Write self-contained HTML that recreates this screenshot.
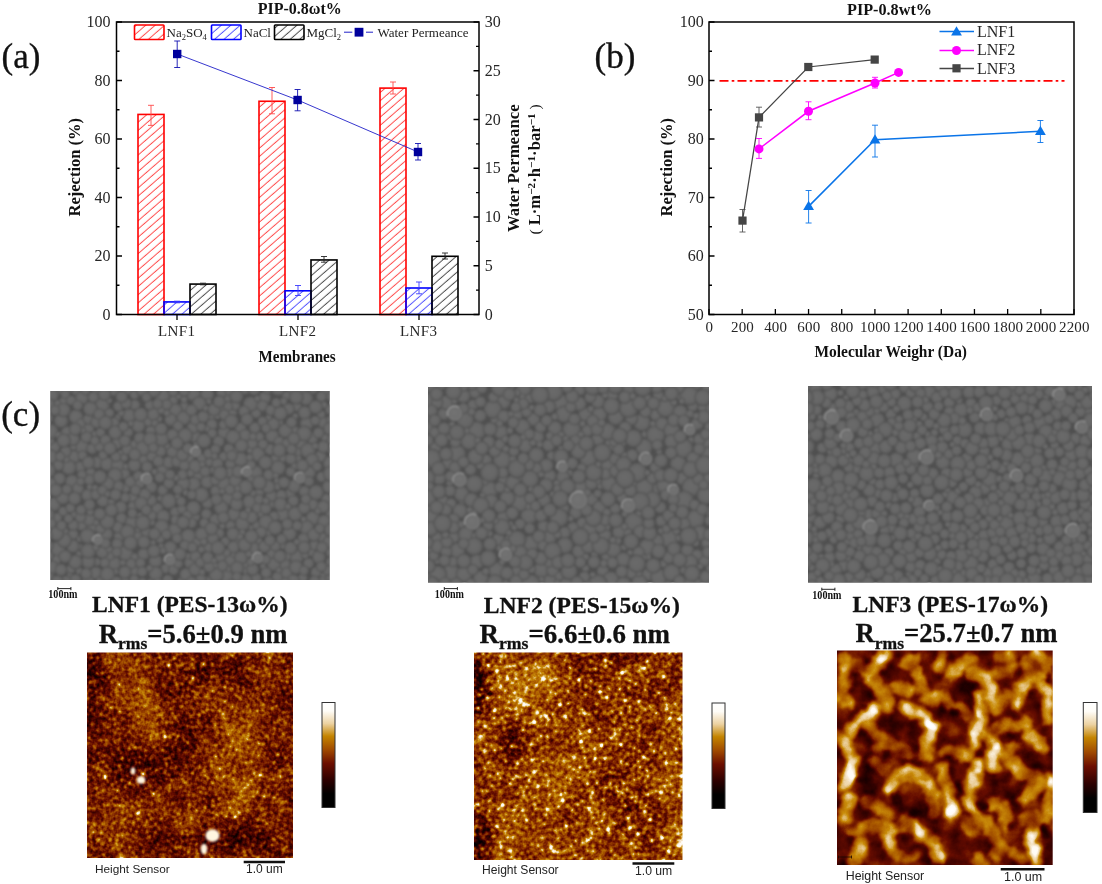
<!DOCTYPE html>
<html><head><meta charset="utf-8"><title>Figure</title>
<style>
html,body{margin:0;padding:0;background:#fff;}
body{width:1102px;height:884px;overflow:hidden;font-family:"Liberation Serif", serif;}
svg{display:block;position:absolute;left:0;top:0;will-change:transform;}
text{font-family:"Liberation Serif", serif;}
.tk{font-size:16px;fill:#262626;}
.tc{font-size:15px;fill:#262626;}
.ar{font-size:16.5px;font-weight:bold;fill:#111;}
.ax{font-size:15.8px;font-weight:bold;fill:#111;}
.ti{font-size:16.5px;font-weight:bold;fill:#111;}
.pl{font-size:34px;fill:#111;stroke:#111;stroke-width:0.35px;}
.cap{font-size:24px;font-weight:bold;fill:#111;stroke:#111;stroke-width:0.3px;}
.hs{font-family:"Liberation Sans", sans-serif;font-size:11.8px;fill:#222;}
.nm{font-size:12px;font-weight:bold;fill:#111;}
</style></head><body>
<svg width="1102" height="884" viewBox="0 0 1102 884">
<defs>
<pattern id="hr" width="6.2" height="6.2" patternUnits="userSpaceOnUse" patternTransform="rotate(-41)"><line x1="-1" y1="3" x2="7.2" y2="3" stroke="#ff2020" stroke-width="0.8"/></pattern>
<pattern id="hb" width="6.2" height="6.2" patternUnits="userSpaceOnUse" patternTransform="rotate(-41)"><line x1="-1" y1="3" x2="7.2" y2="3" stroke="#2a2aff" stroke-width="0.8"/></pattern>
<pattern id="hk" width="6.2" height="6.2" patternUnits="userSpaceOnUse" patternTransform="rotate(-41)"><line x1="-1" y1="3" x2="7.2" y2="3" stroke="#222" stroke-width="0.8"/></pattern>
<linearGradient id="cb" x1="0" y1="0" x2="0" y2="1">
<stop offset="0" stop-color="#ffffff"/><stop offset="0.08" stop-color="#fffdf8"/><stop offset="0.20" stop-color="#ecd2a2"/>
<stop offset="0.32" stop-color="#c48400"/><stop offset="0.45" stop-color="#a04a00"/><stop offset="0.58" stop-color="#6c0e00"/>
<stop offset="0.74" stop-color="#2c0000"/><stop offset="0.87" stop-color="#000"/><stop offset="1" stop-color="#000"/>
</linearGradient>

<radialGradient id="bp" fx="0.42" fy="0.42"><stop offset="0" stop-color="#6a6a6a"/><stop offset="0.6" stop-color="#676767"/><stop offset="0.85" stop-color="#5f5f5f"/><stop offset="1" stop-color="#4c4c4c"/></radialGradient>
<radialGradient id="bq" fx="0.42" fy="0.42"><stop offset="0" stop-color="#737373"/><stop offset="0.6" stop-color="#6f6f6f"/><stop offset="0.86" stop-color="#747474"/><stop offset="1" stop-color="#555"/></radialGradient>
<filter id="bl6" x="-0.1" y="-0.1" width="1.2" height="1.2" color-interpolation-filters="sRGB"><feGaussianBlur stdDeviation="6"/></filter>
<filter id="sb" x="-0.02" y="-0.02" width="1.04" height="1.04" color-interpolation-filters="sRGB"><feGaussianBlur stdDeviation="0.9"/></filter>

<filter id="fa1" x="0" y="0" width="1" height="1" color-interpolation-filters="sRGB">
<feTurbulence type="fractalNoise" baseFrequency="0.28" numOctaves="2" seed="3" result="n"/>
<feColorMatrix in="n" type="matrix" values="1 0 0 0 0 1 0 0 0 0 1 0 0 0 0 0 0 0 0 1" result="ng"/>
<feTurbulence type="fractalNoise" baseFrequency="0.2" numOctaves="1" seed="6" result="d"/>
<feColorMatrix in="d" type="matrix" values="1 0 0 0 0 1 0 0 0 0 1 0 0 0 0 0 0 0 0 1" result="dg"/>
<feComponentTransfer in="dg" result="sp"><feFuncR type="table" tableValues="0 0"/><feFuncG type="table" tableValues="0 0"/><feFuncB type="table" tableValues="0 0"/></feComponentTransfer>
<feTurbulence type="fractalNoise" baseFrequency="0.035" numOctaves="2" seed="10" result="m"/>
<feColorMatrix in="m" type="matrix" values="1 0 0 0 0 1 0 0 0 0 1 0 0 0 0 0 0 0 0 1" result="mg"/>
<feGaussianBlur in="SourceGraphic" stdDeviation="0.85" result="bg0"/>
<feOffset in="bg0" dx="0" dy="0" result="bg"/>
<feComposite in="bg" in2="ng" operator="arithmetic" k1="0" k2="1" k3="0.36" k4="-0.18" result="v1"/>
<feComposite in="v1" in2="mg" operator="arithmetic" k1="0" k2="1" k3="0.28" k4="-0.14" result="v2"/>
<feComposite in="v2" in2="sp" operator="arithmetic" k1="0" k2="1" k3="0.0" k4="0" result="v"/>
<feComponentTransfer in="v"><feFuncR type="table" tableValues="0 0 0.09 0.24 0.40 0.55 0.68 0.79 0.925 1 1"/><feFuncG type="table" tableValues="0 0 0 0.01 0.05 0.20 0.37 0.55 0.82 0.98 1"/><feFuncB type="table" tableValues="0 0 0 0 0 0 0 0.04 0.63 0.95 1"/></feComponentTransfer></filter>
<filter id="fa2" x="0" y="0" width="1" height="1" color-interpolation-filters="sRGB">
<feTurbulence type="fractalNoise" baseFrequency="0.28" numOctaves="2" seed="11" result="n"/>
<feColorMatrix in="n" type="matrix" values="1 0 0 0 0 1 0 0 0 0 1 0 0 0 0 0 0 0 0 1" result="ng"/>
<feTurbulence type="fractalNoise" baseFrequency="0.2" numOctaves="1" seed="14" result="d"/>
<feColorMatrix in="d" type="matrix" values="1 0 0 0 0 1 0 0 0 0 1 0 0 0 0 0 0 0 0 1" result="dg"/>
<feComponentTransfer in="dg" result="sp"><feFuncR type="table" tableValues="0 0"/><feFuncG type="table" tableValues="0 0"/><feFuncB type="table" tableValues="0 0"/></feComponentTransfer>
<feTurbulence type="fractalNoise" baseFrequency="0.03" numOctaves="2" seed="18" result="m"/>
<feColorMatrix in="m" type="matrix" values="1 0 0 0 0 1 0 0 0 0 1 0 0 0 0 0 0 0 0 1" result="mg"/>
<feGaussianBlur in="SourceGraphic" stdDeviation="0.9" result="bg0"/>
<feOffset in="bg0" dx="0" dy="0" result="bg"/>
<feComposite in="bg" in2="ng" operator="arithmetic" k1="0" k2="1" k3="0.36" k4="-0.18" result="v1"/>
<feComposite in="v1" in2="mg" operator="arithmetic" k1="0" k2="1" k3="0.28" k4="-0.14" result="v2"/>
<feComposite in="v2" in2="sp" operator="arithmetic" k1="0" k2="1" k3="0.0" k4="0" result="v"/>
<feComponentTransfer in="v"><feFuncR type="table" tableValues="0 0 0.09 0.24 0.40 0.55 0.68 0.79 0.925 1 1"/><feFuncG type="table" tableValues="0 0 0 0.01 0.05 0.20 0.37 0.55 0.82 0.98 1"/><feFuncB type="table" tableValues="0 0 0 0 0 0 0 0.04 0.63 0.95 1"/></feComponentTransfer></filter>
<filter id="fa3" x="0" y="0" width="1" height="1" color-interpolation-filters="sRGB">
<feTurbulence type="fractalNoise" baseFrequency="0.22" numOctaves="2" seed="5" result="n"/>
<feColorMatrix in="n" type="matrix" values="1 0 0 0 0 1 0 0 0 0 1 0 0 0 0 0 0 0 0 1" result="ng"/>
<feTurbulence type="fractalNoise" baseFrequency="0.2" numOctaves="1" seed="8" result="d"/>
<feColorMatrix in="d" type="matrix" values="1 0 0 0 0 1 0 0 0 0 1 0 0 0 0 0 0 0 0 1" result="dg"/>
<feComponentTransfer in="dg" result="sp"><feFuncR type="table" tableValues="0 0"/><feFuncG type="table" tableValues="0 0"/><feFuncB type="table" tableValues="0 0"/></feComponentTransfer>
<feTurbulence type="fractalNoise" baseFrequency="0.05" numOctaves="2" seed="12" result="m"/>
<feColorMatrix in="m" type="matrix" values="1 0 0 0 0 1 0 0 0 0 1 0 0 0 0 0 0 0 0 1" result="mg"/>
<feGaussianBlur in="SourceGraphic" stdDeviation="1.3" result="bg0"/>
<feTurbulence type="fractalNoise" baseFrequency="0.085" numOctaves="2" seed="18" result="dn"/><feDisplacementMap in="bg0" in2="dn" scale="9" xChannelSelector="R" yChannelSelector="G" result="bgd"/><feGaussianBlur in="bgd" stdDeviation="0.8" result="bg"/>
<feComposite in="bg" in2="ng" operator="arithmetic" k1="0" k2="1" k3="0.06" k4="-0.03" result="v1"/>
<feComposite in="v1" in2="mg" operator="arithmetic" k1="0" k2="1" k3="0.5" k4="-0.25" result="v2"/>
<feComposite in="v2" in2="sp" operator="arithmetic" k1="0" k2="1" k3="0.0" k4="0" result="v"/>
<feComponentTransfer in="v"><feFuncR type="table" tableValues="0 0 0.09 0.24 0.40 0.55 0.68 0.79 0.925 1 1"/><feFuncG type="table" tableValues="0 0 0 0.01 0.05 0.20 0.37 0.55 0.82 0.98 1"/><feFuncB type="table" tableValues="0 0 0 0 0 0 0 0.04 0.63 0.95 1"/></feComponentTransfer></filter>

</defs>

<g id="chartA">
<rect x="138.00" y="114.43" width="26" height="200.07" fill="url(#hr)" stroke="#ff0000" stroke-width="1.6"/>
<path d="M151.00 105.3V125.4M148.00 105.3h6M148.00 125.4h6" stroke="#ff4a4a" stroke-width="0.9" fill="none"/>
<rect x="164.00" y="301.92" width="26" height="12.58" fill="url(#hb)" stroke="#0000ff" stroke-width="1.6"/>
<path d="M177.00 301.2V302.8M174.00 301.2h6M174.00 302.8h6" stroke="#3a3aff" stroke-width="0.9" fill="none"/>
<rect x="190.00" y="284.08" width="26" height="30.42" fill="url(#hk)" stroke="#000000" stroke-width="1.6"/>
<path d="M203.00 283.2V284.8M200.00 283.2h6M200.00 284.8h6" stroke="#222" stroke-width="0.9" fill="none"/>
<rect x="259.00" y="101.27" width="26" height="213.23" fill="url(#hr)" stroke="#ff0000" stroke-width="1.6"/>
<path d="M272.00 87.5V113.8M269.00 87.5h6M269.00 113.8h6" stroke="#ff4a4a" stroke-width="0.9" fill="none"/>
<rect x="285.00" y="290.81" width="26" height="23.69" fill="url(#hb)" stroke="#0000ff" stroke-width="1.6"/>
<path d="M298.00 285.5V295.5M295.00 285.5h6M295.00 295.5h6" stroke="#3a3aff" stroke-width="0.9" fill="none"/>
<rect x="311.00" y="259.95" width="26" height="54.55" fill="url(#hk)" stroke="#000000" stroke-width="1.6"/>
<path d="M324.00 256.5V262.2M321.00 256.5h6M321.00 262.2h6" stroke="#222" stroke-width="0.9" fill="none"/>
<rect x="380.00" y="88.10" width="26" height="226.40" fill="url(#hr)" stroke="#ff0000" stroke-width="1.6"/>
<path d="M393.00 82V94M390.00 82h6M390.00 94h6" stroke="#ff4a4a" stroke-width="0.9" fill="none"/>
<rect x="406.00" y="288.00" width="26" height="26.50" fill="url(#hb)" stroke="#0000ff" stroke-width="1.6"/>
<path d="M419.00 282V293.8M416.00 282h6M416.00 293.8h6" stroke="#3a3aff" stroke-width="0.9" fill="none"/>
<rect x="432.00" y="256.29" width="26" height="58.21" fill="url(#hk)" stroke="#000000" stroke-width="1.6"/>
<path d="M445.00 253V259M442.00 253h6M442.00 259h6" stroke="#222" stroke-width="0.9" fill="none"/>
<polyline points="177.2,54 297.6,100 418,152" fill="none" stroke="#2020c8" stroke-width="0.9"/>
<path d="M177.2 41V67.5M174.2 41h6M174.2 67.5h6" stroke="#1010b0" stroke-width="0.9" fill="none"/>
<rect x="173.0" y="49.8" width="8.4" height="8.4" fill="#00009c"/>
<path d="M297.6 89.5V110.8M294.6 89.5h6M294.6 110.8h6" stroke="#1010b0" stroke-width="0.9" fill="none"/>
<rect x="293.40000000000003" y="95.8" width="8.4" height="8.4" fill="#00009c"/>
<path d="M418 143.5V160M415 143.5h6M415 160h6" stroke="#1010b0" stroke-width="0.9" fill="none"/>
<rect x="413.8" y="147.8" width="8.4" height="8.4" fill="#00009c"/>
<rect x="116.5" y="22" width="362.5" height="292.5" fill="none" stroke="#000" stroke-width="1.5"/>
<path d="M116.5 314.50h5.5M116.5 285.25h3M116.5 256.00h5.5M116.5 226.75h3M116.5 197.50h5.5M116.5 168.25h3M116.5 139.00h5.5M116.5 109.75h3M116.5 80.50h5.5M116.5 51.25h3M116.5 22.00h5.5M479 314.50h-5.5M479 290.12h-3M479 265.75h-5.5M479 241.38h-3M479 217.00h-5.5M479 192.62h-3M479 168.25h-5.5M479 143.88h-3M479 119.50h-5.5M479 95.12h-3M479 70.75h-5.5M479 46.38h-3M479 22.00h-5.5M177 314.5v5.5M298 314.5v5.5M419 314.5v5.5" stroke="#000" stroke-width="1.3" fill="none"/>
<text class="tk" x="110.6" y="319.60" text-anchor="end">0</text>
<text class="tk" x="110.6" y="261.10" text-anchor="end">20</text>
<text class="tk" x="110.6" y="202.60" text-anchor="end">40</text>
<text class="tk" x="110.6" y="144.10" text-anchor="end">60</text>
<text class="tk" x="110.6" y="85.60" text-anchor="end">80</text>
<text class="tk" x="110.6" y="27.10" text-anchor="end">100</text>
<text class="tk" x="484.8" y="319.60">0</text>
<text class="tk" x="484.8" y="270.85">5</text>
<text class="tk" x="484.8" y="222.10">10</text>
<text class="tk" x="484.8" y="173.35">15</text>
<text class="tk" x="484.8" y="124.60">20</text>
<text class="tk" x="484.8" y="75.85">25</text>
<text class="tk" x="484.8" y="27.10">30</text>
<text class="tc" x="176.6" y="335.5" text-anchor="middle" style="letter-spacing:0.4px">LNF1</text>
<text class="tc" x="297.6" y="335.5" text-anchor="middle" style="letter-spacing:0.4px">LNF2</text>
<text class="tc" x="418.6" y="335.5" text-anchor="middle" style="letter-spacing:0.4px">LNF3</text>
<text class="ax" x="258.5" y="361.7" textLength="77.2" lengthAdjust="spacingAndGlyphs">Membranes</text>
<text class="ar" transform="translate(80.3,216.5) rotate(-90)" textLength="98.6" lengthAdjust="spacingAndGlyphs">Rejection (%)</text>
<text class="ar" transform="translate(518.5,232) rotate(-90)" textLength="127.6" lengthAdjust="spacingAndGlyphs">Water Permeance</text>
<text class="ar" transform="translate(540,234.6) rotate(-90)" textLength="130.4" lengthAdjust="spacing"><tspan font-weight="normal" font-size="15.5">( </tspan>L·m<tspan dy="-5.5" font-size="11">−2</tspan><tspan dy="5.5">·h</tspan><tspan dy="-5.5" font-size="11">−1</tspan><tspan dy="5.5">·bar</tspan><tspan dy="-5.5" font-size="11">−1</tspan><tspan dy="5.5" font-weight="normal" font-size="15.5"> )</tspan></text>
<text class="ti" x="257.8" y="13.7" textLength="84" lengthAdjust="spacingAndGlyphs">PIP-0.8ωt%</text>
<rect x="134.5" y="25" width="29.5" height="14.5" rx="0.8" fill="url(#hr)" stroke="#ff0000" stroke-width="1.6"/>
<rect x="211.5" y="25" width="29.5" height="14.5" rx="0.8" fill="url(#hb)" stroke="#0000ff" stroke-width="1.6"/>
<rect x="274.5" y="25" width="29.5" height="14.5" rx="0.8" fill="url(#hk)" stroke="#000" stroke-width="1.6"/>
<text x="166.5" y="36.5" font-size="13" fill="#222">Na<tspan dy="3" font-size="8.5">2</tspan><tspan dy="-3">SO</tspan><tspan dy="3" font-size="8.5">4</tspan></text>
<text x="243.5" y="36.5" font-size="13" fill="#222">NaCl</text>
<text x="306.5" y="36.5" font-size="13" fill="#222">MgCl<tspan dy="3" font-size="8.5">2</tspan></text>
<path d="M344 32.2H352.3M366 32.2H373" stroke="#2020c8" stroke-width="1"/><rect x="354.6" y="27.8" width="8.8" height="8.8" fill="#00009c"/>
<text x="377.5" y="36.5" font-size="13" fill="#222">Water Permeance</text>
<text class="pl" x="1.5" y="67.5" style="font-size:35px">(a)</text>
</g>
<g id="chartB">
<path d="M719.5 80.9H1064.5" stroke="#ff0000" stroke-width="1.8" stroke-dasharray="9 3.2 2.6 3.2" fill="none"/>
<path d="M742.5 209.5V232M739.5 209.5h6M739.5 232h6" stroke="#555" stroke-width="0.9" fill="none"/>
<path d="M759 107.2V127M756 107.2h6M756 127h6" stroke="#555" stroke-width="0.9" fill="none"/>
<polyline points="742.5,220.6 759,117.4 808.3,67 874.7,59.6" fill="none" stroke="#454545" stroke-width="1.25"/>
<rect x="738.4" y="216.5" width="8.2" height="8.2" fill="#454545"/>
<rect x="754.9" y="113.30000000000001" width="8.2" height="8.2" fill="#454545"/>
<rect x="804.1999999999999" y="62.9" width="8.2" height="8.2" fill="#454545"/>
<rect x="870.6" y="55.5" width="8.2" height="8.2" fill="#454545"/>
<path d="M759 138.5V158.4M756 138.5h6M756 158.4h6" stroke="#ff00ff" stroke-width="0.9" fill="none"/>
<path d="M808.5 101.8V119.7M805.5 101.8h6M805.5 119.7h6" stroke="#ff00ff" stroke-width="0.9" fill="none"/>
<path d="M875 77.3V88M872 77.3h6M872 88h6" stroke="#ff00ff" stroke-width="0.9" fill="none"/>
<polyline points="759,148.9 808.5,111.3 875,83 898.6,72.4" fill="none" stroke="#ff00ff" stroke-width="1.55"/>
<circle cx="759" cy="148.9" r="4.5" fill="#ff00ff"/>
<circle cx="808.5" cy="111.3" r="4.5" fill="#ff00ff"/>
<circle cx="875" cy="83" r="4.5" fill="#ff00ff"/>
<circle cx="898.6" cy="72.4" r="4.5" fill="#ff00ff"/>
<path d="M808.6 190.5V223M805.6 190.5h6M805.6 223h6" stroke="#0a74e8" stroke-width="0.9" fill="none"/>
<path d="M875 125.2V157M872 125.2h6M872 157h6" stroke="#0a74e8" stroke-width="0.9" fill="none"/>
<path d="M1040.4 120.5V142.5M1037.4 120.5h6M1037.4 142.5h6" stroke="#0a74e8" stroke-width="0.9" fill="none"/>
<polyline points="808.6,206.4 875,139.8 1040.4,131.3" fill="none" stroke="#0a74e8" stroke-width="1.55"/>
<path d="M808.6 200.8L814.0 210.0H803.2Z" fill="#0a74e8"/>
<path d="M875 134.20000000000002L880.4 143.4H869.6Z" fill="#0a74e8"/>
<path d="M1040.4 125.70000000000002L1045.8000000000002 134.9H1035.0Z" fill="#0a74e8"/>
<rect x="709" y="22" width="365" height="292.5" fill="none" stroke="#000" stroke-width="1.5"/>
<path d="M709 314.50h5.5M709 285.25h3M709 256.00h5.5M709 226.75h3M709 197.50h5.5M709 168.25h3M709 139.00h5.5M709 109.75h3M709 80.50h5.5M709 51.25h3M709 22.00h5.5M709.00 314.5v-5.5M742.18 314.5v-5.5M775.36 314.5v-5.5M808.55 314.5v-5.5M841.73 314.5v-5.5M874.91 314.5v-5.5M908.09 314.5v-5.5M941.27 314.5v-5.5M974.45 314.5v-5.5M1007.64 314.5v-5.5M1040.82 314.5v-5.5M1074.00 314.5v-5.5" stroke="#000" stroke-width="1.3" fill="none"/>
<text class="tk" x="703.8" y="319.60" text-anchor="end">50</text>
<text class="tk" x="703.8" y="261.10" text-anchor="end">60</text>
<text class="tk" x="703.8" y="202.60" text-anchor="end">70</text>
<text class="tk" x="703.8" y="144.10" text-anchor="end">80</text>
<text class="tk" x="703.8" y="85.60" text-anchor="end">90</text>
<text class="tk" x="703.8" y="27.10" text-anchor="end">100</text>
<text class="tc" x="709.30" y="332.2" text-anchor="middle" style="letter-spacing:0.15px">0</text>
<text class="tc" x="742.48" y="332.2" text-anchor="middle" style="letter-spacing:0.15px">200</text>
<text class="tc" x="775.66" y="332.2" text-anchor="middle" style="letter-spacing:0.15px">400</text>
<text class="tc" x="808.85" y="332.2" text-anchor="middle" style="letter-spacing:0.15px">600</text>
<text class="tc" x="842.03" y="332.2" text-anchor="middle" style="letter-spacing:0.15px">800</text>
<text class="tc" x="875.21" y="332.2" text-anchor="middle" style="letter-spacing:0.15px">1000</text>
<text class="tc" x="908.39" y="332.2" text-anchor="middle" style="letter-spacing:0.15px">1200</text>
<text class="tc" x="941.57" y="332.2" text-anchor="middle" style="letter-spacing:0.15px">1400</text>
<text class="tc" x="974.75" y="332.2" text-anchor="middle" style="letter-spacing:0.15px">1600</text>
<text class="tc" x="1007.94" y="332.2" text-anchor="middle" style="letter-spacing:0.15px">1800</text>
<text class="tc" x="1041.12" y="332.2" text-anchor="middle" style="letter-spacing:0.15px">2000</text>
<text class="tc" x="1074.30" y="332.2" text-anchor="middle" style="letter-spacing:0.15px">2200</text>
<text class="ax" x="814.5" y="356.6" textLength="152.5" lengthAdjust="spacingAndGlyphs">Molecular Weighr (Da)</text>
<text class="ar" transform="translate(672.3,216.5) rotate(-90)" textLength="98.6" lengthAdjust="spacingAndGlyphs">Rejection (%)</text>
<text class="ti" x="847" y="14.8" textLength="85" lengthAdjust="spacingAndGlyphs">PIP-0.8wt%</text>
<path d="M939.5 31.5H974" stroke="#0a74e8" stroke-width="1.5"/>
<path d="M956.5 26.200000000000003L961.9 35.4H951.1Z" fill="#0a74e8"/>
<path d="M939.5 50.5H974" stroke="#ff00ff" stroke-width="1.5"/><circle cx="956.5" cy="50.5" r="4.5" fill="#ff00ff"/>
<path d="M939.5 68.5H974" stroke="#454545" stroke-width="1.4"/><rect x="952.4" y="64.2" width="8.2" height="8.2" fill="#454545"/>
<text class="tk" x="977" y="36.5">LNF1</text>
<text class="tk" x="977" y="55.3">LNF2</text>
<text class="tk" x="977" y="73.5">LNF3</text>
<text class="pl" x="594.5" y="67.5" style="font-size:35px">(b)</text>
</g>
<g id="sem">
<clipPath id="cs0"><rect x="50.5" y="391" width="279" height="189"/></clipPath>
<g clip-path="url(#cs0)"><rect x="47.5" y="388" width="285" height="195" fill="#505050"/><g filter="url(#sb)">
<g fill="url(#bp)"><circle cx="227.8" cy="498.8" r="7.0"/><circle cx="313.0" cy="388.7" r="5.9"/><circle cx="174.8" cy="529.9" r="7.3"/><circle cx="212.2" cy="470.3" r="3.5"/><circle cx="57.2" cy="517.8" r="5.3"/><circle cx="259.5" cy="492.2" r="5.0"/><circle cx="59.7" cy="388.6" r="6.9"/><circle cx="259.5" cy="436.8" r="5.0"/><circle cx="236.5" cy="540.7" r="3.3"/><circle cx="251.2" cy="527.9" r="3.3"/><circle cx="92.5" cy="527.9" r="5.7"/><circle cx="184.3" cy="406.8" r="5.1"/><circle cx="208.9" cy="547.3" r="5.7"/><circle cx="313.0" cy="518.1" r="7.5"/><circle cx="206.4" cy="514.1" r="5.7"/><circle cx="289.6" cy="533.6" r="7.5"/><circle cx="331.5" cy="504.6" r="4.5"/><circle cx="296.7" cy="556.9" r="7.7"/><circle cx="162.9" cy="468.9" r="6.3"/><circle cx="97.2" cy="462.5" r="6.5"/><circle cx="117.9" cy="417.3" r="3.3"/><circle cx="119.4" cy="536.1" r="5.9"/><circle cx="215.4" cy="519.9" r="6.3"/><circle cx="79.6" cy="538.8" r="3.5"/><circle cx="244.7" cy="389.4" r="5.5"/><circle cx="198.4" cy="474.8" r="5.7"/><circle cx="194.7" cy="436.2" r="6.5"/><circle cx="172.6" cy="451.5" r="6.6"/><circle cx="301.9" cy="388.3" r="8.0"/><circle cx="107.1" cy="464.0" r="7.2"/><circle cx="277.7" cy="577.2" r="6.0"/><circle cx="286.5" cy="395.6" r="5.0"/><circle cx="167.8" cy="580.1" r="5.8"/><circle cx="117.3" cy="543.9" r="6.0"/><circle cx="127.6" cy="389.1" r="6.6"/><circle cx="280.5" cy="422.3" r="3.2"/><circle cx="227.3" cy="398.2" r="5.3"/><circle cx="294.7" cy="466.3" r="4.3"/><circle cx="125.7" cy="553.3" r="8.0"/><circle cx="125.6" cy="488.2" r="5.0"/><circle cx="209.4" cy="462.3" r="4.7"/><circle cx="157.5" cy="508.5" r="6.2"/><circle cx="306.6" cy="527.4" r="7.6"/><circle cx="323.6" cy="422.6" r="6.2"/><circle cx="306.8" cy="423.6" r="7.1"/><circle cx="330.9" cy="513.8" r="5.7"/><circle cx="272.4" cy="504.4" r="3.8"/><circle cx="330.3" cy="463.1" r="7.6"/><circle cx="245.5" cy="570.8" r="3.7"/><circle cx="298.8" cy="451.3" r="5.5"/><circle cx="274.8" cy="459.2" r="5.0"/><circle cx="331.1" cy="552.6" r="5.5"/><circle cx="268.8" cy="474.9" r="5.9"/><circle cx="53.9" cy="504.3" r="7.3"/><circle cx="63.8" cy="401.4" r="5.1"/><circle cx="303.5" cy="539.0" r="6.3"/><circle cx="160.5" cy="498.5" r="3.6"/><circle cx="331.8" cy="420.4" r="5.9"/><circle cx="284.3" cy="564.2" r="6.9"/><circle cx="74.0" cy="456.7" r="7.0"/><circle cx="240.7" cy="428.2" r="6.1"/><circle cx="114.4" cy="422.5" r="5.4"/><circle cx="124.4" cy="473.5" r="6.0"/><circle cx="166.8" cy="445.6" r="3.7"/><circle cx="161.7" cy="438.8" r="8.0"/><circle cx="124.6" cy="581.9" r="5.7"/><circle cx="207.5" cy="503.1" r="5.9"/><circle cx="226.5" cy="576.2" r="7.4"/><circle cx="256.1" cy="472.5" r="7.1"/><circle cx="81.7" cy="446.5" r="7.7"/><circle cx="150.8" cy="430.7" r="5.5"/><circle cx="117.9" cy="465.1" r="7.1"/><circle cx="277.1" cy="486.6" r="4.0"/><circle cx="324.3" cy="521.5" r="7.0"/><circle cx="228.7" cy="568.7" r="3.6"/><circle cx="47.5" cy="515.1" r="7.5"/><circle cx="67.1" cy="432.2" r="6.3"/><circle cx="57.9" cy="549.0" r="8.0"/><circle cx="129.2" cy="415.5" r="7.3"/><circle cx="146.3" cy="532.0" r="5.6"/><circle cx="69.6" cy="575.5" r="3.3"/><circle cx="132.8" cy="497.7" r="5.7"/><circle cx="321.7" cy="476.9" r="5.6"/><circle cx="148.0" cy="421.6" r="5.4"/><circle cx="234.0" cy="514.3" r="7.1"/><circle cx="175.2" cy="512.0" r="5.5"/><circle cx="159.3" cy="418.9" r="3.4"/><circle cx="211.5" cy="417.1" r="3.7"/><circle cx="249.8" cy="501.9" r="7.5"/><circle cx="92.2" cy="448.6" r="5.8"/><circle cx="63.3" cy="511.4" r="5.2"/><circle cx="236.7" cy="504.2" r="6.9"/><circle cx="312.5" cy="438.4" r="6.0"/><circle cx="236.0" cy="450.5" r="3.3"/><circle cx="207.3" cy="394.3" r="7.2"/><circle cx="325.4" cy="389.4" r="6.6"/><circle cx="81.9" cy="525.8" r="5.4"/><circle cx="207.3" cy="482.0" r="6.9"/><circle cx="221.3" cy="507.9" r="7.6"/><circle cx="222.0" cy="408.4" r="3.5"/><circle cx="225.3" cy="541.6" r="5.0"/><circle cx="138.5" cy="425.9" r="7.2"/><circle cx="204.3" cy="523.0" r="5.2"/><circle cx="134.7" cy="445.0" r="5.3"/><circle cx="256.3" cy="578.6" r="5.9"/><circle cx="282.9" cy="546.0" r="3.3"/><circle cx="130.9" cy="423.7" r="3.2"/><circle cx="232.3" cy="412.2" r="5.4"/><circle cx="66.4" cy="582.3" r="7.0"/><circle cx="162.7" cy="490.3" r="5.6"/><circle cx="62.9" cy="497.4" r="7.4"/><circle cx="208.8" cy="401.5" r="3.2"/><circle cx="215.8" cy="491.0" r="5.8"/><circle cx="80.1" cy="547.1" r="3.3"/><circle cx="80.3" cy="466.9" r="5.9"/><circle cx="125.9" cy="466.4" r="3.2"/><circle cx="278.3" cy="467.9" r="7.8"/><circle cx="151.2" cy="500.4" r="6.1"/><circle cx="125.3" cy="497.7" r="5.2"/><circle cx="168.7" cy="462.4" r="6.5"/><circle cx="290.3" cy="493.5" r="5.5"/><circle cx="79.1" cy="554.0" r="3.4"/><circle cx="134.5" cy="394.9" r="5.0"/><circle cx="113.9" cy="563.5" r="7.8"/><circle cx="77.4" cy="389.3" r="7.2"/><circle cx="89.4" cy="519.8" r="6.8"/><circle cx="230.4" cy="560.3" r="6.2"/><circle cx="231.1" cy="583.0" r="3.7"/><circle cx="90.3" cy="512.0" r="4.0"/><circle cx="329.2" cy="578.7" r="5.7"/><circle cx="173.4" cy="400.3" r="5.1"/><circle cx="75.9" cy="416.8" r="7.6"/><circle cx="193.0" cy="427.7" r="6.4"/><circle cx="106.9" cy="533.9" r="6.5"/><circle cx="143.0" cy="458.8" r="5.7"/><circle cx="193.9" cy="484.2" r="7.3"/><circle cx="81.0" cy="423.5" r="5.1"/><circle cx="151.8" cy="456.1" r="5.8"/><circle cx="189.8" cy="562.7" r="6.0"/><circle cx="188.4" cy="536.4" r="8.0"/><circle cx="245.8" cy="564.6" r="3.6"/><circle cx="256.2" cy="413.1" r="5.5"/><circle cx="282.7" cy="514.4" r="7.3"/><circle cx="56.4" cy="559.9" r="5.0"/><circle cx="323.3" cy="575.4" r="3.3"/><circle cx="168.8" cy="501.1" r="8.1"/><circle cx="235.3" cy="405.5" r="5.2"/><circle cx="100.6" cy="528.8" r="5.6"/><circle cx="109.9" cy="556.0" r="5.1"/><circle cx="72.1" cy="481.6" r="7.2"/><circle cx="151.4" cy="487.3" r="6.2"/><circle cx="264.9" cy="397.8" r="6.6"/><circle cx="322.1" cy="581.9" r="5.5"/><circle cx="331.6" cy="438.9" r="6.1"/><circle cx="153.4" cy="414.2" r="6.8"/><circle cx="195.4" cy="556.2" r="6.1"/><circle cx="222.3" cy="526.1" r="3.3"/><circle cx="87.3" cy="495.2" r="6.4"/><circle cx="68.8" cy="467.4" r="7.9"/><circle cx="254.3" cy="389.3" r="6.4"/><circle cx="245.8" cy="580.7" r="7.0"/><circle cx="331.5" cy="562.1" r="6.0"/><circle cx="120.9" cy="507.3" r="6.6"/><circle cx="142.5" cy="582.6" r="5.1"/><circle cx="286.9" cy="573.2" r="6.3"/><circle cx="74.1" cy="514.6" r="3.6"/><circle cx="189.4" cy="459.5" r="5.5"/><circle cx="73.3" cy="534.3" r="5.6"/><circle cx="276.8" cy="480.5" r="3.4"/><circle cx="302.7" cy="578.3" r="5.2"/><circle cx="196.4" cy="444.8" r="3.5"/><circle cx="224.0" cy="483.3" r="7.6"/><circle cx="57.0" cy="403.6" r="4.2"/><circle cx="301.4" cy="443.2" r="6.5"/><circle cx="88.9" cy="428.7" r="5.7"/><circle cx="88.4" cy="419.0" r="5.6"/><circle cx="306.2" cy="398.5" r="7.3"/><circle cx="155.6" cy="561.2" r="7.2"/><circle cx="254.9" cy="427.9" r="6.0"/><circle cx="308.1" cy="450.6" r="8.0"/><circle cx="273.9" cy="564.1" r="7.3"/><circle cx="221.8" cy="392.3" r="5.8"/><circle cx="102.8" cy="501.0" r="6.4"/><circle cx="212.0" cy="424.6" r="6.0"/><circle cx="242.6" cy="523.6" r="7.9"/><circle cx="117.0" cy="443.6" r="6.0"/><circle cx="320.5" cy="456.3" r="6.1"/><circle cx="161.1" cy="546.0" r="3.1"/><circle cx="201.5" cy="494.9" r="7.9"/><circle cx="224.2" cy="432.8" r="6.9"/><circle cx="250.7" cy="404.0" r="7.9"/><circle cx="155.0" cy="423.3" r="3.8"/><circle cx="259.0" cy="541.0" r="3.8"/><circle cx="195.2" cy="466.7" r="7.4"/><circle cx="294.5" cy="430.9" r="5.1"/><circle cx="72.9" cy="546.2" r="6.9"/><circle cx="175.7" cy="410.4" r="7.2"/><circle cx="290.7" cy="548.1" r="6.9"/><circle cx="181.9" cy="581.5" r="4.9"/><circle cx="308.6" cy="563.4" r="5.7"/><circle cx="223.5" cy="456.7" r="5.0"/><circle cx="181.9" cy="509.3" r="5.0"/><circle cx="257.8" cy="508.3" r="5.9"/><circle cx="165.6" cy="568.7" r="5.3"/><circle cx="311.7" cy="551.9" r="5.1"/><circle cx="102.2" cy="405.2" r="7.9"/><circle cx="298.3" cy="458.8" r="3.8"/><circle cx="162.5" cy="395.7" r="8.0"/><circle cx="322.3" cy="537.4" r="5.2"/><circle cx="230.4" cy="525.3" r="5.2"/><circle cx="90.7" cy="472.3" r="5.0"/><circle cx="263.2" cy="566.2" r="3.3"/><circle cx="48.3" cy="575.1" r="6.0"/><circle cx="252.1" cy="444.1" r="6.3"/><circle cx="237.3" cy="495.2" r="5.5"/><circle cx="121.2" cy="413.1" r="3.7"/><circle cx="109.6" cy="413.0" r="5.0"/><circle cx="69.1" cy="388.8" r="4.3"/><circle cx="207.1" cy="429.0" r="3.2"/><circle cx="295.3" cy="513.8" r="7.7"/><circle cx="52.1" cy="394.8" r="7.3"/><circle cx="186.0" cy="574.5" r="6.8"/><circle cx="80.6" cy="517.5" r="5.8"/><circle cx="81.2" cy="509.9" r="5.5"/><circle cx="257.8" cy="454.3" r="7.8"/><circle cx="136.8" cy="536.2" r="6.0"/><circle cx="82.0" cy="397.9" r="7.1"/><circle cx="160.2" cy="538.8" r="4.9"/><circle cx="329.0" cy="542.2" r="6.5"/><circle cx="309.3" cy="472.5" r="6.9"/><circle cx="87.5" cy="536.0" r="8.0"/><circle cx="183.5" cy="483.6" r="7.0"/><circle cx="272.0" cy="553.3" r="5.8"/><circle cx="94.5" cy="434.0" r="3.2"/><circle cx="331.0" cy="451.0" r="3.3"/><circle cx="86.5" cy="437.1" r="6.2"/><circle cx="79.4" cy="570.9" r="4.0"/><circle cx="209.6" cy="581.5" r="5.8"/><circle cx="120.8" cy="452.8" r="3.2"/><circle cx="233.0" cy="534.0" r="6.9"/><circle cx="163.4" cy="516.4" r="7.1"/><circle cx="251.1" cy="480.4" r="5.0"/><circle cx="215.3" cy="480.5" r="5.1"/><circle cx="314.5" cy="545.2" r="5.5"/><circle cx="127.4" cy="449.6" r="5.9"/><circle cx="268.3" cy="532.7" r="3.8"/><circle cx="115.3" cy="432.5" r="7.3"/><circle cx="271.4" cy="495.9" r="6.3"/><circle cx="96.0" cy="573.2" r="6.8"/><circle cx="139.8" cy="438.1" r="6.2"/><circle cx="195.4" cy="419.7" r="5.8"/><circle cx="329.9" cy="428.7" r="6.9"/><circle cx="244.1" cy="411.4" r="6.0"/><circle cx="304.3" cy="433.6" r="8.0"/><circle cx="82.6" cy="455.6" r="5.0"/><circle cx="267.8" cy="582.8" r="6.6"/><circle cx="296.2" cy="567.3" r="7.3"/><circle cx="296.8" cy="406.6" r="5.3"/><circle cx="104.7" cy="562.8" r="5.4"/><circle cx="66.2" cy="459.3" r="3.8"/><circle cx="96.9" cy="562.0" r="4.3"/><circle cx="132.7" cy="506.2" r="5.1"/><circle cx="272.2" cy="436.0" r="7.3"/><circle cx="314.0" cy="534.8" r="6.9"/><circle cx="245.2" cy="435.4" r="6.5"/><circle cx="121.5" cy="518.5" r="6.0"/><circle cx="253.0" cy="436.6" r="4.1"/><circle cx="285.4" cy="430.7" r="7.5"/><circle cx="88.4" cy="561.7" r="7.4"/><circle cx="273.5" cy="424.1" r="6.8"/><circle cx="178.8" cy="396.7" r="3.1"/><circle cx="293.5" cy="580.6" r="6.6"/><circle cx="216.6" cy="499.6" r="6.0"/><circle cx="278.9" cy="570.2" r="3.1"/><circle cx="219.4" cy="533.4" r="5.3"/><circle cx="50.9" cy="523.6" r="5.7"/><circle cx="195.1" cy="516.8" r="5.3"/><circle cx="330.6" cy="409.6" r="5.8"/><circle cx="138.2" cy="529.3" r="3.3"/><circle cx="201.2" cy="427.1" r="5.0"/><circle cx="96.6" cy="422.2" r="6.2"/><circle cx="101.8" cy="582.6" r="7.2"/><circle cx="251.0" cy="465.1" r="5.3"/><circle cx="65.3" cy="394.3" r="5.0"/><circle cx="150.9" cy="582.0" r="3.9"/><circle cx="54.3" cy="447.2" r="6.2"/><circle cx="262.6" cy="405.9" r="6.0"/><circle cx="326.5" cy="498.9" r="5.5"/><circle cx="203.3" cy="416.8" r="6.3"/><circle cx="331.1" cy="529.9" r="7.2"/><circle cx="130.5" cy="481.8" r="6.1"/><circle cx="89.6" cy="504.7" r="5.9"/><circle cx="170.3" cy="547.7" r="7.0"/><circle cx="257.0" cy="525.2" r="4.9"/><circle cx="132.0" cy="522.4" r="7.1"/><circle cx="268.7" cy="417.5" r="3.3"/><circle cx="228.9" cy="448.8" r="5.6"/><circle cx="88.5" cy="462.6" r="6.7"/><circle cx="292.0" cy="389.1" r="4.9"/><circle cx="233.2" cy="437.2" r="7.7"/><circle cx="177.2" cy="461.7" r="6.0"/><circle cx="151.9" cy="522.4" r="3.6"/><circle cx="319.8" cy="528.7" r="5.2"/><circle cx="216.4" cy="574.9" r="7.7"/><circle cx="295.3" cy="416.2" r="3.2"/><circle cx="251.8" cy="517.3" r="6.5"/><circle cx="155.8" cy="573.6" r="7.5"/><circle cx="134.5" cy="465.2" r="6.9"/><circle cx="161.7" cy="527.1" r="7.9"/><circle cx="270.2" cy="449.5" r="6.0"/><circle cx="187.6" cy="555.9" r="3.4"/><circle cx="100.7" cy="432.5" r="5.0"/><circle cx="102.4" cy="552.0" r="6.7"/><circle cx="193.5" cy="394.0" r="7.7"/><circle cx="259.1" cy="499.4" r="5.1"/><circle cx="294.4" cy="486.3" r="7.0"/><circle cx="71.0" cy="569.1" r="5.0"/><circle cx="230.5" cy="463.9" r="5.6"/><circle cx="279.2" cy="441.6" r="5.6"/><circle cx="75.4" cy="562.0" r="7.4"/><circle cx="199.4" cy="403.6" r="7.4"/><circle cx="89.3" cy="479.8" r="5.7"/><circle cx="88.2" cy="582.8" r="7.3"/><circle cx="252.7" cy="569.4" r="6.5"/><circle cx="161.8" cy="409.6" r="5.0"/><circle cx="47.7" cy="418.2" r="5.9"/><circle cx="275.4" cy="546.1" r="5.6"/><circle cx="183.7" cy="418.1" r="7.3"/><circle cx="115.1" cy="475.4" r="7.8"/><circle cx="159.7" cy="477.4" r="5.6"/><circle cx="134.7" cy="556.9" r="4.0"/><circle cx="109.3" cy="400.5" r="3.2"/><circle cx="59.6" cy="478.6" r="6.5"/><circle cx="116.0" cy="456.9" r="5.3"/><circle cx="261.1" cy="514.7" r="3.5"/><circle cx="94.8" cy="487.9" r="3.7"/><circle cx="89.6" cy="487.1" r="3.3"/><circle cx="177.9" cy="496.4" r="3.3"/><circle cx="71.2" cy="400.5" r="5.3"/><circle cx="124.3" cy="457.9" r="4.0"/><circle cx="212.3" cy="433.4" r="5.1"/><circle cx="265.9" cy="559.6" r="5.2"/><circle cx="169.1" cy="483.3" r="6.0"/><circle cx="262.6" cy="421.3" r="5.2"/><circle cx="173.3" cy="391.9" r="5.1"/><circle cx="206.0" cy="408.4" r="3.4"/><circle cx="217.5" cy="463.7" r="6.1"/><circle cx="191.5" cy="410.2" r="6.1"/><circle cx="291.6" cy="422.3" r="5.8"/><circle cx="201.9" cy="458.2" r="5.0"/><circle cx="242.4" cy="532.4" r="3.4"/><circle cx="287.4" cy="524.1" r="5.9"/><circle cx="143.1" cy="448.3" r="7.9"/><circle cx="95.9" cy="388.9" r="5.3"/><circle cx="218.8" cy="441.5" r="6.1"/><circle cx="135.0" cy="404.9" r="5.6"/><circle cx="312.6" cy="504.6" r="6.2"/><circle cx="304.7" cy="412.7" r="6.9"/><circle cx="233.7" cy="554.3" r="3.3"/><circle cx="95.8" cy="494.8" r="5.3"/><circle cx="316.0" cy="572.3" r="5.6"/><circle cx="52.4" cy="567.4" r="6.9"/><circle cx="304.5" cy="491.5" r="5.9"/><circle cx="201.0" cy="579.3" r="5.7"/><circle cx="268.4" cy="486.9" r="7.2"/><circle cx="267.5" cy="388.5" r="5.8"/><circle cx="323.5" cy="446.9" r="6.5"/><circle cx="316.2" cy="492.4" r="7.9"/><circle cx="49.1" cy="555.9" r="4.7"/><circle cx="49.6" cy="582.4" r="3.5"/><circle cx="329.1" cy="486.7" r="7.2"/><circle cx="96.3" cy="522.5" r="3.3"/><circle cx="149.5" cy="568.3" r="3.6"/><circle cx="118.5" cy="486.4" r="5.8"/><circle cx="57.3" cy="581.3" r="6.3"/><circle cx="305.2" cy="555.2" r="3.9"/><circle cx="153.6" cy="390.0" r="7.9"/><circle cx="212.8" cy="538.2" r="6.4"/><circle cx="229.5" cy="391.4" r="4.9"/><circle cx="173.6" cy="570.0" r="5.6"/><circle cx="312.3" cy="459.9" r="6.8"/><circle cx="144.9" cy="494.5" r="6.5"/><circle cx="153.1" cy="543.0" r="3.2"/><circle cx="263.1" cy="444.3" r="5.3"/><circle cx="220.6" cy="557.1" r="5.8"/><circle cx="50.4" cy="457.0" r="7.7"/><circle cx="230.1" cy="472.7" r="5.5"/><circle cx="141.2" cy="503.5" r="7.1"/><circle cx="217.4" cy="416.2" r="3.4"/><circle cx="195.2" cy="569.6" r="6.7"/><circle cx="178.0" cy="489.5" r="5.3"/><circle cx="163.0" cy="550.8" r="3.7"/><circle cx="304.0" cy="570.6" r="5.1"/><circle cx="143.7" cy="554.1" r="6.4"/><circle cx="233.6" cy="547.1" r="6.5"/><circle cx="107.8" cy="483.7" r="7.0"/><circle cx="102.5" cy="490.4" r="5.3"/><circle cx="205.3" cy="471.5" r="5.7"/><circle cx="200.5" cy="562.5" r="5.3"/><circle cx="184.4" cy="465.6" r="5.6"/><circle cx="285.3" cy="582.6" r="5.1"/><circle cx="318.9" cy="557.2" r="7.0"/><circle cx="185.2" cy="435.5" r="7.9"/><circle cx="64.4" cy="540.3" r="7.6"/><circle cx="249.8" cy="450.7" r="3.2"/><circle cx="50.1" cy="440.7" r="4.5"/><circle cx="223.5" cy="517.7" r="6.3"/><circle cx="170.7" cy="419.7" r="6.6"/><circle cx="73.5" cy="446.9" r="3.6"/><circle cx="288.7" cy="409.1" r="6.2"/><circle cx="296.3" cy="397.2" r="7.4"/><circle cx="220.3" cy="473.3" r="7.5"/><circle cx="240.8" cy="459.4" r="7.6"/><circle cx="208.6" cy="453.6" r="5.4"/><circle cx="209.3" cy="566.7" r="6.2"/><circle cx="82.0" cy="474.7" r="5.0"/><circle cx="315.4" cy="446.1" r="3.6"/><circle cx="184.8" cy="545.6" r="5.5"/><circle cx="117.9" cy="527.4" r="6.0"/><circle cx="250.7" cy="562.0" r="4.2"/><circle cx="99.6" cy="446.5" r="5.6"/><circle cx="138.6" cy="476.5" r="5.9"/><circle cx="193.6" cy="508.2" r="7.7"/><circle cx="302.6" cy="465.6" r="6.6"/><circle cx="287.0" cy="443.5" r="5.5"/><circle cx="109.4" cy="549.3" r="3.7"/><circle cx="323.5" cy="506.8" r="6.7"/><circle cx="271.0" cy="410.3" r="5.8"/><circle cx="317.1" cy="466.4" r="5.1"/><circle cx="190.4" cy="473.5" r="4.0"/><circle cx="58.6" cy="465.4" r="5.7"/><circle cx="309.0" cy="481.5" r="5.4"/><circle cx="228.1" cy="406.5" r="5.1"/><circle cx="73.3" cy="525.2" r="5.8"/><circle cx="253.6" cy="548.0" r="6.3"/><circle cx="283.3" cy="458.0" r="4.4"/><circle cx="330.7" cy="473.8" r="7.9"/><circle cx="241.6" cy="445.7" r="7.0"/><circle cx="182.5" cy="474.8" r="5.4"/><circle cx="231.9" cy="455.8" r="5.8"/><circle cx="197.4" cy="542.0" r="4.9"/><circle cx="111.5" cy="502.1" r="3.7"/><circle cx="154.5" cy="471.8" r="3.4"/><circle cx="88.3" cy="550.9" r="7.9"/><circle cx="175.3" cy="519.9" r="5.0"/><circle cx="274.1" cy="516.4" r="5.4"/><circle cx="65.7" cy="531.0" r="3.2"/><circle cx="73.1" cy="439.1" r="6.9"/><circle cx="140.8" cy="414.6" r="7.4"/><circle cx="160.8" cy="451.3" r="5.8"/><circle cx="113.6" cy="389.9" r="6.7"/><circle cx="65.8" cy="451.6" r="5.9"/><circle cx="266.3" cy="572.8" r="5.8"/><circle cx="152.0" cy="515.7" r="5.0"/><circle cx="275.8" cy="475.7" r="3.3"/><circle cx="266.1" cy="522.3" r="7.9"/><circle cx="191.6" cy="582.3" r="6.1"/><circle cx="108.0" cy="494.0" r="3.5"/><circle cx="244.1" cy="515.2" r="5.0"/><circle cx="204.1" cy="440.8" r="7.6"/><circle cx="332.0" cy="396.8" r="5.7"/><circle cx="95.0" cy="440.8" r="5.0"/><circle cx="75.7" cy="579.6" r="5.8"/><circle cx="78.0" cy="488.7" r="6.2"/><circle cx="265.6" cy="462.5" r="7.3"/><circle cx="178.2" cy="426.1" r="5.5"/><circle cx="261.2" cy="532.2" r="5.9"/><circle cx="66.9" cy="489.5" r="5.5"/><circle cx="281.6" cy="539.2" r="5.5"/><circle cx="226.8" cy="552.9" r="4.2"/><circle cx="139.9" cy="515.4" r="3.2"/><circle cx="317.8" cy="511.2" r="3.4"/><circle cx="224.4" cy="414.8" r="5.7"/><circle cx="122.9" cy="562.8" r="3.2"/><circle cx="185.7" cy="492.7" r="3.3"/><circle cx="327.6" cy="570.4" r="5.3"/><circle cx="134.5" cy="571.2" r="5.6"/><circle cx="150.3" cy="439.3" r="7.4"/><circle cx="172.6" cy="434.9" r="6.3"/><circle cx="236.6" cy="396.4" r="7.1"/><circle cx="202.4" cy="464.3" r="3.3"/><circle cx="118.4" cy="406.4" r="5.5"/><circle cx="127.7" cy="532.0" r="7.8"/><circle cx="104.5" cy="394.3" r="6.7"/><circle cx="90.4" cy="408.8" r="7.6"/><circle cx="86.3" cy="573.8" r="6.1"/><circle cx="166.9" cy="413.2" r="3.6"/><circle cx="115.8" cy="571.8" r="3.3"/><circle cx="95.9" cy="547.6" r="3.6"/><circle cx="166.9" cy="404.6" r="5.5"/><circle cx="80.7" cy="481.6" r="4.3"/><circle cx="279.3" cy="450.4" r="7.2"/><circle cx="105.6" cy="440.2" r="5.9"/><circle cx="61.1" cy="420.8" r="7.4"/><circle cx="149.6" cy="405.1" r="5.3"/><circle cx="293.9" cy="438.8" r="6.5"/><circle cx="157.7" cy="403.9" r="5.5"/><circle cx="107.6" cy="574.4" r="7.9"/><circle cx="321.4" cy="566.6" r="5.6"/><circle cx="107.5" cy="521.6" r="8.0"/><circle cx="241.1" cy="557.8" r="7.1"/><circle cx="126.3" cy="403.5" r="5.9"/><circle cx="68.7" cy="518.7" r="5.0"/><circle cx="99.8" cy="514.0" r="6.4"/><circle cx="247.2" cy="419.4" r="6.6"/><circle cx="82.6" cy="430.4" r="3.4"/><circle cx="253.1" cy="493.2" r="3.4"/><circle cx="131.3" cy="563.9" r="5.6"/><circle cx="134.9" cy="454.5" r="6.5"/><circle cx="191.9" cy="494.9" r="5.0"/><circle cx="103.1" cy="455.3" r="4.9"/><circle cx="218.2" cy="548.0" r="7.5"/><circle cx="147.2" cy="467.0" r="6.0"/><circle cx="324.1" cy="404.9" r="3.7"/><circle cx="214.1" cy="409.7" r="6.8"/><circle cx="235.5" cy="481.0" r="6.9"/><circle cx="238.1" cy="471.7" r="6.5"/><circle cx="321.6" cy="396.6" r="5.6"/><circle cx="158.4" cy="461.3" r="5.9"/><circle cx="176.0" cy="477.9" r="3.5"/><circle cx="178.3" cy="563.8" r="5.0"/><circle cx="304.2" cy="507.9" r="6.5"/><circle cx="321.4" cy="414.4" r="4.4"/><circle cx="223.4" cy="424.8" r="4.9"/><circle cx="47.9" cy="470.6" r="8.0"/><circle cx="115.7" cy="494.8" r="6.2"/><circle cx="207.9" cy="557.7" r="6.2"/><circle cx="50.6" cy="431.4" r="8.0"/><circle cx="181.2" cy="501.5" r="5.1"/><circle cx="315.3" cy="420.7" r="5.1"/><circle cx="140.0" cy="483.7" r="5.1"/><circle cx="48.4" cy="404.6" r="6.7"/><circle cx="134.3" cy="579.7" r="5.1"/><circle cx="142.6" cy="390.4" r="6.7"/><circle cx="248.9" cy="554.1" r="3.8"/><circle cx="249.7" cy="457.5" r="3.8"/><circle cx="56.7" cy="533.7" r="7.4"/><circle cx="237.3" cy="568.0" r="7.0"/><circle cx="154.0" cy="551.1" r="6.8"/><circle cx="245.8" cy="487.3" r="7.7"/><circle cx="191.6" cy="523.0" r="5.5"/><circle cx="283.6" cy="401.3" r="4.0"/><circle cx="111.5" cy="510.2" r="6.8"/><circle cx="130.6" cy="543.0" r="7.5"/><circle cx="140.6" cy="563.0" r="5.3"/><circle cx="48.0" cy="492.8" r="4.2"/><circle cx="297.4" cy="525.8" r="5.3"/><circle cx="177.2" cy="538.3" r="5.4"/><circle cx="231.5" cy="421.3" r="7.3"/><circle cx="216.1" cy="565.1" r="3.3"/><circle cx="264.5" cy="546.7" r="6.4"/><circle cx="63.6" cy="410.0" r="7.3"/><circle cx="50.5" cy="483.6" r="6.1"/><circle cx="315.8" cy="407.1" r="7.2"/><circle cx="214.1" cy="560.8" r="3.2"/><circle cx="237.6" cy="488.6" r="3.5"/><circle cx="161.2" cy="428.9" r="6.6"/><circle cx="219.3" cy="401.7" r="6.4"/><circle cx="143.0" cy="522.8" r="7.9"/><circle cx="240.3" cy="537.0" r="3.6"/><circle cx="275.3" cy="527.8" r="7.5"/><circle cx="296.8" cy="541.9" r="3.4"/><circle cx="146.5" cy="397.4" r="5.0"/><circle cx="100.0" cy="477.0" r="7.3"/><circle cx="303.6" cy="519.3" r="3.2"/><circle cx="281.5" cy="495.3" r="5.8"/><circle cx="287.5" cy="556.7" r="3.8"/><circle cx="182.6" cy="455.0" r="6.6"/><circle cx="177.1" cy="443.2" r="6.6"/><circle cx="278.1" cy="388.4" r="7.8"/><circle cx="184.2" cy="399.6" r="3.8"/><circle cx="215.5" cy="449.4" r="5.3"/><circle cx="77.8" cy="405.3" r="5.4"/><circle cx="314.5" cy="581.5" r="5.9"/><circle cx="266.1" cy="428.3" r="5.1"/><circle cx="170.0" cy="474.6" r="5.4"/><circle cx="187.3" cy="515.4" r="5.2"/><circle cx="244.9" cy="544.9" r="7.3"/><circle cx="55.0" cy="410.4" r="5.4"/><circle cx="265.8" cy="508.7" r="6.0"/><circle cx="158.0" cy="582.9" r="5.2"/><circle cx="266.0" cy="500.9" r="3.8"/><circle cx="257.5" cy="398.6" r="3.4"/><circle cx="105.5" cy="543.4" r="5.6"/><circle cx="70.5" cy="508.0" r="5.2"/><circle cx="153.4" cy="447.9" r="5.3"/><circle cx="290.9" cy="458.8" r="6.0"/><circle cx="248.2" cy="510.0" r="3.3"/><circle cx="305.9" cy="499.2" r="5.4"/><circle cx="75.3" cy="429.2" r="6.5"/><circle cx="304.3" cy="547.5" r="6.7"/><circle cx="99.2" cy="414.3" r="6.0"/><circle cx="290.7" cy="471.9" r="5.3"/><circle cx="201.8" cy="534.1" r="7.2"/><circle cx="201.4" cy="549.5" r="3.8"/><circle cx="144.0" cy="542.2" r="6.7"/><circle cx="61.1" cy="569.9" r="6.4"/><circle cx="280.0" cy="556.4" r="6.6"/><circle cx="229.9" cy="489.7" r="5.4"/><circle cx="93.4" cy="397.3" r="5.8"/><circle cx="110.0" cy="448.4" r="6.8"/><circle cx="180.0" cy="554.2" r="6.7"/><circle cx="291.6" cy="449.4" r="5.5"/><circle cx="85.6" cy="390.3" r="5.1"/><circle cx="74.7" cy="498.5" r="6.9"/><circle cx="269.9" cy="540.5" r="5.8"/><circle cx="105.6" cy="422.8" r="7.3"/><circle cx="121.8" cy="396.9" r="6.3"/><circle cx="132.4" cy="513.3" r="5.2"/><circle cx="116.7" cy="581.9" r="5.9"/><circle cx="128.2" cy="432.4" r="5.3"/><circle cx="166.6" cy="534.6" r="5.3"/><circle cx="124.9" cy="572.3" r="6.7"/><circle cx="324.7" cy="437.6" r="3.8"/><circle cx="183.2" cy="522.4" r="6.8"/><circle cx="188.0" cy="448.5" r="5.8"/><circle cx="60.3" cy="456.6" r="5.0"/><circle cx="280.5" cy="413.3" r="7.4"/><circle cx="142.3" cy="571.8" r="5.5"/><circle cx="135.6" cy="490.3" r="5.5"/><circle cx="184.3" cy="390.8" r="5.8"/><circle cx="55.9" cy="490.4" r="6.8"/><circle cx="202.3" cy="572.2" r="3.4"/><circle cx="192.4" cy="547.5" r="5.4"/><circle cx="47.6" cy="545.9" r="6.1"/><circle cx="61.7" cy="525.7" r="5.4"/><circle cx="293.5" cy="500.9" r="5.9"/><circle cx="318.6" cy="432.9" r="5.8"/><circle cx="251.5" cy="536.6" r="7.3"/><circle cx="259.5" cy="482.7" r="7.5"/><circle cx="280.6" cy="504.4" r="7.2"/><circle cx="322.2" cy="547.6" r="6.0"/><circle cx="222.6" cy="565.9" r="5.7"/><circle cx="276.3" cy="402.8" r="5.1"/><circle cx="124.9" cy="440.9" r="6.2"/><circle cx="58.5" cy="435.0" r="3.6"/><circle cx="214.6" cy="456.2" r="3.6"/><circle cx="284.1" cy="482.5" r="6.1"/><circle cx="211.5" cy="528.6" r="6.8"/><circle cx="203.9" cy="541.9" r="3.9"/><circle cx="222.3" cy="491.4" r="3.2"/><circle cx="47.6" cy="535.3" r="5.3"/><circle cx="154.6" cy="533.9" r="6.3"/><circle cx="146.4" cy="510.1" r="5.5"/><circle cx="63.8" cy="440.6" r="7.1"/><circle cx="65.3" cy="556.6" r="6.7"/><circle cx="116.9" cy="552.3" r="5.2"/><circle cx="123.6" cy="426.7" r="5.4"/><circle cx="288.1" cy="506.6" r="3.5"/><circle cx="237.0" cy="577.0" r="5.2"/></g>
<g fill="url(#bq)"><circle cx="196.0" cy="452.0" r="5.5"/><circle cx="147.0" cy="479.0" r="6.0"/><circle cx="247.0" cy="472.0" r="5.5"/><circle cx="98.0" cy="540.0" r="5.5"/><circle cx="170.0" cy="560.0" r="6.0"/><circle cx="300.0" cy="478.0" r="6.0"/><circle cx="258.0" cy="558.0" r="6.0"/></g>
<g fill="none" stroke="#a0a0a0" stroke-width="1.1" stroke-linecap="round"><path d="M190.9 453.4A5.2 5.2 0 0 1 198.5 447.4"/><path d="M141.5 480.5A5.7 5.7 0 0 1 149.7 474.0"/><path d="M241.9 473.4A5.2 5.2 0 0 1 249.5 467.4"/><path d="M92.9 541.4A5.2 5.2 0 0 1 100.5 535.4"/><path d="M164.5 561.5A5.7 5.7 0 0 1 172.7 555.0"/><path d="M294.5 479.5A5.7 5.7 0 0 1 302.7 473.0"/><path d="M252.5 559.5A5.7 5.7 0 0 1 260.7 553.0"/></g>
</g></g>
<clipPath id="cs1"><rect x="428" y="387" width="281" height="195.5"/></clipPath>
<g clip-path="url(#cs1)"><rect x="425" y="384" width="287" height="201.5" fill="#505050"/><g filter="url(#sb)">
<g fill="url(#bp)"><circle cx="457.0" cy="453.6" r="9.3"/><circle cx="632.3" cy="455.3" r="6.6"/><circle cx="426.7" cy="400.9" r="8.7"/><circle cx="489.3" cy="489.9" r="9.1"/><circle cx="531.0" cy="543.6" r="8.7"/><circle cx="679.0" cy="396.4" r="3.5"/><circle cx="529.1" cy="515.5" r="8.9"/><circle cx="575.7" cy="512.7" r="6.7"/><circle cx="669.3" cy="538.6" r="9.5"/><circle cx="425.2" cy="448.8" r="3.9"/><circle cx="529.7" cy="398.0" r="5.9"/><circle cx="555.0" cy="428.1" r="7.6"/><circle cx="548.5" cy="445.3" r="6.5"/><circle cx="426.5" cy="427.1" r="7.6"/><circle cx="571.7" cy="429.7" r="9.7"/><circle cx="634.0" cy="521.9" r="9.9"/><circle cx="502.2" cy="459.8" r="9.5"/><circle cx="443.0" cy="500.9" r="6.1"/><circle cx="503.9" cy="480.4" r="6.0"/><circle cx="602.9" cy="571.1" r="6.5"/><circle cx="656.7" cy="541.3" r="7.6"/><circle cx="630.2" cy="552.7" r="3.2"/><circle cx="706.3" cy="577.1" r="7.1"/><circle cx="474.9" cy="392.3" r="6.3"/><circle cx="658.4" cy="395.3" r="5.7"/><circle cx="607.9" cy="465.4" r="7.1"/><circle cx="623.9" cy="454.9" r="3.7"/><circle cx="552.7" cy="494.3" r="3.4"/><circle cx="585.3" cy="414.5" r="7.3"/><circle cx="711.3" cy="567.6" r="5.8"/><circle cx="619.0" cy="532.1" r="7.0"/><circle cx="610.7" cy="447.8" r="3.4"/><circle cx="648.1" cy="574.8" r="6.7"/><circle cx="480.9" cy="578.5" r="8.2"/><circle cx="666.8" cy="585.3" r="5.8"/><circle cx="534.8" cy="386.1" r="5.8"/><circle cx="687.5" cy="550.3" r="6.8"/><circle cx="451.0" cy="572.9" r="9.3"/><circle cx="659.2" cy="451.7" r="3.3"/><circle cx="444.0" cy="413.8" r="6.6"/><circle cx="663.8" cy="563.8" r="4.3"/><circle cx="600.4" cy="486.1" r="3.6"/><circle cx="591.7" cy="499.4" r="6.8"/><circle cx="707.2" cy="387.0" r="6.2"/><circle cx="454.1" cy="537.4" r="5.9"/><circle cx="430.6" cy="386.2" r="7.2"/><circle cx="435.3" cy="447.6" r="6.3"/><circle cx="549.9" cy="580.9" r="7.5"/><circle cx="642.0" cy="422.5" r="9.0"/><circle cx="508.0" cy="538.5" r="3.3"/><circle cx="494.9" cy="451.0" r="6.5"/><circle cx="594.8" cy="554.2" r="4.1"/><circle cx="628.1" cy="532.9" r="4.4"/><circle cx="691.1" cy="440.1" r="3.5"/><circle cx="608.2" cy="442.9" r="3.4"/><circle cx="501.1" cy="432.1" r="7.5"/><circle cx="524.2" cy="388.4" r="8.0"/><circle cx="622.9" cy="443.5" r="3.2"/><circle cx="499.9" cy="444.4" r="5.7"/><circle cx="522.2" cy="397.0" r="3.3"/><circle cx="505.3" cy="439.1" r="3.9"/><circle cx="476.7" cy="430.7" r="9.8"/><circle cx="710.9" cy="511.5" r="5.9"/><circle cx="536.4" cy="455.2" r="8.3"/><circle cx="644.7" cy="434.4" r="3.6"/><circle cx="631.6" cy="572.9" r="6.4"/><circle cx="551.6" cy="455.8" r="4.9"/><circle cx="441.3" cy="384.5" r="5.8"/><circle cx="460.8" cy="524.8" r="4.2"/><circle cx="678.3" cy="463.5" r="8.6"/><circle cx="512.9" cy="459.1" r="4.0"/><circle cx="482.5" cy="495.6" r="3.2"/><circle cx="683.6" cy="448.3" r="10.0"/><circle cx="566.5" cy="585.2" r="8.2"/><circle cx="494.6" cy="419.7" r="4.5"/><circle cx="451.1" cy="503.5" r="5.6"/><circle cx="605.1" cy="535.2" r="6.9"/><circle cx="708.0" cy="442.9" r="6.7"/><circle cx="569.7" cy="473.1" r="3.5"/><circle cx="606.7" cy="556.6" r="5.7"/><circle cx="655.7" cy="434.8" r="9.9"/><circle cx="647.3" cy="547.1" r="8.8"/><circle cx="461.7" cy="502.6" r="3.2"/><circle cx="541.5" cy="569.9" r="8.3"/><circle cx="549.9" cy="537.1" r="7.2"/><circle cx="503.4" cy="517.1" r="6.7"/><circle cx="699.5" cy="439.5" r="6.3"/><circle cx="682.7" cy="478.6" r="7.0"/><circle cx="503.0" cy="472.6" r="5.8"/><circle cx="437.8" cy="574.7" r="9.4"/><circle cx="635.2" cy="483.6" r="4.7"/><circle cx="704.6" cy="560.5" r="6.4"/><circle cx="679.1" cy="538.0" r="3.6"/><circle cx="521.1" cy="478.6" r="3.2"/><circle cx="580.6" cy="487.2" r="7.9"/><circle cx="655.3" cy="489.4" r="5.8"/><circle cx="437.6" cy="561.0" r="3.5"/><circle cx="585.7" cy="568.4" r="3.9"/><circle cx="707.3" cy="542.9" r="6.4"/><circle cx="711.4" cy="426.8" r="7.3"/><circle cx="533.5" cy="419.4" r="6.9"/><circle cx="639.6" cy="583.1" r="8.6"/><circle cx="691.4" cy="486.9" r="9.9"/><circle cx="488.4" cy="525.6" r="5.7"/><circle cx="565.8" cy="438.9" r="3.5"/><circle cx="640.0" cy="531.7" r="7.0"/><circle cx="560.9" cy="402.9" r="8.9"/><circle cx="664.5" cy="485.4" r="8.5"/><circle cx="614.8" cy="458.8" r="6.0"/><circle cx="664.4" cy="386.8" r="3.7"/><circle cx="684.4" cy="500.2" r="9.8"/><circle cx="590.8" cy="408.9" r="3.5"/><circle cx="464.2" cy="574.2" r="8.4"/><circle cx="460.2" cy="510.9" r="7.8"/><circle cx="457.5" cy="550.6" r="8.1"/><circle cx="655.7" cy="415.1" r="6.0"/><circle cx="695.6" cy="518.9" r="9.8"/><circle cx="470.8" cy="582.8" r="4.7"/><circle cx="548.9" cy="406.6" r="7.1"/><circle cx="498.5" cy="539.4" r="6.8"/><circle cx="611.0" cy="580.1" r="9.0"/><circle cx="439.2" cy="478.3" r="7.1"/><circle cx="579.3" cy="403.7" r="7.5"/><circle cx="504.7" cy="585.2" r="5.8"/><circle cx="431.8" cy="458.7" r="10.1"/><circle cx="665.9" cy="495.2" r="6.0"/><circle cx="465.3" cy="420.0" r="9.1"/><circle cx="510.6" cy="524.4" r="3.4"/><circle cx="624.7" cy="514.0" r="3.4"/><circle cx="563.0" cy="477.3" r="7.2"/><circle cx="689.2" cy="585.0" r="9.3"/><circle cx="665.7" cy="408.0" r="9.5"/><circle cx="599.7" cy="414.3" r="7.8"/><circle cx="447.6" cy="463.5" r="6.0"/><circle cx="649.7" cy="533.3" r="7.7"/><circle cx="711.4" cy="408.8" r="6.4"/><circle cx="503.4" cy="401.8" r="7.8"/><circle cx="472.0" cy="384.0" r="6.7"/><circle cx="698.3" cy="478.8" r="6.2"/><circle cx="660.4" cy="507.4" r="6.4"/><circle cx="579.2" cy="551.3" r="7.4"/><circle cx="556.7" cy="483.2" r="3.6"/><circle cx="699.9" cy="533.1" r="7.9"/><circle cx="477.1" cy="561.6" r="7.8"/><circle cx="563.8" cy="508.3" r="5.8"/><circle cx="453.1" cy="561.8" r="5.4"/><circle cx="563.9" cy="414.3" r="8.7"/><circle cx="613.4" cy="549.2" r="8.5"/><circle cx="552.9" cy="570.4" r="6.7"/><circle cx="575.9" cy="440.8" r="6.3"/><circle cx="431.3" cy="517.3" r="8.9"/><circle cx="705.7" cy="434.4" r="5.7"/><circle cx="599.6" cy="507.4" r="7.0"/><circle cx="426.9" cy="477.5" r="8.6"/><circle cx="549.9" cy="475.7" r="6.7"/><circle cx="659.0" cy="577.3" r="9.0"/><circle cx="490.2" cy="429.2" r="7.3"/><circle cx="587.6" cy="430.6" r="6.3"/><circle cx="549.0" cy="561.8" r="6.1"/><circle cx="608.9" cy="483.6" r="8.3"/><circle cx="496.9" cy="570.5" r="8.8"/><circle cx="469.1" cy="441.3" r="8.7"/><circle cx="517.4" cy="415.1" r="5.6"/><circle cx="482.0" cy="388.1" r="5.9"/><circle cx="674.0" cy="402.4" r="3.6"/><circle cx="466.2" cy="534.5" r="8.4"/><circle cx="516.9" cy="392.9" r="3.9"/><circle cx="543.5" cy="526.4" r="6.3"/><circle cx="514.0" cy="451.2" r="5.6"/><circle cx="707.7" cy="453.7" r="7.1"/><circle cx="618.3" cy="540.9" r="3.6"/><circle cx="644.6" cy="487.5" r="9.5"/><circle cx="461.6" cy="494.0" r="8.1"/><circle cx="702.4" cy="407.4" r="4.7"/><circle cx="445.0" cy="583.2" r="6.3"/><circle cx="561.2" cy="448.7" r="3.2"/><circle cx="464.0" cy="561.1" r="7.5"/><circle cx="557.5" cy="582.2" r="3.2"/><circle cx="485.9" cy="571.4" r="3.9"/><circle cx="489.8" cy="533.8" r="3.3"/><circle cx="570.8" cy="407.1" r="5.8"/><circle cx="495.2" cy="582.7" r="8.6"/><circle cx="661.3" cy="521.0" r="6.1"/><circle cx="446.6" cy="402.6" r="7.6"/><circle cx="517.0" cy="539.7" r="9.5"/><circle cx="473.1" cy="404.8" r="5.7"/><circle cx="588.4" cy="546.1" r="7.7"/><circle cx="631.6" cy="418.9" r="6.7"/><circle cx="519.9" cy="502.5" r="9.6"/><circle cx="660.9" cy="530.9" r="3.3"/><circle cx="692.7" cy="406.3" r="5.6"/><circle cx="492.9" cy="409.3" r="9.6"/><circle cx="500.0" cy="487.4" r="5.8"/><circle cx="428.0" cy="508.0" r="3.3"/><circle cx="584.5" cy="577.0" r="5.9"/><circle cx="546.4" cy="465.5" r="7.3"/><circle cx="437.0" cy="537.6" r="5.9"/><circle cx="536.6" cy="468.6" r="6.1"/><circle cx="670.9" cy="384.4" r="3.5"/><circle cx="437.1" cy="402.9" r="6.2"/><circle cx="540.2" cy="409.9" r="6.9"/><circle cx="579.9" cy="389.7" r="6.2"/><circle cx="445.9" cy="509.9" r="6.4"/><circle cx="612.5" cy="395.2" r="6.1"/><circle cx="645.6" cy="411.5" r="6.3"/><circle cx="455.4" cy="442.1" r="5.9"/><circle cx="480.2" cy="415.8" r="6.6"/><circle cx="623.4" cy="559.6" r="7.7"/><circle cx="446.1" cy="454.0" r="7.0"/><circle cx="573.3" cy="528.1" r="6.4"/><circle cx="493.5" cy="397.2" r="5.7"/><circle cx="453.7" cy="519.2" r="6.2"/><circle cx="598.1" cy="401.5" r="7.2"/><circle cx="454.5" cy="401.0" r="3.4"/><circle cx="600.9" cy="546.0" r="9.3"/><circle cx="557.7" cy="489.1" r="4.7"/><circle cx="606.9" cy="512.5" r="4.4"/><circle cx="431.4" cy="410.9" r="6.5"/><circle cx="684.3" cy="523.8" r="6.5"/><circle cx="474.8" cy="536.0" r="3.4"/><circle cx="592.8" cy="421.2" r="6.6"/><circle cx="545.9" cy="384.2" r="4.6"/><circle cx="463.4" cy="396.0" r="7.4"/><circle cx="434.9" cy="420.4" r="6.3"/><circle cx="696.7" cy="384.2" r="6.0"/><circle cx="618.8" cy="449.3" r="6.3"/><circle cx="449.6" cy="483.1" r="3.6"/><circle cx="582.4" cy="522.9" r="5.9"/><circle cx="520.1" cy="524.0" r="5.7"/><circle cx="689.6" cy="395.7" r="10.0"/><circle cx="559.4" cy="576.3" r="4.5"/><circle cx="693.4" cy="458.6" r="7.3"/><circle cx="711.3" cy="584.0" r="4.7"/><circle cx="572.2" cy="396.6" r="7.1"/><circle cx="529.7" cy="528.5" r="5.8"/><circle cx="655.5" cy="467.7" r="6.1"/><circle cx="652.3" cy="478.4" r="5.9"/><circle cx="615.4" cy="384.8" r="9.5"/><circle cx="471.6" cy="411.9" r="4.1"/><circle cx="507.5" cy="498.2" r="8.1"/><circle cx="452.2" cy="424.6" r="3.5"/><circle cx="699.2" cy="449.1" r="6.2"/><circle cx="463.6" cy="408.5" r="5.7"/><circle cx="530.2" cy="479.0" r="9.0"/><circle cx="647.7" cy="398.3" r="4.2"/><circle cx="433.6" cy="555.4" r="5.9"/><circle cx="525.4" cy="445.8" r="7.5"/><circle cx="540.9" cy="558.5" r="7.1"/><circle cx="653.4" cy="565.7" r="7.9"/><circle cx="683.7" cy="570.4" r="4.0"/><circle cx="638.8" cy="552.3" r="6.2"/><circle cx="570.6" cy="518.6" r="3.3"/><circle cx="598.1" cy="439.1" r="7.0"/><circle cx="549.7" cy="436.0" r="4.2"/><circle cx="567.7" cy="486.4" r="8.1"/><circle cx="474.2" cy="546.4" r="9.2"/><circle cx="648.5" cy="556.9" r="3.2"/><circle cx="605.2" cy="395.3" r="3.3"/><circle cx="502.2" cy="527.1" r="8.6"/><circle cx="622.0" cy="497.6" r="5.8"/><circle cx="676.5" cy="531.2" r="3.7"/><circle cx="660.5" cy="475.5" r="6.7"/><circle cx="429.1" cy="487.2" r="5.7"/><circle cx="711.0" cy="477.6" r="8.0"/><circle cx="520.5" cy="552.6" r="7.5"/><circle cx="652.7" cy="499.8" r="8.6"/><circle cx="607.2" cy="527.1" r="3.6"/><circle cx="695.8" cy="542.9" r="3.9"/><circle cx="653.1" cy="423.8" r="3.4"/><circle cx="668.9" cy="557.6" r="6.5"/><circle cx="697.3" cy="423.6" r="6.8"/><circle cx="623.7" cy="584.7" r="8.2"/><circle cx="605.7" cy="474.0" r="5.8"/><circle cx="588.4" cy="458.0" r="9.2"/><circle cx="572.2" cy="463.3" r="6.3"/><circle cx="617.6" cy="489.5" r="7.1"/><circle cx="673.4" cy="499.4" r="6.2"/><circle cx="624.3" cy="547.3" r="3.6"/><circle cx="546.2" cy="485.3" r="7.4"/><circle cx="690.6" cy="469.4" r="8.7"/><circle cx="615.8" cy="471.1" r="6.6"/><circle cx="612.5" cy="562.8" r="6.0"/><circle cx="425.1" cy="555.9" r="4.4"/><circle cx="615.4" cy="508.7" r="5.7"/><circle cx="603.8" cy="563.4" r="4.1"/><circle cx="514.9" cy="441.0" r="7.5"/><circle cx="517.1" cy="580.7" r="8.2"/><circle cx="644.1" cy="447.1" r="8.9"/><circle cx="670.9" cy="475.4" r="8.1"/><circle cx="544.2" cy="499.9" r="7.1"/><circle cx="480.5" cy="401.9" r="5.9"/><circle cx="434.9" cy="432.6" r="5.9"/><circle cx="490.1" cy="544.1" r="7.1"/><circle cx="507.5" cy="489.5" r="3.4"/><circle cx="694.6" cy="504.9" r="5.7"/><circle cx="541.3" cy="579.7" r="3.4"/><circle cx="514.2" cy="527.7" r="3.2"/><circle cx="526.6" cy="411.9" r="5.7"/><circle cx="472.8" cy="569.8" r="5.7"/><circle cx="512.3" cy="513.1" r="6.8"/><circle cx="430.4" cy="528.8" r="7.9"/><circle cx="665.0" cy="398.4" r="3.5"/><circle cx="523.3" cy="403.8" r="6.0"/><circle cx="704.0" cy="417.0" r="7.3"/><circle cx="624.5" cy="526.7" r="3.6"/><circle cx="679.0" cy="387.4" r="6.1"/><circle cx="449.4" cy="437.1" r="3.4"/><circle cx="455.0" cy="467.6" r="6.5"/><circle cx="590.1" cy="528.8" r="7.9"/><circle cx="607.4" cy="431.5" r="9.0"/><circle cx="597.2" cy="429.4" r="6.6"/><circle cx="437.7" cy="546.6" r="7.2"/><circle cx="503.9" cy="416.4" r="6.7"/><circle cx="671.5" cy="393.4" r="7.5"/><circle cx="537.5" cy="436.8" r="7.0"/><circle cx="706.2" cy="495.3" r="9.5"/><circle cx="594.0" cy="562.1" r="6.7"/><circle cx="600.5" cy="527.6" r="5.8"/><circle cx="499.6" cy="548.4" r="3.5"/><circle cx="446.4" cy="551.6" r="6.1"/><circle cx="680.3" cy="412.1" r="7.6"/><circle cx="516.5" cy="400.0" r="3.2"/><circle cx="444.1" cy="428.6" r="6.6"/><circle cx="621.8" cy="571.6" r="6.5"/><circle cx="505.9" cy="449.0" r="3.8"/><circle cx="522.6" cy="426.8" r="8.3"/><circle cx="688.9" cy="536.2" r="9.4"/><circle cx="427.7" cy="497.7" r="8.8"/><circle cx="613.8" cy="442.5" r="4.3"/><circle cx="615.9" cy="417.1" r="8.5"/><circle cx="528.7" cy="464.9" r="6.2"/><circle cx="564.8" cy="532.8" r="6.3"/><circle cx="625.3" cy="427.7" r="6.6"/><circle cx="565.0" cy="545.4" r="8.5"/><circle cx="502.1" cy="562.2" r="3.3"/><circle cx="581.7" cy="468.0" r="5.0"/><circle cx="628.5" cy="408.3" r="9.8"/><circle cx="671.7" cy="572.7" r="9.1"/><circle cx="447.0" cy="542.0" r="6.3"/><circle cx="644.0" cy="557.8" r="3.2"/><circle cx="597.8" cy="493.6" r="4.4"/><circle cx="639.5" cy="512.6" r="4.1"/><circle cx="529.4" cy="434.2" r="5.7"/><circle cx="513.0" cy="482.6" r="7.7"/><circle cx="649.0" cy="523.2" r="6.2"/><circle cx="427.6" cy="440.4" r="6.4"/><circle cx="623.7" cy="464.7" r="8.6"/><circle cx="512.1" cy="385.5" r="3.7"/><circle cx="532.9" cy="442.9" r="3.6"/><circle cx="612.9" cy="540.2" r="3.7"/><circle cx="591.5" cy="483.4" r="6.8"/><circle cx="539.0" cy="536.7" r="6.9"/><circle cx="710.2" cy="520.7" r="5.8"/><circle cx="656.8" cy="386.9" r="6.9"/><circle cx="430.6" cy="585.3" r="9.8"/><circle cx="597.9" cy="584.2" r="10.1"/><circle cx="711.3" cy="487.0" r="3.6"/><circle cx="653.6" cy="403.4" r="6.6"/><circle cx="608.1" cy="499.2" r="8.1"/><circle cx="441.5" cy="440.2" r="7.2"/><circle cx="697.8" cy="581.7" r="3.5"/><circle cx="499.7" cy="423.6" r="3.8"/><circle cx="662.2" cy="423.8" r="7.0"/><circle cx="559.1" cy="517.7" r="9.7"/><circle cx="598.3" cy="480.7" r="3.4"/><circle cx="557.6" cy="534.8" r="4.0"/><circle cx="553.8" cy="391.6" r="9.6"/><circle cx="639.1" cy="573.2" r="3.4"/><circle cx="580.5" cy="537.0" r="9.3"/><circle cx="582.6" cy="423.7" r="3.4"/><circle cx="590.3" cy="397.3" r="6.1"/><circle cx="574.5" cy="419.2" r="6.2"/><circle cx="671.9" cy="430.6" r="8.5"/><circle cx="488.3" cy="558.5" r="8.7"/><circle cx="554.7" cy="416.7" r="3.8"/><circle cx="700.1" cy="566.6" r="3.2"/><circle cx="605.3" cy="520.3" r="5.8"/><circle cx="484.1" cy="481.5" r="4.6"/><circle cx="633.6" cy="438.3" r="9.2"/><circle cx="668.8" cy="515.8" r="6.6"/><circle cx="481.7" cy="533.2" r="6.9"/><circle cx="425.7" cy="467.2" r="4.2"/><circle cx="471.4" cy="500.0" r="7.5"/><circle cx="543.1" cy="545.9" r="5.5"/><circle cx="578.6" cy="451.4" r="8.1"/><circle cx="666.5" cy="528.9" r="4.6"/><circle cx="491.2" cy="501.1" r="7.3"/><circle cx="640.4" cy="501.7" r="10.0"/><circle cx="682.3" cy="512.2" r="7.1"/><circle cx="531.0" cy="583.9" r="9.8"/><circle cx="500.4" cy="387.4" r="9.7"/><circle cx="697.2" cy="554.8" r="5.7"/><circle cx="671.4" cy="441.4" r="7.4"/><circle cx="463.1" cy="386.2" r="5.9"/><circle cx="567.4" cy="387.1" r="6.2"/><circle cx="552.8" cy="551.0" r="9.2"/><circle cx="630.5" cy="490.6" r="6.7"/><circle cx="425.9" cy="575.9" r="4.5"/><circle cx="486.3" cy="460.1" r="6.1"/><circle cx="569.2" cy="571.4" r="8.6"/><circle cx="509.0" cy="532.9" r="3.3"/><circle cx="436.6" cy="394.0" r="6.9"/><circle cx="611.6" cy="406.2" r="8.8"/><circle cx="500.4" cy="506.5" r="7.0"/><circle cx="506.0" cy="544.9" r="5.8"/><circle cx="531.0" cy="489.3" r="3.3"/><circle cx="532.4" cy="554.0" r="5.9"/><circle cx="704.7" cy="465.2" r="10.0"/><circle cx="531.5" cy="569.3" r="4.3"/><circle cx="516.6" cy="570.5" r="5.3"/><circle cx="702.5" cy="509.4" r="6.2"/><circle cx="450.1" cy="490.9" r="6.1"/><circle cx="481.0" cy="505.5" r="8.9"/><circle cx="429.0" cy="549.6" r="3.2"/><circle cx="594.1" cy="537.6" r="5.7"/><circle cx="507.0" cy="573.1" r="6.9"/><circle cx="681.8" cy="401.3" r="3.2"/><circle cx="425.4" cy="418.1" r="4.3"/><circle cx="674.0" cy="548.8" r="7.1"/><circle cx="561.3" cy="434.7" r="3.4"/><circle cx="568.5" cy="445.5" r="6.3"/><circle cx="477.9" cy="440.6" r="3.5"/><circle cx="466.8" cy="430.9" r="3.3"/><circle cx="602.3" cy="452.7" r="9.5"/><circle cx="690.7" cy="562.1" r="7.6"/><circle cx="679.7" cy="560.0" r="7.6"/><circle cx="541.0" cy="515.7" r="6.6"/><circle cx="673.7" cy="420.2" r="6.5"/><circle cx="629.6" cy="386.2" r="8.0"/><circle cx="631.1" cy="541.5" r="8.2"/><circle cx="513.4" cy="422.6" r="6.0"/><circle cx="556.8" cy="440.5" r="6.1"/><circle cx="648.4" cy="512.8" r="7.3"/><circle cx="489.8" cy="472.3" r="10.0"/><circle cx="624.8" cy="397.3" r="6.6"/><circle cx="453.6" cy="391.5" r="8.6"/><circle cx="474.6" cy="483.9" r="9.2"/><circle cx="585.9" cy="556.9" r="3.6"/><circle cx="470.5" cy="469.6" r="6.2"/><circle cx="463.5" cy="461.9" r="6.1"/><circle cx="593.6" cy="518.0" r="8.9"/><circle cx="495.5" cy="520.8" r="3.4"/><circle cx="479.9" cy="465.3" r="4.2"/><circle cx="577.3" cy="582.7" r="6.9"/><circle cx="690.0" cy="413.9" r="4.2"/><circle cx="456.2" cy="584.1" r="6.5"/><circle cx="586.5" cy="443.5" r="7.9"/><circle cx="561.1" cy="456.8" r="8.1"/><circle cx="593.9" cy="472.5" r="9.1"/><circle cx="580.4" cy="562.4" r="6.0"/><circle cx="637.4" cy="472.4" r="10.0"/><circle cx="592.8" cy="574.7" r="3.1"/><circle cx="457.1" cy="432.4" r="8.2"/><circle cx="615.9" cy="520.4" r="7.6"/><circle cx="683.8" cy="420.9" r="6.4"/><circle cx="438.6" cy="468.7" r="7.4"/><circle cx="673.1" cy="508.1" r="4.7"/><circle cx="639.6" cy="403.1" r="7.6"/><circle cx="625.3" cy="478.5" r="9.9"/><circle cx="674.7" cy="523.3" r="7.0"/><circle cx="524.2" cy="574.6" r="5.7"/><circle cx="581.0" cy="434.4" r="3.3"/><circle cx="528.6" cy="506.8" r="3.2"/><circle cx="578.9" cy="476.7" r="7.4"/><circle cx="510.9" cy="414.0" r="3.2"/><circle cx="592.7" cy="386.6" r="8.9"/><circle cx="603.3" cy="388.0" r="6.1"/><circle cx="587.5" cy="492.6" r="3.9"/><circle cx="558.2" cy="562.5" r="6.9"/><circle cx="540.7" cy="427.3" r="6.0"/><circle cx="553.0" cy="527.4" r="6.8"/><circle cx="469.8" cy="510.3" r="3.6"/><circle cx="488.9" cy="515.9" r="7.5"/><circle cx="671.0" cy="452.8" r="6.5"/><circle cx="438.9" cy="491.7" r="7.4"/><circle cx="463.7" cy="543.7" r="5.8"/><circle cx="453.5" cy="527.6" r="6.3"/><circle cx="619.7" cy="435.8" r="8.1"/><circle cx="482.1" cy="520.3" r="3.3"/><circle cx="474.2" cy="512.7" r="3.2"/><circle cx="510.0" cy="430.6" r="3.7"/><circle cx="475.6" cy="456.7" r="8.4"/><circle cx="642.8" cy="387.2" r="9.7"/><circle cx="647.4" cy="472.7" r="3.2"/><circle cx="711.7" cy="396.4" r="3.5"/><circle cx="445.4" cy="534.7" r="3.9"/><circle cx="517.0" cy="468.7" r="9.5"/><circle cx="531.7" cy="407.6" r="3.2"/><circle cx="509.4" cy="394.3" r="6.7"/><circle cx="488.6" cy="442.1" r="6.6"/><circle cx="520.3" cy="489.9" r="7.3"/><circle cx="636.9" cy="563.8" r="9.2"/><circle cx="546.7" cy="420.5" r="6.0"/><circle cx="586.7" cy="510.1" r="6.4"/><circle cx="657.4" cy="445.0" r="5.7"/><circle cx="444.6" cy="560.6" r="6.1"/><circle cx="703.7" cy="485.0" r="5.2"/><circle cx="539.7" cy="444.5" r="3.5"/><circle cx="588.3" cy="584.2" r="3.3"/><circle cx="708.0" cy="552.3" r="6.2"/><circle cx="515.8" cy="407.4" r="5.6"/><circle cx="709.4" cy="534.5" r="6.5"/><circle cx="436.8" cy="507.4" r="7.2"/><circle cx="538.9" cy="491.9" r="7.3"/><circle cx="525.6" cy="562.6" r="8.2"/><circle cx="515.0" cy="561.5" r="6.5"/><circle cx="703.1" cy="397.6" r="8.7"/><circle cx="680.2" cy="436.7" r="6.7"/><circle cx="632.8" cy="396.3" r="3.5"/><circle cx="427.1" cy="542.6" r="6.5"/><circle cx="560.4" cy="498.8" r="8.8"/><circle cx="598.5" cy="464.4" r="3.3"/><circle cx="481.9" cy="448.3" r="7.2"/><circle cx="530.1" cy="498.3" r="5.9"/><circle cx="696.1" cy="415.9" r="3.6"/><circle cx="442.7" cy="523.5" r="9.4"/><circle cx="549.9" cy="510.0" r="7.1"/><circle cx="692.1" cy="573.6" r="8.5"/><circle cx="658.7" cy="551.3" r="7.6"/><circle cx="450.6" cy="476.4" r="5.9"/><circle cx="601.7" cy="422.9" r="4.0"/><circle cx="523.3" cy="458.5" r="6.1"/><circle cx="661.0" cy="460.6" r="7.2"/><circle cx="428.5" cy="566.1" r="7.2"/><circle cx="523.2" cy="437.1" r="3.2"/><circle cx="513.0" cy="548.8" r="4.0"/><circle cx="679.4" cy="581.0" r="6.2"/><circle cx="568.1" cy="560.5" r="7.7"/><circle cx="541.2" cy="474.6" r="3.3"/><circle cx="535.6" cy="506.0" r="5.5"/><circle cx="540.0" cy="394.9" r="9.6"/></g>
<g fill="url(#bq)"><circle cx="455.0" cy="413.5" r="8.0"/><circle cx="578.7" cy="500.5" r="9.5"/><circle cx="562.5" cy="467.0" r="6.0"/><circle cx="646.0" cy="459.0" r="7.0"/><circle cx="472.5" cy="522.0" r="8.5"/><circle cx="628.7" cy="506.0" r="7.5"/><circle cx="673.7" cy="490.0" r="6.0"/><circle cx="460.0" cy="480.0" r="7.5"/><circle cx="506.0" cy="555.0" r="7.0"/><circle cx="690.0" cy="430.0" r="6.0"/></g>
<g fill="none" stroke="#a0a0a0" stroke-width="1.1" stroke-linecap="round"><path d="M447.6 415.5A7.6 7.6 0 0 1 458.6 406.9"/><path d="M570.0 502.9A9.0 9.0 0 0 1 583.0 492.6"/><path d="M557.0 468.5A5.7 5.7 0 0 1 565.2 462.0"/><path d="M639.6 460.8A6.6 6.6 0 0 1 649.1 453.2"/><path d="M464.7 524.1A8.1 8.1 0 0 1 476.3 514.9"/><path d="M621.8 507.9A7.1 7.1 0 0 1 632.1 499.8"/><path d="M668.2 491.5A5.7 5.7 0 0 1 676.4 485.0"/><path d="M453.1 481.9A7.1 7.1 0 0 1 463.4 473.8"/><path d="M499.6 556.8A6.6 6.6 0 0 1 509.1 549.2"/><path d="M684.5 431.5A5.7 5.7 0 0 1 692.7 425.0"/></g>
</g></g>
<clipPath id="cs2"><rect x="808" y="386" width="284" height="196.5"/></clipPath>
<g clip-path="url(#cs2)"><rect x="805" y="383" width="290" height="202.5" fill="#505050"/><g filter="url(#sb)">
<g fill="url(#bp)"><circle cx="927.3" cy="490.4" r="8.0"/><circle cx="1054.7" cy="445.3" r="4.7"/><circle cx="1009.9" cy="498.1" r="8.5"/><circle cx="1037.3" cy="451.3" r="5.2"/><circle cx="878.0" cy="493.6" r="5.2"/><circle cx="1056.9" cy="521.4" r="7.3"/><circle cx="936.7" cy="507.8" r="3.6"/><circle cx="1036.9" cy="460.8" r="8.1"/><circle cx="1039.5" cy="531.2" r="5.2"/><circle cx="874.9" cy="448.9" r="7.3"/><circle cx="1024.9" cy="398.5" r="5.7"/><circle cx="820.9" cy="557.3" r="3.8"/><circle cx="1069.9" cy="402.1" r="7.9"/><circle cx="829.2" cy="533.2" r="5.3"/><circle cx="999.7" cy="493.2" r="5.2"/><circle cx="1075.2" cy="438.8" r="6.3"/><circle cx="1012.6" cy="392.8" r="3.6"/><circle cx="1053.6" cy="402.9" r="4.1"/><circle cx="843.8" cy="451.1" r="3.3"/><circle cx="868.5" cy="514.4" r="6.1"/><circle cx="850.5" cy="460.7" r="3.2"/><circle cx="805.7" cy="525.2" r="7.1"/><circle cx="905.3" cy="386.7" r="6.8"/><circle cx="1054.9" cy="584.9" r="3.3"/><circle cx="896.4" cy="460.0" r="7.9"/><circle cx="843.5" cy="565.9" r="6.1"/><circle cx="1046.3" cy="397.1" r="3.3"/><circle cx="1060.1" cy="547.1" r="6.6"/><circle cx="1066.8" cy="540.0" r="5.8"/><circle cx="835.9" cy="569.8" r="6.5"/><circle cx="1005.6" cy="510.0" r="7.1"/><circle cx="1008.2" cy="444.2" r="7.2"/><circle cx="1058.2" cy="531.2" r="6.4"/><circle cx="1049.8" cy="391.0" r="6.1"/><circle cx="970.9" cy="563.1" r="8.3"/><circle cx="949.3" cy="402.5" r="6.2"/><circle cx="1089.1" cy="411.2" r="5.7"/><circle cx="872.6" cy="481.9" r="4.5"/><circle cx="1074.7" cy="540.9" r="3.2"/><circle cx="847.4" cy="541.9" r="3.6"/><circle cx="1085.7" cy="440.8" r="6.7"/><circle cx="964.7" cy="429.7" r="8.5"/><circle cx="1031.0" cy="548.0" r="5.9"/><circle cx="989.6" cy="518.9" r="4.7"/><circle cx="916.9" cy="436.2" r="4.4"/><circle cx="914.5" cy="419.6" r="3.2"/><circle cx="1015.1" cy="399.2" r="5.3"/><circle cx="898.0" cy="487.9" r="3.4"/><circle cx="1043.2" cy="496.3" r="3.4"/><circle cx="832.9" cy="407.3" r="4.9"/><circle cx="996.8" cy="400.4" r="5.6"/><circle cx="952.2" cy="482.8" r="5.3"/><circle cx="1093.0" cy="531.9" r="6.4"/><circle cx="923.8" cy="417.2" r="4.2"/><circle cx="850.5" cy="535.5" r="5.4"/><circle cx="931.3" cy="440.3" r="7.0"/><circle cx="1063.3" cy="383.8" r="8.0"/><circle cx="897.3" cy="576.6" r="7.0"/><circle cx="848.7" cy="577.9" r="6.0"/><circle cx="936.4" cy="560.4" r="5.4"/><circle cx="1044.0" cy="565.6" r="5.5"/><circle cx="1029.5" cy="439.1" r="7.0"/><circle cx="941.9" cy="554.7" r="5.3"/><circle cx="820.4" cy="417.5" r="3.2"/><circle cx="927.8" cy="406.9" r="5.9"/><circle cx="913.5" cy="519.0" r="6.2"/><circle cx="889.4" cy="472.3" r="6.5"/><circle cx="929.8" cy="553.7" r="7.7"/><circle cx="815.3" cy="386.7" r="7.5"/><circle cx="1085.7" cy="504.2" r="6.4"/><circle cx="910.7" cy="393.1" r="5.5"/><circle cx="858.2" cy="533.7" r="5.5"/><circle cx="989.9" cy="457.6" r="3.8"/><circle cx="888.9" cy="553.0" r="5.8"/><circle cx="941.1" cy="384.5" r="8.2"/><circle cx="908.8" cy="573.9" r="3.2"/><circle cx="1047.9" cy="578.9" r="6.5"/><circle cx="1063.1" cy="469.5" r="6.4"/><circle cx="915.5" cy="464.7" r="3.1"/><circle cx="856.2" cy="412.6" r="3.8"/><circle cx="881.8" cy="585.4" r="6.4"/><circle cx="949.5" cy="412.1" r="6.0"/><circle cx="910.7" cy="566.9" r="6.3"/><circle cx="958.5" cy="579.8" r="8.5"/><circle cx="1079.6" cy="572.1" r="5.4"/><circle cx="945.0" cy="544.9" r="5.2"/><circle cx="957.3" cy="440.5" r="5.2"/><circle cx="1021.9" cy="553.1" r="5.6"/><circle cx="1000.0" cy="383.2" r="5.1"/><circle cx="1020.0" cy="518.7" r="8.0"/><circle cx="1074.8" cy="515.7" r="6.5"/><circle cx="1093.2" cy="510.1" r="5.5"/><circle cx="881.9" cy="388.8" r="5.5"/><circle cx="1063.0" cy="508.5" r="7.1"/><circle cx="814.7" cy="464.6" r="4.0"/><circle cx="904.6" cy="403.4" r="8.0"/><circle cx="961.2" cy="409.9" r="7.8"/><circle cx="848.3" cy="558.5" r="3.3"/><circle cx="830.8" cy="394.0" r="7.5"/><circle cx="811.4" cy="567.6" r="3.8"/><circle cx="1091.9" cy="523.3" r="5.2"/><circle cx="809.7" cy="496.1" r="5.2"/><circle cx="918.0" cy="478.7" r="7.5"/><circle cx="1029.7" cy="530.3" r="5.2"/><circle cx="987.0" cy="502.9" r="5.3"/><circle cx="1044.1" cy="558.2" r="5.5"/><circle cx="962.6" cy="529.0" r="5.3"/><circle cx="811.1" cy="517.5" r="5.5"/><circle cx="984.7" cy="488.2" r="6.9"/><circle cx="815.2" cy="534.3" r="3.4"/><circle cx="1059.5" cy="478.6" r="8.1"/><circle cx="827.4" cy="582.9" r="3.9"/><circle cx="812.5" cy="557.3" r="6.6"/><circle cx="1018.2" cy="459.4" r="8.1"/><circle cx="1012.1" cy="555.4" r="5.5"/><circle cx="961.6" cy="555.4" r="8.0"/><circle cx="863.0" cy="416.8" r="6.7"/><circle cx="1079.8" cy="473.5" r="6.7"/><circle cx="868.5" cy="386.5" r="3.4"/><circle cx="970.0" cy="520.3" r="6.3"/><circle cx="977.8" cy="517.2" r="3.9"/><circle cx="845.5" cy="496.4" r="5.6"/><circle cx="1009.0" cy="567.7" r="6.4"/><circle cx="846.2" cy="585.4" r="4.2"/><circle cx="941.4" cy="439.1" r="3.5"/><circle cx="840.6" cy="392.9" r="3.5"/><circle cx="947.6" cy="490.5" r="3.4"/><circle cx="862.4" cy="384.6" r="5.3"/><circle cx="988.6" cy="572.8" r="6.4"/><circle cx="819.6" cy="581.7" r="5.8"/><circle cx="1082.6" cy="527.4" r="5.2"/><circle cx="1018.8" cy="442.6" r="8.2"/><circle cx="805.3" cy="482.5" r="5.4"/><circle cx="942.9" cy="462.2" r="7.8"/><circle cx="820.2" cy="522.3" r="7.0"/><circle cx="895.2" cy="393.9" r="6.0"/><circle cx="890.9" cy="414.1" r="5.9"/><circle cx="850.3" cy="416.1" r="5.5"/><circle cx="1042.8" cy="521.7" r="5.9"/><circle cx="970.9" cy="480.1" r="6.3"/><circle cx="911.4" cy="533.5" r="5.6"/><circle cx="1001.3" cy="413.9" r="5.2"/><circle cx="954.1" cy="528.1" r="6.7"/><circle cx="942.3" cy="447.6" r="6.7"/><circle cx="984.5" cy="451.4" r="5.8"/><circle cx="934.7" cy="539.1" r="5.7"/><circle cx="1077.9" cy="548.5" r="7.4"/><circle cx="890.4" cy="383.8" r="7.5"/><circle cx="876.3" cy="513.7" r="5.3"/><circle cx="914.7" cy="493.4" r="5.4"/><circle cx="990.0" cy="479.1" r="8.4"/><circle cx="947.8" cy="585.0" r="4.3"/><circle cx="891.8" cy="422.3" r="5.0"/><circle cx="898.5" cy="545.8" r="5.9"/><circle cx="1072.1" cy="465.3" r="6.0"/><circle cx="873.0" cy="392.1" r="6.7"/><circle cx="949.1" cy="454.1" r="5.3"/><circle cx="1030.3" cy="408.9" r="5.6"/><circle cx="873.8" cy="458.8" r="7.5"/><circle cx="1072.1" cy="505.2" r="5.6"/><circle cx="954.5" cy="418.6" r="6.3"/><circle cx="925.6" cy="384.4" r="5.2"/><circle cx="981.0" cy="568.3" r="5.2"/><circle cx="806.1" cy="385.9" r="5.2"/><circle cx="1071.5" cy="454.6" r="7.3"/><circle cx="976.9" cy="537.5" r="3.3"/><circle cx="929.3" cy="391.9" r="7.2"/><circle cx="838.4" cy="581.0" r="8.4"/><circle cx="891.5" cy="528.1" r="5.2"/><circle cx="1067.4" cy="583.8" r="6.5"/><circle cx="984.0" cy="535.1" r="6.1"/><circle cx="940.3" cy="512.6" r="3.2"/><circle cx="846.2" cy="397.5" r="3.1"/><circle cx="822.1" cy="536.3" r="5.7"/><circle cx="859.3" cy="547.6" r="3.1"/><circle cx="1021.2" cy="563.6" r="5.4"/><circle cx="974.7" cy="417.5" r="6.0"/><circle cx="870.0" cy="433.7" r="3.4"/><circle cx="1069.9" cy="484.2" r="8.5"/><circle cx="1034.2" cy="579.1" r="8.1"/><circle cx="1040.6" cy="422.8" r="8.0"/><circle cx="1052.2" cy="464.7" r="6.3"/><circle cx="952.8" cy="497.2" r="7.3"/><circle cx="1001.9" cy="468.6" r="5.5"/><circle cx="915.7" cy="384.8" r="7.6"/><circle cx="1054.2" cy="384.2" r="3.3"/><circle cx="831.4" cy="461.5" r="7.6"/><circle cx="816.2" cy="475.6" r="3.6"/><circle cx="952.4" cy="444.6" r="3.2"/><circle cx="965.0" cy="443.5" r="5.3"/><circle cx="888.4" cy="579.4" r="6.6"/><circle cx="889.0" cy="505.5" r="3.9"/><circle cx="917.5" cy="502.2" r="6.3"/><circle cx="849.8" cy="447.5" r="5.3"/><circle cx="928.2" cy="529.6" r="6.4"/><circle cx="961.9" cy="546.5" r="3.8"/><circle cx="1073.5" cy="496.4" r="5.7"/><circle cx="1046.2" cy="432.0" r="8.2"/><circle cx="995.3" cy="539.5" r="5.4"/><circle cx="920.1" cy="585.5" r="5.6"/><circle cx="1054.1" cy="569.7" r="5.8"/><circle cx="958.3" cy="566.3" r="5.7"/><circle cx="1060.4" cy="405.6" r="5.9"/><circle cx="862.5" cy="395.0" r="5.4"/><circle cx="816.5" cy="409.9" r="5.9"/><circle cx="869.4" cy="575.2" r="3.4"/><circle cx="885.9" cy="446.8" r="7.3"/><circle cx="918.8" cy="527.5" r="5.7"/><circle cx="983.6" cy="545.6" r="7.9"/><circle cx="1083.5" cy="554.3" r="3.7"/><circle cx="830.2" cy="451.9" r="3.4"/><circle cx="975.5" cy="492.5" r="7.1"/><circle cx="840.5" cy="518.9" r="5.3"/><circle cx="1055.6" cy="497.4" r="7.5"/><circle cx="817.6" cy="547.6" r="6.3"/><circle cx="971.8" cy="585.3" r="6.6"/><circle cx="947.4" cy="516.6" r="5.9"/><circle cx="978.3" cy="484.3" r="3.5"/><circle cx="806.9" cy="446.5" r="8.1"/><circle cx="911.3" cy="556.6" r="6.7"/><circle cx="1043.2" cy="548.8" r="7.4"/><circle cx="1080.4" cy="411.8" r="5.8"/><circle cx="1028.8" cy="513.2" r="5.2"/><circle cx="1012.7" cy="489.1" r="3.4"/><circle cx="971.0" cy="403.2" r="5.8"/><circle cx="920.7" cy="393.2" r="5.5"/><circle cx="877.4" cy="571.6" r="8.1"/><circle cx="849.7" cy="503.8" r="6.1"/><circle cx="854.3" cy="543.0" r="5.5"/><circle cx="829.7" cy="557.2" r="6.1"/><circle cx="808.1" cy="469.8" r="6.3"/><circle cx="1006.4" cy="523.9" r="8.2"/><circle cx="1029.3" cy="489.2" r="5.4"/><circle cx="919.3" cy="424.1" r="3.7"/><circle cx="828.4" cy="517.3" r="7.1"/><circle cx="896.4" cy="409.0" r="3.9"/><circle cx="992.4" cy="532.5" r="5.8"/><circle cx="1068.8" cy="445.4" r="6.5"/><circle cx="841.8" cy="509.0" r="7.7"/><circle cx="969.6" cy="551.7" r="3.9"/><circle cx="999.2" cy="478.8" r="3.8"/><circle cx="1000.1" cy="438.6" r="3.3"/><circle cx="969.2" cy="391.8" r="7.2"/><circle cx="831.4" cy="564.3" r="3.3"/><circle cx="822.8" cy="565.7" r="8.1"/><circle cx="838.2" cy="476.6" r="8.1"/><circle cx="932.8" cy="473.9" r="6.5"/><circle cx="1094.4" cy="497.8" r="5.6"/><circle cx="856.7" cy="469.1" r="5.3"/><circle cx="1070.2" cy="474.9" r="5.6"/><circle cx="877.4" cy="420.1" r="8.0"/><circle cx="983.2" cy="524.3" r="5.6"/><circle cx="964.1" cy="572.8" r="3.8"/><circle cx="966.6" cy="458.7" r="6.2"/><circle cx="992.3" cy="388.5" r="7.5"/><circle cx="870.0" cy="411.8" r="5.2"/><circle cx="920.4" cy="565.3" r="6.0"/><circle cx="936.2" cy="580.4" r="6.3"/><circle cx="944.8" cy="494.9" r="3.6"/><circle cx="819.9" cy="424.4" r="5.4"/><circle cx="811.8" cy="577.2" r="5.8"/><circle cx="968.9" cy="498.6" r="6.1"/><circle cx="969.6" cy="534.1" r="5.8"/><circle cx="873.6" cy="467.6" r="4.1"/><circle cx="866.8" cy="473.7" r="8.3"/><circle cx="848.3" cy="406.5" r="6.6"/><circle cx="826.3" cy="402.7" r="5.7"/><circle cx="840.4" cy="403.6" r="6.1"/><circle cx="946.7" cy="473.4" r="6.2"/><circle cx="1019.6" cy="389.8" r="5.8"/><circle cx="1079.7" cy="387.3" r="3.4"/><circle cx="995.0" cy="551.2" r="7.1"/><circle cx="842.0" cy="426.7" r="6.7"/><circle cx="1011.7" cy="533.2" r="6.8"/><circle cx="977.4" cy="407.7" r="5.2"/><circle cx="995.2" cy="465.1" r="5.8"/><circle cx="967.8" cy="472.2" r="5.7"/><circle cx="1027.2" cy="420.1" r="5.5"/><circle cx="1007.9" cy="548.1" r="5.7"/><circle cx="857.2" cy="584.0" r="7.0"/><circle cx="872.1" cy="501.4" r="6.1"/><circle cx="806.4" cy="537.6" r="8.0"/><circle cx="1044.3" cy="512.4" r="8.1"/><circle cx="980.3" cy="383.3" r="6.4"/><circle cx="1006.1" cy="463.0" r="3.8"/><circle cx="877.2" cy="410.6" r="3.7"/><circle cx="1046.6" cy="501.9" r="5.2"/><circle cx="1094.5" cy="488.7" r="5.8"/><circle cx="925.5" cy="400.1" r="3.8"/><circle cx="901.2" cy="515.4" r="4.3"/><circle cx="890.2" cy="568.9" r="5.8"/><circle cx="848.7" cy="467.6" r="5.6"/><circle cx="1056.2" cy="414.6" r="6.4"/><circle cx="958.0" cy="463.7" r="8.4"/><circle cx="1008.0" cy="478.0" r="5.8"/><circle cx="1021.7" cy="574.8" r="5.2"/><circle cx="854.0" cy="494.6" r="6.0"/><circle cx="993.4" cy="487.7" r="3.9"/><circle cx="1025.0" cy="383.0" r="5.1"/><circle cx="947.9" cy="524.5" r="3.2"/><circle cx="1093.7" cy="540.2" r="5.7"/><circle cx="1089.0" cy="471.0" r="5.8"/><circle cx="867.7" cy="583.4" r="7.2"/><circle cx="883.8" cy="407.2" r="5.6"/><circle cx="822.3" cy="447.9" r="5.7"/><circle cx="960.3" cy="384.0" r="6.4"/><circle cx="1081.3" cy="511.8" r="4.0"/><circle cx="971.9" cy="574.0" r="7.1"/><circle cx="980.6" cy="428.4" r="7.2"/><circle cx="1082.1" cy="452.1" r="8.1"/><circle cx="970.0" cy="410.4" r="4.0"/><circle cx="961.0" cy="537.5" r="6.9"/><circle cx="937.0" cy="397.5" r="6.2"/><circle cx="805.1" cy="491.9" r="3.3"/><circle cx="806.7" cy="551.0" r="5.6"/><circle cx="817.1" cy="397.7" r="8.4"/><circle cx="951.2" cy="556.2" r="5.7"/><circle cx="901.4" cy="447.4" r="7.1"/><circle cx="956.5" cy="474.7" r="7.5"/><circle cx="820.0" cy="459.3" r="6.0"/><circle cx="1076.7" cy="559.7" r="7.5"/><circle cx="911.2" cy="499.5" r="3.5"/><circle cx="992.9" cy="441.4" r="7.0"/><circle cx="957.5" cy="516.2" r="7.1"/><circle cx="931.4" cy="569.0" r="8.0"/><circle cx="892.7" cy="441.0" r="5.7"/><circle cx="1003.2" cy="541.4" r="5.6"/><circle cx="914.4" cy="456.5" r="8.5"/><circle cx="1091.1" cy="420.5" r="8.3"/><circle cx="829.7" cy="498.5" r="6.0"/><circle cx="843.3" cy="460.6" r="6.4"/><circle cx="1045.7" cy="406.1" r="7.7"/><circle cx="1059.9" cy="556.0" r="6.1"/><circle cx="1001.1" cy="502.8" r="3.7"/><circle cx="828.9" cy="548.4" r="5.2"/><circle cx="1026.1" cy="467.6" r="6.0"/><circle cx="1059.5" cy="452.0" r="5.4"/><circle cx="994.7" cy="524.9" r="5.9"/><circle cx="981.7" cy="472.5" r="7.5"/><circle cx="894.7" cy="497.6" r="5.2"/><circle cx="959.2" cy="400.4" r="3.7"/><circle cx="900.7" cy="468.6" r="6.1"/><circle cx="860.5" cy="513.1" r="5.4"/><circle cx="885.5" cy="429.7" r="8.2"/><circle cx="1040.8" cy="385.0" r="6.5"/><circle cx="868.6" cy="549.4" r="7.2"/><circle cx="1043.5" cy="468.3" r="3.6"/><circle cx="934.6" cy="432.5" r="4.0"/><circle cx="864.5" cy="405.1" r="6.8"/><circle cx="826.9" cy="383.9" r="7.0"/><circle cx="830.6" cy="443.0" r="7.4"/><circle cx="1025.1" cy="496.0" r="5.7"/><circle cx="983.4" cy="443.2" r="5.7"/><circle cx="936.8" cy="526.9" r="6.7"/><circle cx="953.4" cy="571.2" r="3.7"/><circle cx="1052.4" cy="438.5" r="5.2"/><circle cx="978.7" cy="503.8" r="6.6"/><circle cx="892.5" cy="520.0" r="6.0"/><circle cx="825.0" cy="470.4" r="8.0"/><circle cx="906.9" cy="516.3" r="3.3"/><circle cx="807.9" cy="459.4" r="7.4"/><circle cx="987.6" cy="581.8" r="6.2"/><circle cx="1066.8" cy="411.3" r="6.7"/><circle cx="910.9" cy="469.3" r="5.8"/><circle cx="1088.4" cy="559.5" r="5.7"/><circle cx="956.8" cy="450.5" r="5.4"/><circle cx="838.8" cy="488.4" r="7.5"/><circle cx="1093.2" cy="386.7" r="7.5"/><circle cx="1006.3" cy="404.2" r="5.4"/><circle cx="1055.6" cy="432.2" r="4.1"/><circle cx="906.7" cy="462.9" r="4.6"/><circle cx="869.4" cy="490.4" r="6.8"/><circle cx="1088.1" cy="545.8" r="5.2"/><circle cx="940.1" cy="569.3" r="3.4"/><circle cx="1036.7" cy="490.3" r="3.6"/><circle cx="1051.0" cy="553.3" r="5.4"/><circle cx="1014.8" cy="541.5" r="6.5"/><circle cx="985.1" cy="510.6" r="5.6"/><circle cx="929.3" cy="423.4" r="5.4"/><circle cx="891.5" cy="402.1" r="5.2"/><circle cx="875.9" cy="383.2" r="4.7"/><circle cx="1027.6" cy="459.1" r="3.5"/><circle cx="1066.8" cy="560.8" r="6.1"/><circle cx="979.6" cy="392.0" r="6.6"/><circle cx="827.5" cy="481.4" r="6.1"/><circle cx="884.2" cy="513.7" r="3.7"/><circle cx="1011.4" cy="386.0" r="6.0"/><circle cx="986.2" cy="402.8" r="8.0"/><circle cx="993.2" cy="564.5" r="6.1"/><circle cx="1052.1" cy="488.6" r="5.4"/><circle cx="822.9" cy="507.2" r="7.8"/><circle cx="1064.9" cy="461.9" r="5.2"/><circle cx="859.5" cy="443.2" r="6.0"/><circle cx="1085.0" cy="390.0" r="3.8"/><circle cx="960.4" cy="502.7" r="6.6"/><circle cx="1019.9" cy="487.9" r="6.3"/><circle cx="1021.6" cy="408.0" r="7.4"/><circle cx="815.6" cy="540.1" r="3.4"/><circle cx="887.0" cy="396.0" r="5.3"/><circle cx="910.3" cy="484.9" r="3.7"/><circle cx="1006.6" cy="455.3" r="6.7"/><circle cx="895.8" cy="432.5" r="4.1"/><circle cx="932.7" cy="448.6" r="5.2"/><circle cx="845.1" cy="384.8" r="6.0"/><circle cx="868.6" cy="441.5" r="6.3"/><circle cx="814.0" cy="485.6" r="8.4"/><circle cx="870.1" cy="539.6" r="7.5"/><circle cx="861.3" cy="541.4" r="5.3"/><circle cx="853.4" cy="425.0" r="8.2"/><circle cx="884.8" cy="530.5" r="5.4"/><circle cx="833.7" cy="539.6" r="4.6"/><circle cx="837.0" cy="527.1" r="6.6"/><circle cx="946.9" cy="506.9" r="5.9"/><circle cx="920.4" cy="443.3" r="6.4"/><circle cx="814.3" cy="529.2" r="3.3"/><circle cx="1079.8" cy="404.8" r="3.6"/><circle cx="895.4" cy="508.9" r="6.2"/><circle cx="1025.7" cy="581.2" r="3.9"/><circle cx="860.8" cy="504.2" r="7.9"/><circle cx="1050.0" cy="538.3" r="7.2"/><circle cx="950.6" cy="384.6" r="6.1"/><circle cx="927.6" cy="480.7" r="5.4"/><circle cx="913.7" cy="540.2" r="3.2"/><circle cx="997.7" cy="452.1" r="6.1"/><circle cx="821.4" cy="495.9" r="6.7"/><circle cx="912.4" cy="579.7" r="5.7"/><circle cx="904.2" cy="583.0" r="6.8"/><circle cx="1093.4" cy="551.7" r="6.7"/><circle cx="908.2" cy="415.0" r="6.0"/><circle cx="879.3" cy="472.8" r="5.9"/><circle cx="1031.8" cy="538.3" r="5.5"/><circle cx="1073.3" cy="418.1" r="5.6"/><circle cx="993.3" cy="497.7" r="6.2"/><circle cx="841.2" cy="555.5" r="6.7"/><circle cx="1045.6" cy="476.6" r="7.9"/><circle cx="927.5" cy="434.0" r="3.2"/><circle cx="1094.9" cy="463.2" r="3.4"/><circle cx="972.9" cy="544.7" r="6.4"/><circle cx="905.8" cy="435.5" r="8.0"/><circle cx="1040.0" cy="540.3" r="3.6"/><circle cx="1065.3" cy="519.8" r="5.5"/><circle cx="876.5" cy="401.6" r="7.4"/><circle cx="859.6" cy="556.3" r="6.7"/><circle cx="1094.4" cy="434.0" r="8.1"/><circle cx="972.1" cy="448.4" r="7.6"/><circle cx="881.7" cy="521.5" r="6.7"/><circle cx="1024.8" cy="535.8" r="5.4"/><circle cx="1012.0" cy="468.2" r="5.7"/><circle cx="865.2" cy="452.6" r="6.5"/><circle cx="1049.1" cy="419.1" r="5.3"/><circle cx="918.2" cy="573.1" r="4.8"/><circle cx="970.6" cy="510.8" r="8.0"/><circle cx="806.1" cy="563.2" r="5.7"/><circle cx="1006.9" cy="420.5" r="3.2"/><circle cx="995.2" cy="408.7" r="3.3"/><circle cx="886.5" cy="495.7" r="7.1"/><circle cx="1064.9" cy="494.5" r="6.2"/><circle cx="1038.3" cy="570.9" r="3.5"/><circle cx="904.0" cy="522.9" r="5.4"/><circle cx="836.7" cy="452.2" r="5.4"/><circle cx="898.8" cy="425.9" r="5.2"/><circle cx="1047.9" cy="529.7" r="6.0"/><circle cx="860.1" cy="574.7" r="6.5"/><circle cx="848.1" cy="455.6" r="3.2"/><circle cx="909.1" cy="546.8" r="7.3"/><circle cx="1010.7" cy="515.4" r="3.3"/><circle cx="861.2" cy="484.9" r="5.6"/><circle cx="1011.9" cy="434.5" r="7.2"/><circle cx="938.3" cy="498.9" r="6.2"/><circle cx="808.3" cy="508.7" r="7.8"/><circle cx="850.3" cy="528.0" r="5.6"/><circle cx="944.1" cy="429.6" r="5.6"/><circle cx="1088.7" cy="579.9" r="7.5"/><circle cx="822.7" cy="487.6" r="3.3"/><circle cx="991.3" cy="428.9" r="8.0"/><circle cx="994.9" cy="417.6" r="3.8"/><circle cx="1083.2" cy="495.1" r="7.5"/><circle cx="830.0" cy="433.8" r="6.0"/><circle cx="828.5" cy="425.6" r="3.2"/><circle cx="1052.2" cy="506.8" r="3.4"/><circle cx="1000.7" cy="559.5" r="5.5"/><circle cx="877.0" cy="552.4" r="6.3"/><circle cx="1057.8" cy="425.9" r="5.2"/><circle cx="941.7" cy="482.4" r="8.4"/><circle cx="876.6" cy="431.1" r="3.2"/><circle cx="938.4" cy="548.0" r="3.7"/><circle cx="971.6" cy="465.4" r="5.7"/><circle cx="906.1" cy="508.1" r="6.5"/><circle cx="1036.5" cy="497.0" r="5.2"/><circle cx="1092.8" cy="454.1" r="7.1"/><circle cx="1031.6" cy="569.9" r="5.6"/><circle cx="1081.8" cy="538.3" r="5.3"/><circle cx="947.8" cy="436.2" r="5.6"/><circle cx="923.7" cy="470.3" r="6.6"/><circle cx="1000.4" cy="531.6" r="5.5"/><circle cx="829.2" cy="576.1" r="5.4"/><circle cx="900.5" cy="533.3" r="7.7"/><circle cx="816.2" cy="434.4" r="7.4"/><circle cx="944.6" cy="534.0" r="5.4"/><circle cx="979.1" cy="580.3" r="6.3"/><circle cx="944.4" cy="420.3" r="7.7"/><circle cx="1017.9" cy="581.4" r="6.0"/><circle cx="1034.3" cy="560.8" r="6.5"/><circle cx="850.1" cy="551.8" r="5.5"/><circle cx="902.5" cy="552.7" r="4.3"/><circle cx="884.4" cy="461.0" r="7.5"/><circle cx="892.3" cy="538.2" r="3.2"/><circle cx="1014.9" cy="421.8" r="7.3"/><circle cx="1020.9" cy="528.3" r="5.9"/><circle cx="1038.1" cy="504.1" r="3.7"/><circle cx="988.4" cy="466.7" r="3.1"/><circle cx="955.3" cy="393.4" r="7.4"/><circle cx="958.2" cy="490.8" r="3.8"/><circle cx="1088.4" cy="569.5" r="7.7"/><circle cx="934.3" cy="414.2" r="6.2"/><circle cx="936.2" cy="426.3" r="3.5"/><circle cx="1059.4" cy="577.4" r="7.0"/><circle cx="853.9" cy="566.4" r="7.9"/><circle cx="1024.7" cy="543.1" r="4.4"/><circle cx="997.9" cy="572.2" r="7.0"/><circle cx="1082.9" cy="463.4" r="6.4"/><circle cx="1004.4" cy="486.3" r="6.3"/><circle cx="859.3" cy="522.4" r="7.9"/><circle cx="1011.1" cy="412.0" r="5.9"/><circle cx="999.7" cy="518.4" r="3.4"/><circle cx="1087.7" cy="402.1" r="7.5"/><circle cx="903.2" cy="478.6" r="5.6"/><circle cx="858.7" cy="460.4" r="6.6"/><circle cx="1038.7" cy="394.3" r="5.4"/><circle cx="1003.1" cy="428.9" r="8.4"/><circle cx="949.3" cy="564.5" r="7.1"/><circle cx="917.9" cy="413.4" r="5.4"/><circle cx="922.2" cy="430.3" r="5.4"/><circle cx="806.9" cy="436.4" r="3.9"/><circle cx="811.8" cy="416.5" r="4.3"/><circle cx="1019.4" cy="430.3" r="5.7"/><circle cx="1037.5" cy="414.0" r="5.5"/><circle cx="975.8" cy="439.0" r="6.2"/><circle cx="877.8" cy="437.6" r="6.0"/><circle cx="975.0" cy="527.6" r="5.8"/><circle cx="1052.5" cy="472.1" r="3.6"/><circle cx="883.3" cy="560.3" r="7.9"/><circle cx="879.9" cy="506.7" r="5.9"/><circle cx="831.7" cy="508.6" r="3.9"/><circle cx="919.5" cy="552.7" r="5.5"/><circle cx="851.2" cy="479.8" r="8.4"/><circle cx="850.6" cy="515.3" r="8.3"/><circle cx="918.2" cy="536.5" r="4.1"/><circle cx="1055.1" cy="512.3" r="3.4"/><circle cx="1032.7" cy="399.9" r="5.4"/><circle cx="932.8" cy="518.4" r="7.0"/><circle cx="994.1" cy="510.2" r="7.6"/><circle cx="1033.0" cy="521.9" r="6.7"/><circle cx="919.5" cy="511.9" r="6.5"/><circle cx="995.9" cy="580.6" r="5.4"/><circle cx="805.8" cy="397.6" r="8.1"/><circle cx="938.4" cy="455.1" r="4.1"/><circle cx="1084.9" cy="485.0" r="6.4"/><circle cx="1049.9" cy="453.2" r="6.2"/><circle cx="840.9" cy="534.9" r="6.4"/><circle cx="863.0" cy="431.9" r="6.0"/><circle cx="841.5" cy="412.7" r="6.0"/><circle cx="809.9" cy="426.1" r="5.9"/><circle cx="1030.9" cy="479.7" r="7.1"/><circle cx="1030.0" cy="505.0" r="7.1"/><circle cx="954.7" cy="430.0" r="5.4"/><circle cx="1079.5" cy="394.9" r="5.9"/><circle cx="1093.2" cy="479.1" r="7.5"/><circle cx="1063.5" cy="436.6" r="8.0"/><circle cx="880.2" cy="484.4" r="5.7"/><circle cx="837.5" cy="500.5" r="6.1"/><circle cx="981.3" cy="460.8" r="7.5"/><circle cx="1053.8" cy="561.8" r="5.4"/><circle cx="917.7" cy="402.0" r="6.4"/><circle cx="857.1" cy="400.9" r="5.4"/><circle cx="983.0" cy="556.8" r="6.2"/><circle cx="952.4" cy="536.1" r="3.5"/><circle cx="953.5" cy="543.9" r="5.5"/><circle cx="1029.6" cy="427.7" r="6.4"/><circle cx="866.1" cy="464.3" r="4.3"/><circle cx="899.5" cy="561.1" r="7.9"/><circle cx="813.3" cy="501.7" r="4.0"/><circle cx="1004.8" cy="392.8" r="7.2"/><circle cx="899.2" cy="419.1" r="4.0"/><circle cx="963.4" cy="486.8" r="5.3"/><circle cx="812.1" cy="585.4" r="5.8"/><circle cx="1030.1" cy="389.4" r="6.3"/><circle cx="903.0" cy="494.2" r="6.5"/><circle cx="1041.6" cy="584.9" r="3.3"/><circle cx="1066.1" cy="425.9" r="5.6"/><circle cx="910.6" cy="446.1" r="5.9"/><circle cx="1068.0" cy="550.4" r="5.7"/><circle cx="1077.9" cy="581.1" r="7.8"/><circle cx="842.1" cy="547.1" r="5.9"/><circle cx="1080.7" cy="519.7" r="3.2"/><circle cx="1071.6" cy="388.0" r="5.4"/><circle cx="910.0" cy="425.9" r="7.2"/><circle cx="1014.7" cy="573.2" r="4.6"/><circle cx="1068.4" cy="571.0" r="7.6"/><circle cx="830.8" cy="491.1" r="5.3"/><circle cx="924.5" cy="578.9" r="5.3"/><circle cx="1094.4" cy="395.7" r="5.3"/><circle cx="884.5" cy="540.6" r="8.0"/><circle cx="1087.4" cy="516.8" r="6.6"/><circle cx="849.0" cy="488.7" r="3.9"/><circle cx="945.5" cy="576.1" r="8.3"/><circle cx="921.4" cy="520.6" r="5.5"/><circle cx="1044.2" cy="486.3" r="6.2"/><circle cx="962.4" cy="420.9" r="4.3"/><circle cx="1020.5" cy="504.6" r="6.5"/><circle cx="944.2" cy="393.2" r="5.4"/><circle cx="894.0" cy="585.4" r="3.8"/><circle cx="1037.3" cy="471.8" r="6.1"/><circle cx="843.5" cy="445.7" r="3.5"/><circle cx="871.1" cy="562.0" r="8.4"/><circle cx="817.8" cy="572.8" r="3.9"/><circle cx="925.6" cy="543.6" r="8.3"/><circle cx="852.9" cy="391.2" r="7.6"/><circle cx="1027.9" cy="451.3" r="7.4"/><circle cx="867.4" cy="424.1" r="6.1"/><circle cx="891.2" cy="482.7" r="7.8"/><circle cx="1007.5" cy="580.9" r="8.5"/><circle cx="838.0" cy="437.7" r="5.2"/><circle cx="853.2" cy="453.5" r="4.0"/><circle cx="807.7" cy="408.7" r="7.2"/><circle cx="1039.3" cy="441.1" r="7.6"/><circle cx="1048.1" cy="494.8" r="3.5"/><circle cx="1045.5" cy="446.6" r="3.1"/><circle cx="805.0" cy="418.8" r="5.3"/><circle cx="938.7" cy="406.3" r="5.3"/><circle cx="816.1" cy="470.3" r="3.4"/><circle cx="976.3" cy="552.5" r="5.3"/></g>
<g fill="url(#bq)"><circle cx="1059.5" cy="395.0" r="7.0"/><circle cx="987.0" cy="415.0" r="7.0"/><circle cx="847.0" cy="436.0" r="7.0"/><circle cx="927.0" cy="457.5" r="8.0"/><circle cx="1017.0" cy="476.0" r="7.0"/><circle cx="870.7" cy="527.5" r="8.0"/><circle cx="1073.0" cy="531.0" r="8.0"/><circle cx="929.5" cy="506.0" r="6.0"/><circle cx="1082.0" cy="427.5" r="7.0"/><circle cx="832.0" cy="417.5" r="8.0"/></g>
<g fill="none" stroke="#a0a0a0" stroke-width="1.1" stroke-linecap="round"><path d="M1053.1 396.8A6.6 6.6 0 0 1 1062.7 389.2"/><path d="M980.6 416.8A6.6 6.6 0 0 1 990.1 409.2"/><path d="M840.6 437.8A6.6 6.6 0 0 1 850.1 430.2"/><path d="M919.6 459.5A7.6 7.6 0 0 1 930.6 450.9"/><path d="M1010.6 477.8A6.6 6.6 0 0 1 1020.1 470.2"/><path d="M863.3 529.5A7.6 7.6 0 0 1 874.3 520.9"/><path d="M1065.6 533.0A7.6 7.6 0 0 1 1076.6 524.4"/><path d="M924.0 507.5A5.7 5.7 0 0 1 932.2 501.0"/><path d="M1075.6 429.2A6.6 6.6 0 0 1 1085.2 421.7"/><path d="M824.6 419.5A7.6 7.6 0 0 1 835.6 410.9"/></g>
</g></g>
<text class="pl" x="1.2" y="425.8" style="font-size:35px">(c)</text>
</g>
<g id="caps">
<text class="cap" x="92" y="612" style="font-size:23.7px" textLength="195.5" lengthAdjust="spacingAndGlyphs">LNF1 (PES-13ω%)</text>
<text class="cap" x="98.7" y="642.5" style="font-size:26.5px" textLength="188.8" lengthAdjust="spacingAndGlyphs">R<tspan dy="6.5" font-size="17.5">rms</tspan><tspan dy="-6.5">=5.6±0.9 nm</tspan></text>
<text class="cap" x="483.7" y="612.5" style="font-size:23.7px" textLength="196.3" lengthAdjust="spacingAndGlyphs">LNF2 (PES-15ω%)</text>
<text class="cap" x="479.5" y="642.5" style="font-size:26.5px" textLength="190.5" lengthAdjust="spacingAndGlyphs">R<tspan dy="6.5" font-size="17.5">rms</tspan><tspan dy="-6.5">=6.6±0.6 nm</tspan></text>
<text class="cap" x="852.5" y="612" style="font-size:23.7px" textLength="195.5" lengthAdjust="spacingAndGlyphs">LNF3 (PES-17ω%)</text>
<text class="cap" x="855.5" y="642" style="font-size:26.5px" textLength="202" lengthAdjust="spacingAndGlyphs">R<tspan dy="6.5" font-size="17.5">rms</tspan><tspan dy="-6.5">=25.7±0.7 nm</tspan></text>
<text class="nm" x="48.3" y="598.4" textLength="29.2" lengthAdjust="spacingAndGlyphs">100nm</text>
<path d="M57.8 588.6h13.1M57.8 587v3.2M70.9 587v3.2" stroke="#111" stroke-width="0.9" fill="none"/>
<text class="nm" x="434.8" y="598.4" textLength="29.2" lengthAdjust="spacingAndGlyphs">100nm</text>
<path d="M444.3 588.6h13.1M444.3 587v3.2M457.4 587v3.2" stroke="#111" stroke-width="0.9" fill="none"/>
<text class="nm" x="812.3" y="599.1" textLength="29.2" lengthAdjust="spacingAndGlyphs">100nm</text>
<path d="M821.8 589.3000000000001h13.1M821.8 587.7v3.2M834.9 587.7v3.2" stroke="#111" stroke-width="0.9" fill="none"/>
</g>
<g id="afm">
<clipPath id="ca0"><rect x="87" y="652.5" width="206" height="205.5"/></clipPath>
<g clip-path="url(#ca0)"><g filter="url(#fa1)"><g filter="url(#bl6)"><rect x="57" y="622.5" width="266" height="265.5" fill="#595959"/>
<ellipse cx="93.2" cy="683.3" rx="10.3" ry="45.2" fill="#333333"/>
<ellipse cx="132.3" cy="689.5" rx="16.5" ry="53.4" fill="#787878" transform="rotate(-18 132.3 689.5)"/>
<ellipse cx="185.9" cy="673.0" rx="20.6" ry="37.0" fill="#474747"/>
<ellipse cx="138.5" cy="769.6" rx="53.6" ry="20.6" fill="#454545" transform="rotate(-15 138.5 769.6)"/>
<ellipse cx="239.4" cy="755.2" rx="26.8" ry="61.6" fill="#737373" transform="rotate(8 239.4 755.2)"/>
<ellipse cx="243.6" cy="837.5" rx="35.0" ry="12.3" fill="#424242"/>
<ellipse cx="103.5" cy="816.9" rx="16.5" ry="30.8" fill="#696969"/>
<ellipse cx="179.7" cy="734.7" rx="12.4" ry="41.1" fill="#4c4c4c"/>
<ellipse cx="282.7" cy="693.6" rx="10.3" ry="41.1" fill="#525252"/>
</g>
<path d="M120.3 794.6h.01M218.1 750.9h.01M130.9 816.0h.01M254.0 757.8h.01M191.1 700.5h.01M86.7 728.5h.01M207.8 665.9h.01M251.1 699.7h.01M134.4 660.3h.01M293.5 804.8h.01M268.0 779.3h.01M93.1 719.8h.01M189.5 675.5h.01M284.0 728.0h.01M118.2 821.1h.01M112.0 844.0h.01M180.3 766.0h.01M157.3 752.1h.01M124.9 659.2h.01M266.1 700.2h.01M248.3 694.8h.01M287.5 837.0h.01M243.0 809.8h.01M206.8 802.9h.01M111.5 750.3h.01M258.0 693.2h.01M278.0 835.7h.01M171.2 727.3h.01M179.9 731.5h.01M292.9 731.7h.01M91.6 670.9h.01M235.4 857.5h.01M189.2 753.5h.01M200.5 806.7h.01M132.2 777.8h.01M201.7 780.7h.01M123.6 686.8h.01M158.4 843.9h.01M158.1 775.4h.01M149.8 672.9h.01M99.7 820.3h.01M247.6 729.3h.01M228.1 791.7h.01M272.9 850.3h.01M170.7 856.7h.01M286.0 774.0h.01M269.7 753.4h.01M164.1 702.8h.01M268.2 685.2h.01M247.0 751.8h.01M260.1 662.3h.01M139.7 711.6h.01M173.3 686.9h.01M100.4 721.7h.01M273.0 855.6h.01M241.1 750.9h.01M138.5 850.5h.01M195.3 802.7h.01M91.9 695.5h.01M260.4 816.5h.01M174.6 772.1h.01M262.7 715.4h.01M197.1 708.8h.01M245.8 653.6h.01M228.5 849.4h.01M90.9 774.7h.01M219.9 828.2h.01M207.5 704.9h.01M170.4 850.4h.01M274.4 679.2h.01M105.7 671.0h.01M91.3 744.2h.01M115.3 831.5h.01M222.3 677.8h.01M198.0 718.8h.01M164.6 798.8h.01M200.4 661.1h.01M233.9 832.8h.01M247.0 815.6h.01M87.6 747.8h.01M99.2 810.0h.01M122.5 799.1h.01M138.6 796.1h.01M151.2 660.2h.01M166.9 715.7h.01M273.4 712.7h.01M190.6 765.5h.01M283.2 672.0h.01M211.0 757.0h.01M238.8 852.2h.01M150.5 796.6h.01M195.4 767.8h.01M289.2 725.2h.01M152.2 857.6h.01M108.4 667.3h.01M244.1 744.5h.01M215.2 655.6h.01M220.1 743.3h.01M193.6 732.3h.01M169.5 698.3h.01M96.2 741.5h.01M256.0 801.7h.01M180.8 700.6h.01M166.2 752.5h.01M217.4 851.3h.01M103.8 751.0h.01M188.3 800.3h.01M271.2 813.2h.01M216.4 808.9h.01M224.9 829.7h.01M137.0 841.7h.01M166.3 779.1h.01M257.6 851.5h.01M291.8 652.8h.01M151.0 716.2h.01M167.4 681.7h.01M201.1 668.0h.01M148.9 847.3h.01M108.5 849.9h.01M232.4 694.2h.01M155.7 784.6h.01M227.8 705.6h.01M283.9 718.3h.01M138.9 826.9h.01M127.6 775.6h.01M143.7 730.1h.01M281.7 748.4h.01M176.9 779.5h.01M144.4 687.7h.01M166.0 708.0h.01M125.2 850.9h.01M93.2 819.7h.01M280.4 797.7h.01M89.9 755.5h.01M94.2 777.6h.01M231.7 701.3h.01M87.6 764.5h.01M105.7 715.6h.01M180.5 837.1h.01M163.0 679.5h.01M250.7 822.1h.01M196.1 661.7h.01M125.0 735.1h.01M200.8 698.2h.01M252.9 826.5h.01M102.7 838.2h.01M125.2 663.9h.01M255.6 777.4h.01M252.4 721.6h.01M142.1 724.8h.01M148.0 781.6h.01M271.2 666.2h.01M100.1 757.7h.01M227.0 690.9h.01M142.1 663.7h.01M227.6 787.0h.01M118.9 673.1h.01M279.6 763.3h.01M171.0 794.9h.01M237.4 760.4h.01M159.3 762.0h.01M216.7 687.6h.01M233.6 754.0h.01M119.7 828.1h.01M253.8 839.6h.01M227.3 696.6h.01M247.8 838.8h.01M196.9 840.0h.01M287.8 732.5h.01M281.9 845.9h.01M251.1 653.8h.01M220.5 685.0h.01M269.4 694.4h.01M293.6 766.6h.01M247.3 805.0h.01M269.6 726.7h.01M103.2 735.7h.01M123.1 763.5h.01M255.5 726.7h.01M113.3 657.1h.01M91.5 789.6h.01M129.9 673.7h.01M272.2 758.1h.01M111.6 701.3h.01M174.2 784.5h.01M221.4 704.0h.01M175.5 729.9h.01M187.8 706.6h.01M197.9 746.7h.01M208.0 818.1h.01M239.2 803.1h.01M167.9 652.3h.01M224.2 772.2h.01M205.9 858.5h.01M127.0 698.7h.01M238.7 820.1h.01M186.4 662.9h.01M163.0 823.0h.01M190.0 747.3h.01M210.5 795.3h.01M266.0 807.4h.01M279.1 692.7h.01M262.3 836.3h.01M258.9 706.5h.01M227.9 712.9h.01M131.4 694.4h.01M131.3 793.9h.01M162.6 691.6h.01M115.3 663.5h.01M230.8 737.3h.01M111.6 834.2h.01M222.2 655.9h.01M236.7 774.9h.01M178.3 755.4h.01M218.3 783.4h.01M162.1 723.4h.01M243.0 783.4h.01M90.1 785.0h.01M208.1 772.5h.01M120.3 817.3h.01M154.0 719.6h.01M197.2 675.5h.01M170.3 809.4h.01M136.4 775.9h.01M106.0 693.8h.01M194.2 789.2h.01M87.9 714.3h.01M152.2 841.0h.01M160.4 814.3h.01M206.6 689.3h.01M278.7 668.1h.01M286.7 812.6h.01M120.1 722.2h.01M167.0 817.8h.01M97.1 711.1h.01M250.9 807.8h.01M117.1 715.5h.01M109.3 788.8h.01M163.8 831.0h.01M201.7 727.0h.01M127.3 754.1h.01M124.8 841.0h.01M174.5 693.1h.01M266.6 721.4h.01M209.6 824.1h.01M229.9 751.1h.01M154.3 836.5h.01M262.0 681.8h.01M227.3 811.7h.01M293.3 719.5h.01M165.0 854.1h.01M120.8 733.6h.01M216.2 708.1h.01M141.5 816.3h.01M250.3 832.5h.01M271.9 822.4h.01M289.5 755.1h.01M231.9 758.1h.01M287.6 787.4h.01M175.6 789.3h.01M147.3 678.4h.01M86.8 670.7h.01M180.5 809.9h.01M96.1 783.6h.01M109.2 757.4h.01M147.5 744.0h.01M167.5 802.7h.01M110.1 723.9h.01M232.0 824.7h.01M289.7 704.9h.01M216.0 716.4h.01M280.7 724.6h.01M217.5 821.3h.01M86.8 722.1h.01M130.3 656.8h.01M253.1 687.5h.01M205.2 766.5h.01M262.7 827.2h.01M244.3 671.7h.01M279.1 715.5h.01M138.6 696.4h.01M237.7 702.1h.01M176.1 833.0h.01M293.2 668.9h.01M286.6 842.1h.01M181.9 795.3h.01M249.2 690.3h.01M214.1 855.2h.01M269.1 840.7h.01M103.6 799.8h.01M187.2 840.2h.01M111.1 818.4h.01M236.3 658.0h.01M99.0 848.8h.01M286.8 742.9h.01M212.1 734.2h.01M124.8 713.4h.01M244.8 698.2h.01M151.2 705.8h.01M110.1 762.1h.01M96.6 667.9h.01M157.0 711.9h.01M260.1 788.0h.01M217.6 844.0h.01M140.9 790.9h.01M289.2 761.1h.01M274.3 671.2h.01M236.5 706.6h.01M242.1 739.4h.01M197.3 703.1h.01M110.1 712.3h.01M287.4 693.7h.01M197.9 796.0h.01M135.3 740.8h.01M225.5 857.4h.01M279.8 782.1h.01M264.3 753.5h.01M208.0 836.9h.01M98.4 726.7h.01M175.0 663.4h.01M134.7 690.0h.01M155.6 816.8h.01M133.1 811.5h.01M121.9 775.0h.01M236.0 791.3h.01M103.6 850.0h.01M264.8 776.2h.01M256.7 747.7h.01M94.7 685.9h.01M157.3 790.9h.01M123.4 675.0h.01M156.0 675.4h.01M165.3 787.0h.01M200.2 816.6h.01M185.3 668.9h.01M237.3 734.9h.01M255.7 809.5h.01M269.9 817.8h.01M97.3 816.3h.01M251.4 740.0h.01M248.4 843.2h.01M274.1 690.9h.01M243.3 710.2h.01M178.8 851.0h.01M104.8 708.4h.01M224.2 839.8h.01M250.4 853.3h.01M154.5 698.7h.01M115.0 764.9h.01M216.8 761.4h.01M242.5 681.6h.01M253.2 734.3h.01M287.5 851.3h.01M188.6 737.8h.01M133.2 708.8h.01M128.9 686.4h.01M237.9 662.2h.01M239.0 769.2h.01M278.9 709.9h.01M105.4 772.4h.01M142.0 856.5h.01M277.7 794.2h.01M186.9 730.9h.01M157.8 729.1h.01M185.4 787.2h.01M112.6 852.5h.01M200.8 773.8h.01M233.7 840.3h.01M216.7 661.9h.01M240.8 715.1h.01M235.6 678.9h.01M210.3 686.6h.01M93.6 706.2h.01M262.5 732.1h.01M194.7 815.5h.01M184.7 814.2h.01M138.2 752.3h.01M136.7 789.6h.01M219.9 788.0h.01M132.5 842.8h.01M218.0 693.3h.01M281.9 828.6h.01M151.3 831.0h.01M148.1 731.5h.01M129.1 821.5h.01M124.2 827.4h.01M156.9 765.6h.01M268.3 706.8h.01M196.0 783.5h.01M206.2 736.0h.01M220.4 716.8h.01M118.2 653.4h.01M212.0 770.6h.01M226.0 745.6h.01M195.2 824.0h.01M194.0 741.9h.01M267.5 758.9h.01M94.8 751.4h.01M282.7 854.6h.01M174.7 706.6h.01M89.7 702.8h.01M183.9 791.3h.01M237.4 723.0h.01M176.8 795.7h.01M186.7 820.1h.01M192.5 853.8h.01M188.0 778.0h.01M164.3 667.3h.01M245.5 829.8h.01M200.6 857.9h.01M184.4 855.0h.01M102.8 730.0h.01M204.8 821.3h.01M163.7 792.0h.01M109.9 809.9h.01M101.0 694.4h.01M230.6 843.3h.01M100.9 779.0h.01M102.1 655.0h.01M113.7 793.8h.01M220.2 723.1h.01M248.4 715.9h.01M291.8 814.8h.01M106.0 688.2h.01M160.3 733.7h.01M202.3 745.3h.01M176.3 854.8h.01M102.2 785.7h.01M104.8 829.8h.01M150.9 751.2h.01M263.6 727.8h.01M200.7 741.2h.01M266.1 801.4h.01M223.1 819.7h.01M158.3 743.6h.01M127.5 803.3h.01M210.8 744.1h.01M110.8 744.2h.01M203.3 681.4h.01M176.4 710.7h.01M263.7 666.4h.01M185.7 718.8h.01M143.5 765.7h.01M198.1 787.2h.01M291.6 699.9h.01M162.2 745.9h.01M277.6 849.5h.01M253.4 714.0h.01M110.7 693.8h.01M225.8 797.2h.01M106.3 820.6h.01M196.1 778.5h.01M278.8 677.4h.01M160.1 780.0h.01M203.4 829.5h.01M187.8 657.6h.01M171.4 823.0h.01M178.9 726.0h.01M160.7 698.9h.01M208.9 810.8h.01M123.3 728.2h.01M206.7 731.1h.01M87.8 831.6h.01M290.0 711.6h.01M142.1 720.2h.01M116.1 702.3h.01M86.1 657.2h.01M243.9 842.1h.01M108.8 718.8h.01M93.3 758.4h.01M183.2 710.5h.01M132.0 665.2h.01M91.8 677.8h.01M290.4 658.4h.01M235.0 746.1h.01M208.2 714.7h.01M290.0 819.1h.01M170.2 741.0h.01M276.9 683.9h.01M203.9 762.1h.01M208.9 670.3h.01M281.9 702.2h.01M250.5 678.7h.01M215.9 699.8h.01M286.3 651.7h.01M110.0 776.6h.01M194.4 713.3h.01M223.1 760.8h.01M87.3 817.9h.01M144.7 838.1h.01M130.9 829.2h.01M264.4 850.9h.01M208.6 843.4h.01M272.1 789.8h.01M271.5 808.1h.01M128.2 721.0h.01M276.9 842.8h.01M257.0 656.2h.01M289.1 749.2h.01M257.2 737.6h.01M267.2 834.5h.01M258.1 722.9h.01M181.1 858.1h.01M100.7 703.8h.01M160.2 687.6h.01M229.9 838.3h.01M120.3 664.6h.01M170.7 845.4h.01M98.4 680.2h.01M180.0 660.8h.01M101.4 663.3h.01M251.1 768.6h.01M286.2 656.4h.01M88.6 851.2h.01M268.5 739.8h.01M178.6 802.2h.01M183.4 690.0h.01M258.1 677.2h.01M216.5 737.4h.01M257.0 697.7h.01M201.5 847.5h.01M142.3 821.9h.01M102.9 679.3h.01M234.2 671.6h.01M226.8 676.8h.01M279.9 742.9h.01M193.1 828.3h.01M92.4 804.3h.01M131.5 800.4h.01M159.7 849.4h.01M261.7 739.1h.01M179.9 678.4h.01M99.7 745.7h.01M127.7 742.3h.01M232.0 666.9h.01M249.1 685.1h.01M168.5 834.0h.01M256.7 766.6h.01M284.6 706.3h.01M208.8 693.2h.01M271.1 774.7h.01M205.9 847.2h.01M231.3 782.7h.01M265.3 762.7h.01M234.0 684.3h.01M181.8 828.1h.01M206.0 676.8h.01M127.0 795.5h.01M265.6 770.9h.01M258.7 841.6h.01M243.1 847.0h.01M96.2 843.5h.01M203.3 656.8h.01M97.2 717.7h.01M193.9 685.0h.01M123.0 669.3h.01M230.6 817.4h.01M259.9 770.0h.01M125.7 781.1h.01M293.0 850.9h.01M99.4 798.0h.01M145.5 696.9h.01M218.5 856.6h.01M112.1 687.2h.01M277.3 759.2h.01M161.0 756.1h.01M90.7 733.0h.01M210.2 698.3h.01M134.0 719.7h.01M114.1 674.6h.01M288.0 795.0h.01M240.4 674.6h.01M151.8 653.2h.01M95.2 836.6h.01M136.2 732.7h.01M224.0 708.7h.01M162.1 710.0h.01M242.3 727.2h.01M260.2 795.8h.01M258.8 761.6h.01M144.7 794.2h.01M166.5 768.4h.01M246.3 824.8h.01M274.8 696.8h.01M109.1 737.3h.01M137.4 728.3h.01M106.6 681.7h.01M279.5 805.7h.01M277.9 857.7h.01M183.0 674.6h.01M95.6 771.8h.01M90.7 795.5h.01M172.9 839.2h.01M248.1 776.0h.01M209.4 740.0h.01M118.0 760.0h.01M290.4 687.0h.01M275.5 767.4h.01M268.4 846.0h.01M117.5 668.4h.01M129.3 789.7h.01M215.8 667.2h.01M229.1 717.7h.01M172.7 746.9h.01M107.1 780.7h.01M107.1 699.6h.01M269.4 732.5h.01M288.8 737.5h.01M131.6 753.9h.01M121.8 707.6h.01M238.3 742.7h.01M222.8 851.3h.01M259.1 668.1h.01M253.5 660.4h.01M286.7 808.1h.01M222.8 734.4h.01M242.2 763.1h.01M180.9 818.2h.01M248.0 795.2h.01M245.7 756.2h.01M144.4 710.1h.01M277.1 831.0h.01M213.0 778.7h.01M270.9 766.5h.01M91.5 728.6h.01M249.6 799.4h.01M268.6 680.7h.01M216.3 772.7h.01M163.9 741.0h.01M190.0 844.4h.01M158.6 703.3h.01M86.1 804.6h.01M274.2 818.2h.01M147.2 802.5h.01M188.9 759.7h.01M222.2 845.8h.01M204.3 756.8h.01M146.4 843.3h.01M86.6 769.2h.01M198.6 757.8h.01M138.9 667.9h.01M165.9 688.7h.01M191.7 722.1h.01M177.1 761.6h.01M114.3 777.0h.01M233.6 796.1h.01M236.5 809.3h.01M172.2 652.5h.01M132.7 699.4h.01M229.8 769.6h.01M204.8 720.5h.01M89.7 690.2h.01M279.0 789.8h.01M127.9 679.0h.01M225.9 824.3h.01M196.6 656.4h.01M287.1 665.7h.01M184.3 746.7h.01M265.0 783.1h.01M290.8 828.2h.01M253.7 704.8h.01M104.2 794.9h.01M95.6 735.3h.01M161.7 836.9h.01M292.6 842.6h.01M165.2 727.0h.01M206.2 660.1h.01M226.2 664.3h.01M248.2 747.5h.01M156.4 682.0h.01M248.1 858.5h.01M274.2 751.4h.01M111.7 800.1h.01M270.4 717.6h.01M119.2 744.6h.01M176.1 739.6h.01M169.5 828.8h.01M253.3 815.4h.01M156.2 804.2h.01M89.8 813.5h.01M220.3 670.9h.01M227.9 779.7h.01M146.4 737.9h.01M192.2 652.1h.01M152.9 692.6h.01M107.7 844.4h.01M153.2 780.5h.01M224.9 766.8h.01M102.5 667.6h.01M234.0 720.1h.01M124.2 791.6h.01M247.2 706.7h.01M206.0 782.8h.01M113.5 738.2h.01M254.3 785.1h.01M147.5 775.3h.01M202.1 839.2h.01M257.9 717.1h.01M186.2 824.8h.01M253.2 744.6h.01M134.7 681.8h.01M128.8 855.2h.01M178.0 697.1h.01M276.7 809.4h.01M274.8 741.9h.01M285.0 791.4h.01M144.5 760.1h.01M142.2 741.3h.01M277.0 823.9h.01M129.0 725.5h.01M150.4 791.1h.01M153.0 710.4h.01M272.6 738.2h.01M169.2 731.4h.01M139.5 654.7h.01M266.3 748.3h.01M201.5 691.4h.01M86.5 838.9h.01M230.2 660.3h.01M110.7 731.1h.01M197.0 832.9h.01M156.1 659.7h.01M164.4 842.2h.01M202.3 707.2h.01M184.3 761.8h.01M142.5 674.1h.01M186.6 771.6h.01M193.3 807.1h.01M160.2 738.6h.01M279.0 663.1h.01M141.0 706.6h.01M160.4 855.4h.01M177.4 842.0h.01M131.6 835.5h.01M259.9 779.7h.01M274.8 660.7h.01M271.8 834.9h.01M184.8 803.0h.01M96.7 801.7h.01M86.7 788.2h.01M161.0 805.6h.01M151.8 763.7h.01M243.4 702.8h.01M116.1 815.9h.01M282.7 697.5h.01M133.1 767.8h.01M141.9 830.6h.01M99.5 856.6h.01M262.4 671.1h.01M172.1 668.3h.01" stroke="#fff" stroke-opacity="0.3" stroke-width="3.6" stroke-linecap="round" fill="none"/><path d="M273.9 733.0h.01M289.1 769.8h.01M292.3 785.3h.01M156.7 666.2h.01M272.4 803.1h.01M121.8 845.7h.01M108.6 858.9h.01M94.7 849.8h.01M275.9 785.7h.01M169.3 758.1h.01M187.5 809.2h.01M160.1 670.6h.01M151.0 735.7h.01M205.4 852.8h.01M123.9 691.4h.01M152.4 685.2h.01M238.9 837.3h.01M189.4 791.6h.01M264.3 813.7h.01M113.1 848.2h.01M272.1 654.3h.01M99.0 792.5h.01M155.4 739.1h.01M286.2 832.6h.01M174.7 680.0h.01M141.9 692.9h.01M182.2 841.3h.01M159.6 800.2h.01M193.8 761.6h.01M167.6 744.9h.01M171.0 768.1h.01M273.0 779.0h.01M229.0 652.7h.01M228.5 755.3h.01M147.7 855.4h.01M283.9 761.7h.01M276.3 706.3h.01M233.8 801.5h.01M86.6 779.0h.01M189.9 668.0h.01M197.9 680.3h.01M145.3 749.8h.01M123.9 806.3h.01M177.4 671.4h.01M292.0 675.0h.01M133.1 853.0h.01M90.8 855.1h.01M229.9 775.8h.01M228.8 802.7h.01M136.3 664.4h.01M268.9 794.8h.01M163.3 719.1h.01M253.5 671.4h.01M163.9 848.3h.01M219.0 798.2h.01M189.9 785.0h.01M116.1 782.0h.01M112.5 784.5h.01M238.2 798.3h.01M103.9 805.0h.01M110.0 771.3h.01M181.7 653.7h.01M146.1 788.9h.01M173.2 803.0h.01M276.1 775.2h.01M282.8 787.3h.01M91.9 846.5h.01M283.1 754.1h.01M286.7 846.9h.01M129.0 731.6h.01M142.7 678.6h.01M288.3 716.5h.01M87.9 698.7h.01M104.5 755.9h.01M127.3 766.3h.01M135.0 654.2h.01M141.9 800.2h.01M172.1 722.6h.01M141.2 810.7h.01M91.4 827.2h.01M125.0 746.6h.01M106.5 825.9h.01M222.2 727.7h.01M104.1 811.3h.01M89.9 682.1h.01M129.7 847.4h.01M216.5 729.0h.01M257.5 826.5h.01M279.8 652.2h.01M224.4 723.8h.01M175.0 675.1h.01M193.5 691.6h.01M108.7 677.5h.01M164.6 772.3h.01M171.7 780.5h.01M99.1 827.3h.01M122.5 718.6h.01M253.8 856.3h.01M206.3 726.0h.01M156.1 809.4h.01M229.9 856.3h.01M206.4 749.1h.01M235.0 710.8h.01M222.4 802.2h.01M180.0 786.9h.01M179.3 715.1h.01M242.9 796.1h.01M212.7 845.7h.01M116.3 771.6h.01M198.2 820.6h.01M287.2 682.0h.01M187.8 835.1h.01M170.4 708.9h.01M121.9 835.3h.01M157.6 716.3h.01M114.4 719.1h.01M232.4 741.4h.01M182.8 757.7h.01M273.4 701.3h.01M196.4 849.0h.01M265.3 790.9h.01M192.5 708.3h.01M155.6 798.6h.01M213.3 800.8h.01M138.9 770.0h.01M138.2 784.7h.01M286.7 802.0h.01M94.8 651.9h.01M180.0 823.4h.01M86.1 734.3h.01M209.9 828.6h.01M253.4 845.2h.01M91.4 657.2h.01M128.5 759.7h.01M252.0 792.0h.01M117.2 840.0h.01M233.8 726.2h.01M220.3 665.3h.01M125.1 819.3h.01M141.1 735.8h.01M246.8 676.3h.01M202.5 811.8h.01M164.0 674.4h.01M293.6 739.0h.01M214.3 829.6h.01M234.8 715.7h.01M89.7 665.9h.01M251.0 761.7h.01M116.9 707.8h.01M170.4 718.4h.01M89.3 738.6h.01M224.0 776.7h.01M237.0 845.4h.01M279.9 737.1h.01M192.5 773.2h.01M221.3 813.6h.01M175.6 821.3h.01M169.0 677.4h.01M161.0 767.9h.01M238.7 787.6h.01M232.0 730.4h.01M239.8 653.2h.01M140.1 682.2h.01M136.2 832.2h.01M212.7 720.2h.01M110.7 671.1h.01M239.7 824.3h.01M284.7 819.6h.01M140.7 777.4h.01M120.9 753.0h.01M181.9 683.9h.01M116.3 798.1h.01M183.6 740.4h.01M184.8 849.3h.01M113.7 823.3h.01M157.7 652.4h.01M214.1 835.9h.01M96.7 691.7h.01M267.1 829.7h.01M118.9 659.8h.01M99.9 774.4h.01M264.1 654.0h.01M173.3 754.8h.01M141.1 701.3h.01M104.3 659.3h.01M190.0 813.4h.01M91.0 710.0h.01M145.6 769.9h.01M266.3 712.8h.01M116.6 692.6h.01M150.0 759.2h.01M237.9 691.0h.01M210.3 681.3h.01M184.5 753.1h.01M119.0 786.4h.01M274.9 722.4h.01M96.4 702.2h.01M232.6 812.3h.01M209.5 789.3h.01M249.7 711.3h.01M203.0 788.5h.01M118.0 748.9h.01M263.5 694.1h.01M224.6 835.1h.01M118.2 729.0h.01M97.1 658.2h.01M136.5 780.6h.01M175.2 809.7h.01M156.9 694.9h.01M267.9 858.8h.01M89.3 808.6h.01M114.9 805.3h.01M203.1 712.1h.01M266.9 690.9h.01M280.2 730.0h.01M159.4 828.1h.01M131.7 744.4h.01M220.3 699.8h.01M186.1 702.2h.01M293.1 792.7h.01M133.5 785.8h.01M178.6 750.5h.01M215.4 787.7h.01M164.8 661.7h.01M211.2 761.3h.01M287.1 677.5h.01M113.3 754.7h.01M186.9 652.2h.01M243.8 688.2h.01M182.4 779.4h.01M243.8 660.5h.01M126.4 834.5h.01M277.4 801.1h.01M93.2 766.4h.01M98.1 697.7h.01M178.4 666.2h.01M149.0 814.6h.01M122.7 652.9h.01M281.5 838.5h.01M93.7 808.8h.01M120.9 853.9h.01M121.7 770.6h.01M244.5 801.0h.01M216.0 768.0h.01M254.5 681.4h.01M219.7 838.5h.01M216.6 676.2h.01M212.6 710.6h.01M236.6 828.3h.01M202.4 651.8h.01M131.4 806.8h.01M241.0 791.5h.01M243.2 692.6h.01M188.3 688.4h.01M109.0 793.4h.01M212.2 728.1h.01M202.1 673.4h.01M286.0 825.2h.01M248.5 664.5h.01M156.3 824.4h.01M244.9 855.6h.01M263.8 659.7h.01M122.7 679.4h.01M146.8 821.2h.01M223.9 651.8h.01M278.3 673.0h.01M221.6 755.3h.01M227.2 669.6h.01M126.9 811.7h.01M128.6 708.6h.01M97.2 673.2h.01M149.9 665.9h.01M263.5 686.0h.01M279.5 815.4h.01M164.3 808.8h.01M173.5 816.9h.01M223.6 740.3h.01M170.3 660.1h.01M86.0 796.1h.01M248.3 784.8h.01M293.5 757.7h.01M116.4 858.1h.01M220.9 779.8h.01M132.9 735.9h.01M247.4 721.3h.01M134.8 848.0h.01M133.6 823.1h.01M268.6 661.9h.01M183.3 736.1h.01M166.7 657.6h.01M153.1 725.6h.01M176.0 744.0h.01M150.7 826.6h.01M248.9 735.3h.01M136.7 802.8h.01M106.5 766.2h.01M135.6 670.6h.01M173.6 734.5h.01M111.6 682.3h.01M279.5 771.3h.01M235.1 766.7h.01M292.5 857.7h.01M285.0 687.8h.01M260.0 830.9h.01M115.4 742.3h.01M204.0 702.5h.01M150.7 768.3h.01M135.5 762.4h.01M234.9 849.6h.01M263.1 709.9h.01M140.9 844.3h.01M278.4 688.2h.01M153.3 851.7h.01M245.2 667.5h.01M258.3 756.2h.01M177.8 688.3h.01M260.3 751.6h.01M151.6 818.9h.01M243.8 770.9h.01M209.3 854.9h.01M213.4 704.6h.01M204.5 799.1h.01M266.6 669.5h.01M106.3 663.4h.01M208.4 753.0h.01M199.0 731.8h.01M116.4 687.5h.01M261.0 845.8h.01M211.4 765.8h.01M262.7 856.0h.01M132.8 772.8h.01M188.2 695.7h.01M156.6 758.5h.01M147.9 809.2h.01M146.9 831.6h.01M136.3 857.2h.01M188.6 858.1h.01M261.6 802.3h.01M143.1 852.1h.01M117.9 849.4h.01M144.1 653.0h.01M202.9 686.1h.01M192.5 727.4h.01M99.2 753.0h.01M240.8 756.1h.01M134.0 758.2h.01M108.0 652.6h.01M292.7 780.1h.01M107.5 727.8h.01M158.9 795.3h.01M119.5 739.8h.01M253.6 666.7h.01M208.5 653.1h.01M139.6 806.1h.01M148.1 722.8h.01M218.7 804.9h.01M208.0 778.5h.01M194.1 668.6h.01M251.2 780.7h.01M151.5 803.6h.01M186.2 830.5h.01M210.9 658.9h.01M155.6 671.0h.01M171.8 762.1h.01M87.0 686.7h.01M181.3 774.1h.01M238.9 780.2h.01M140.6 747.7h.01M93.9 663.8h.01M88.8 799.9h.01M93.9 714.4h.01M135.2 676.3h.01M263.6 842.4h.01M228.7 763.7h.01M165.0 759.5h.01M130.2 714.2h.01M103.2 761.7h.01M113.2 667.4h.01M211.4 850.0h.01M183.3 723.6h.01M103.8 855.0h.01M96.8 832.6h.01M137.6 722.9h.01M175.5 766.7h.01M188.0 712.4h.01M229.3 724.9h.01M143.6 715.3h.01M223.2 808.8h.01M86.9 677.2h.01M104.0 724.5h.01M117.5 696.8h.01M227.5 681.6h.01M105.2 815.6h.01M291.6 745.4h.01M268.7 786.6h.01M205.9 792.8h.01M190.8 823.2h.01M293.1 797.2h.01M191.8 839.4h.01M111.8 828.8h.01M200.4 750.2h.01M150.8 740.1h.01M292.7 836.0h.01M241.4 832.3h.01M291.4 691.9h.01M227.4 729.6h.01M86.6 693.6h.01M213.6 818.5h.01M243.8 735.0h.01M252.8 695.1h.01M222.4 694.0h.01M148.7 691.6h.01M176.7 826.4h.01M255.7 832.9h.01M257.6 820.2h.01M260.2 701.6h.01M193.7 795.0h.01M134.7 713.5h.01M114.7 733.0h.01M242.2 719.4h.01M239.1 669.1h.01M283.9 739.1h.01M196.0 751.7h.01M293.0 822.2h.01M272.9 685.4h.01M121.3 780.6h.01M144.4 658.4h.01M161.3 819.0h.01M239.0 730.6h.01M223.2 792.1h.01M187.4 726.2h.01M152.5 731.1h.01M288.0 671.0h.01M127.4 653.0h.01M283.9 712.5h.01M91.5 842.1h.01M140.1 763.1h.01M90.3 836.2h.01M97.8 763.2h.01M138.3 819.3h.01M151.5 773.3h.01M259.0 805.9h.01M122.0 811.9h.01M150.2 785.4h.01M148.2 700.4h.01M196.9 844.5h.01M263.0 820.8h.01M217.0 680.9h.01M282.2 680.8h.01M122.0 697.9h.01M229.7 807.6h.01M188.0 796.0h.01M176.5 653.9h.01M115.1 724.5h.01M165.1 826.9h.01M129.2 839.4h.01M113.8 789.0h.01M116.3 680.4h.01M86.2 759.1h.01M108.0 704.6h.01M170.8 690.8h.01M95.1 796.0h.01M215.9 793.2h.01M249.3 849.1h.01M101.1 687.8h.01M252.7 753.2h.01M238.0 686.4h.01M168.8 703.6h.01M139.3 757.3h.01M244.6 778.8h.01M243.5 819.6h.01M278.9 820.0h.01M213.2 671.2h.01M293.5 663.9h.01M196.9 727.3h.01M231.5 677.1h.01M155.5 847.7h.01M160.8 663.3h.01M165.7 813.4h.01M263.5 743.9h.01M230.2 828.7h.01M108.4 656.9h.01M98.1 731.0h.01M258.1 730.7h.01M199.8 826.2h.01M86.5 661.6h.01M212.9 812.5h.01M270.6 826.9h.01M157.4 724.0h.01M287.7 780.5h.01M168.7 840.8h.01M152.2 811.4h.01M86.7 707.4h.01M154.4 746.7h.01M105.9 834.5h.01M195.4 697.5h.01M182.5 696.2h.01M140.2 838.2h.01M293.6 708.7h.01M186.1 678.7h.01M125.2 786.4h.01M148.8 712.2h.01M220.7 768.3h.01M135.8 837.1h.01M286.7 701.7h.01M279.8 656.9h.01M155.9 832.4h.01M271.5 745.2h.01M240.6 858.5h.01M286.9 858.7h.01M165.9 695.9h.01M131.9 704.3h.01M145.6 755.8h.01M112.6 651.5h.01M124.0 703.3h.01M219.1 832.6h.01M196.1 736.1h.01M168.7 775.1h.01M125.1 857.5h.01M153.0 678.9h.01M142.9 781.8h.01M172.4 713.5h.01M111.6 813.9h.01M177.9 721.3h.01M262.8 757.6h.01M212.9 749.9h.01M146.3 798.2h.01M117.2 810.8h.01M199.3 800.4h.01M269.0 675.0h.01M203.7 834.5h.01M148.7 682.5h.01M160.4 787.4h.01M198.3 687.2h.01M173.6 701.1h.01M152.9 755.7h.01M293.9 682.1h.01M144.2 847.5h.01M240.2 698.4h.01M263.2 675.7h.01" stroke="#fff" stroke-opacity="0.46" stroke-width="4.0" stroke-linecap="round" fill="none"/><path d="M273.8 797.5h.01M94.9 858.5h.01M244.1 835.7h.01M215.6 745.7h.01M257.6 688.4h.01M129.4 748.7h.01M254.2 772.9h.01M102.9 698.4h.01M292.6 772.7h.01M247.1 739.2h.01M169.1 789.8h.01M101.0 714.1h.01M111.4 707.5h.01M211.7 839.5h.01M103.2 790.5h.01M257.2 710.9h.01M149.1 837.2h.01M119.6 766.0h.01M108.3 804.9h.01M248.1 657.6h.01M238.8 813.1h.01M92.7 724.3h.01M267.9 854.0h.01M234.7 771.0h.01M236.6 695.9h.01M169.4 785.5h.01M212.9 690.7h.01M188.2 852.7h.01M122.2 758.4h.01M244.4 787.7h.01M258.1 857.5h.01M280.2 776.9h.01M138.8 660.0h.01M219.7 711.1h.01M213.5 805.7h.01M190.4 682.3h.01M191.5 832.4h.01M293.9 727.0h.01M105.4 745.2h.01M207.1 709.7h.01M101.0 740.1h.01M92.5 831.7h.01M283.1 660.7h.01M246.7 763.3h.01M231.1 688.9h.01M169.7 736.7h.01M201.5 736.7h.01M163.9 731.3h.01M196.4 810.5h.01M166.8 722.4h.01M288.0 765.3h.01M221.9 660.5h.01M136.6 704.5h.01M129.7 783.2h.01M156.4 770.5h.01M225.0 687.0h.01M110.5 661.8h.01M180.2 846.5h.01M185.8 782.5h.01M199.9 766.9h.01M177.9 813.5h.01M256.9 792.3h.01M162.4 750.3h.01M274.1 762.9h.01M162.8 651.9h.01M182.2 706.3h.01M212.3 664.2h.01M96.6 788.4h.01M263.5 705.0h.01M225.3 701.7h.01M225.6 815.8h.01M87.5 844.6h.01M282.4 810.1h.01M148.6 656.5h.01M139.1 688.6h.01M189.2 805.1h.01M101.7 770.0h.01M226.5 657.4h.01M290.6 810.1h.01M212.6 783.0h.01M276.5 746.1h.01M106.1 740.7h.01M224.3 718.6h.01M145.4 667.1h.01M175.7 847.3h.01M215.5 756.4h.01M282.3 802.4h.01M94.7 824.3h.01M166.5 763.8h.01M283.6 769.6h.01M90.2 652.3h.01M138.0 716.7h.01M160.4 657.2h.01M266.5 736.0h.01M102.7 843.5h.01M213.3 651.6h.01M256.5 651.8h.01M144.4 682.6h.01M135.1 747.6h.01M110.1 839.2h.01M174.8 717.6h.01M293.7 752.2h.01M176.9 684.1h.01M133.1 727.0h.01M206.1 696.8h.01M199.2 714.5h.01M285.3 722.8h.01M223.6 750.1h.01M157.2 707.5h.01M87.1 823.0h.01M101.4 832.5h.01M130.3 669.3h.01M227.7 734.0h.01M193.5 756.6h.01M119.6 806.2h.01M274.1 728.2h.01M164.2 684.6h.01M192.7 659.0h.01M244.0 851.3h.01M198.6 723.1h.01M174.9 658.1h.01M191.1 817.8h.01M170.5 673.1h.01M204.1 770.7h.01M86.0 855.4h.01M145.1 825.4h.01M191.1 716.4h.01M191.7 664.1h.01M249.3 668.9h.01M205.1 807.6h.01M161.6 714.4h.01M122.1 823.0h.01M156.0 734.5h.01M205.1 741.1h.01M235.8 783.3h.01M117.8 790.7h.01M212.0 676.3h.01M272.7 845.0h.01M120.2 712.1h.01M182.4 664.6h.01M196.2 857.9h.01M258.4 743.5h.01M197.1 853.6h.01M269.2 657.7h.01M232.4 655.6h.01M163.8 858.6h.01M285.9 757.6h.01M257.8 672.2h.01M94.2 681.4h.01M253.1 796.3h.01M186.2 765.9h.01M129.8 661.3h.01M266.5 823.7h.01M102.5 824.1h.01M97.9 805.9h.01M230.3 746.3h.01M247.6 811.0h.01M283.7 733.8h.01M218.7 652.3h.01M261.7 809.6h.01M188.0 742.3h.01M97.6 767.8h.01M273.8 839.0h.01M233.9 779.2h.01M132.2 858.9h.01M217.2 777.3h.01M279.1 720.1h.01M215.2 724.9h.01M223.4 785.5h.01M145.9 705.5h.01M117.5 835.3h.01M236.9 750.1h.01M283.2 850.1h.01M204.9 775.4h.01M197.6 693.3h.01M216.9 814.7h.01M250.4 725.4h.01M232.0 706.7h.01M200.6 792.3h.01M272.3 708.4h.01M217.8 733.3h.01M116.7 844.8h.01M94.9 747.0h.01M177.9 735.6h.01M233.4 787.7h.01M235.2 651.8h.01M86.3 774.5h.01M226.1 844.2h.01M119.5 684.4h.01M223.6 713.9h.01M190.4 848.8h.01M101.9 673.3h.01M181.9 832.9h.01M86.7 743.1h.01M211.8 858.9h.01" stroke="#fff" stroke-opacity="0.62" stroke-width="4.2" stroke-linecap="round" fill="none"/><path d="M268.3 651.8h.01M164.6 736.5h.01M153.9 794.0h.01M143.2 773.8h.01M137.8 813.5h.01M120.7 858.5h.01M203.5 664.2h.01M235.6 817.0h.01M277.3 754.5h.01M168.6 665.1h.01M260.2 774.9h.01M264.7 796.3h.01M98.4 839.8h.01M192.9 678.5h.01M105.1 776.8h.01" stroke="#fff" stroke-opacity="0.9" stroke-width="4.4" stroke-linecap="round" fill="none"/>
</g>
<g filter="url(#sb)" fill="#fff6e0">
<ellipse cx="141" cy="780" rx="4.2" ry="3.8"/>
<ellipse cx="133" cy="771" rx="2.2" ry="3.5"/>
<ellipse cx="212.5" cy="835.5" rx="7" ry="6.2"/>
<ellipse cx="204" cy="849" rx="3.2" ry="5.2"/>
</g></g>
<clipPath id="ca1"><rect x="474" y="652.5" width="208.5" height="207.5"/></clipPath>
<g clip-path="url(#ca1)"><g filter="url(#fa2)"><g filter="url(#bl6)"><rect x="444" y="622.5" width="268.5" height="267.5" fill="#666666"/>
<ellipse cx="478.2" cy="677.4" rx="10.4" ry="41.5" fill="#292929"/>
<ellipse cx="478.2" cy="839.2" rx="10.4" ry="29.1" fill="#2e2e2e"/>
<ellipse cx="526.1" cy="679.5" rx="33.4" ry="27.0" fill="#858585"/>
<ellipse cx="588.7" cy="671.2" rx="20.9" ry="20.8" fill="#4f4f4f"/>
<ellipse cx="630.4" cy="708.5" rx="20.9" ry="16.6" fill="#525252"/>
<ellipse cx="599.1" cy="750.0" rx="10.4" ry="14.5" fill="#525252"/>
<ellipse cx="624.1" cy="797.8" rx="18.8" ry="37.4" fill="#4f4f4f"/>
<ellipse cx="509.4" cy="743.8" rx="14.6" ry="20.8" fill="#525252"/>
<ellipse cx="553.2" cy="772.9" rx="20.9" ry="41.5" fill="#7a7a7a"/>
<ellipse cx="672.1" cy="777.0" rx="10.4" ry="62.2" fill="#787878"/>
<ellipse cx="515.7" cy="839.2" rx="25.0" ry="16.6" fill="#7a7a7a"/>
</g>
<path d="M674.7 680.9h.01M478.0 860.7h.01M511.8 676.8h.01M610.1 723.9h.01M660.3 700.0h.01M675.0 718.4h.01M599.5 846.8h.01M617.2 845.0h.01M622.1 661.6h.01M658.5 775.0h.01M538.4 691.3h.01M651.9 773.6h.01M670.4 813.6h.01M675.3 770.1h.01M620.0 779.8h.01M527.4 851.9h.01M538.8 815.1h.01M674.0 787.9h.01M502.9 824.4h.01M613.5 690.3h.01M483.3 762.9h.01M479.8 845.3h.01M579.6 759.9h.01M559.2 790.0h.01M665.9 715.9h.01M551.7 773.6h.01M535.6 776.3h.01M587.3 742.3h.01M614.7 762.2h.01M491.5 860.3h.01M547.9 742.0h.01M557.8 846.2h.01M673.4 758.8h.01M557.3 671.7h.01M661.5 687.4h.01M588.1 724.6h.01M542.1 726.3h.01M513.3 659.2h.01M585.7 818.2h.01M609.2 693.7h.01M559.5 825.0h.01M666.9 748.0h.01M651.2 755.9h.01M583.3 774.0h.01M681.7 807.3h.01M572.6 803.9h.01M638.1 823.2h.01M476.8 756.3h.01M509.1 796.5h.01M564.4 707.9h.01M481.8 854.1h.01M547.2 676.2h.01M518.5 704.9h.01M655.3 689.3h.01M531.2 671.9h.01M571.9 695.0h.01M545.4 805.5h.01M667.7 826.3h.01M481.1 730.6h.01M651.7 658.4h.01M515.8 754.2h.01M553.5 808.7h.01M624.2 748.8h.01M525.4 699.8h.01M529.1 665.2h.01M613.1 684.6h.01M660.2 786.8h.01M485.0 756.0h.01M600.1 660.4h.01M575.5 657.8h.01M634.3 652.4h.01M606.0 858.0h.01M651.2 700.4h.01M585.5 680.8h.01M545.1 832.5h.01M645.1 653.4h.01M553.0 785.6h.01M509.9 819.6h.01M661.0 767.0h.01M549.2 829.3h.01M581.0 691.0h.01M531.5 684.8h.01M619.6 822.7h.01M678.0 691.4h.01M558.4 834.6h.01M633.3 732.5h.01M507.0 662.1h.01M552.9 700.9h.01M582.0 854.6h.01M505.2 768.3h.01M584.0 812.4h.01M477.6 850.2h.01M646.7 672.2h.01M487.0 688.9h.01M579.3 848.1h.01M664.4 737.8h.01M604.0 806.5h.01M543.0 854.8h.01M671.2 803.8h.01M662.8 819.3h.01M610.3 718.8h.01M532.2 701.5h.01M485.1 845.5h.01M535.8 656.5h.01M539.5 673.1h.01M566.7 721.1h.01M509.9 751.4h.01M560.3 725.7h.01M644.2 715.8h.01M586.9 835.4h.01M674.9 730.0h.01M581.2 697.1h.01M500.0 701.6h.01M538.4 680.6h.01M483.3 859.8h.01M574.2 819.4h.01M579.2 666.0h.01M544.5 731.3h.01M665.5 773.6h.01M569.6 783.6h.01M483.2 795.3h.01M643.1 792.0h.01M549.0 711.4h.01M475.1 668.7h.01M505.5 746.5h.01M636.8 697.0h.01M605.5 655.8h.01M536.8 701.6h.01M590.3 688.2h.01M590.1 823.9h.01M528.1 833.5h.01M584.6 794.4h.01M593.6 777.6h.01M523.5 767.5h.01M547.6 818.7h.01M551.5 856.7h.01M595.2 699.2h.01M560.5 678.3h.01M628.0 661.1h.01M600.3 716.0h.01M636.6 678.1h.01M616.2 801.1h.01M522.1 678.8h.01M527.9 653.3h.01M565.9 820.9h.01M506.2 848.6h.01M580.0 685.1h.01M494.1 729.2h.01M573.3 688.3h.01M490.7 756.5h.01M526.5 744.6h.01M567.9 797.6h.01M510.8 831.4h.01M483.6 677.3h.01M487.7 824.6h.01M586.9 845.0h.01M604.8 721.8h.01M563.6 804.9h.01M521.7 819.7h.01M558.8 660.3h.01M545.3 768.9h.01M503.9 841.2h.01M668.0 758.6h.01M663.4 796.0h.01M673.6 844.2h.01M568.1 732.1h.01M488.5 781.2h.01M653.0 733.0h.01M640.0 687.1h.01M532.4 786.1h.01M481.7 822.6h.01M539.4 825.8h.01M568.7 686.2h.01M477.1 675.2h.01M527.8 810.2h.01M640.1 783.7h.01M537.7 790.6h.01M627.2 728.5h.01M490.2 749.7h.01M519.7 691.0h.01M555.2 667.1h.01M662.0 710.3h.01M662.1 806.0h.01M475.3 839.9h.01M643.4 761.6h.01M659.1 751.7h.01M478.3 682.9h.01M538.4 831.3h.01M521.1 725.3h.01M611.4 702.2h.01M563.4 811.9h.01M545.6 705.3h.01M498.8 713.2h.01M522.4 805.5h.01M547.7 799.6h.01M537.2 733.8h.01M664.6 693.3h.01M517.6 684.2h.01M669.2 699.2h.01M596.1 674.9h.01M473.3 802.0h.01M617.2 816.3h.01M575.5 748.7h.01M540.6 660.9h.01M586.9 701.0h.01M590.0 757.0h.01M598.5 793.2h.01M618.3 757.9h.01M595.1 656.6h.01M552.4 673.3h.01M493.7 674.9h.01M577.9 834.3h.01M634.7 671.3h.01M651.8 831.9h.01M679.1 708.1h.01M488.2 806.4h.01M676.4 817.9h.01M633.1 807.4h.01M576.7 860.8h.01M563.7 670.2h.01M551.9 822.7h.01M547.5 752.8h.01M577.0 795.0h.01M670.2 819.4h.01M586.4 858.1h.01M598.6 776.0h.01M556.3 739.3h.01M674.1 799.5h.01M593.0 728.4h.01M476.8 790.1h.01M631.2 803.0h.01M632.8 659.0h.01M617.0 710.1h.01M558.2 749.3h.01M517.2 696.6h.01M583.0 661.5h.01M491.7 669.6h.01M627.4 854.8h.01M630.9 759.4h.01M500.5 815.7h.01M500.3 667.6h.01M628.5 832.7h.01M680.2 822.6h.01M514.3 759.6h.01M587.7 802.8h.01M521.3 772.4h.01M532.8 690.1h.01M557.0 708.4h.01M604.6 782.8h.01M667.5 791.0h.01M500.4 736.1h.01M584.6 671.0h.01M573.2 788.7h.01M638.3 744.9h.01M518.0 658.6h.01M578.9 808.6h.01M496.2 761.1h.01M598.6 768.8h.01M521.8 670.8h.01M477.5 715.5h.01M595.9 743.7h.01M543.4 684.2h.01M552.5 735.3h.01M494.3 770.3h.01M638.5 756.0h.01M619.8 806.2h.01M542.7 785.1h.01M511.5 790.3h.01M608.7 814.0h.01M680.6 673.8h.01M562.7 780.6h.01M563.3 687.4h.01M536.0 745.1h.01M606.0 762.9h.01M641.6 838.3h.01M676.5 686.1h.01M574.6 676.2h.01M620.0 734.5h.01M641.0 658.0h.01M602.0 738.1h.01M491.7 795.6h.01M541.7 742.6h.01M558.1 858.0h.01M604.3 825.9h.01M567.1 712.3h.01M581.4 838.9h.01M663.9 811.2h.01M481.5 784.2h.01M492.0 706.3h.01M655.9 724.7h.01M573.8 775.2h.01M532.5 738.3h.01M650.3 688.6h.01M613.5 838.7h.01M680.4 859.2h.01M499.2 801.6h.01M494.0 842.3h.01M661.1 762.3h.01M551.6 727.6h.01M605.2 702.8h.01M616.2 749.5h.01M650.4 807.9h.01M653.7 684.0h.01M640.3 813.8h.01M534.4 651.7h.01M493.9 813.3h.01M676.8 665.6h.01M524.2 735.8h.01M487.4 785.8h.01M510.6 842.2h.01M652.6 846.4h.01M658.1 808.9h.01M501.1 836.9h.01M663.3 662.2h.01M476.9 797.7h.01M534.4 833.7h.01M482.8 814.2h.01M515.0 741.5h.01M575.3 719.5h.01M483.9 684.5h.01M500.4 830.4h.01M538.6 857.6h.01M653.2 858.2h.01M566.2 752.7h.01M614.9 754.2h.01M528.4 805.0h.01M519.3 732.0h.01M642.7 680.4h.01M513.0 734.3h.01M484.4 693.6h.01M642.7 797.1h.01M683.1 705.5h.01M675.2 744.3h.01M625.4 814.0h.01M675.9 811.8h.01M640.7 848.3h.01M624.8 684.6h.01M603.2 682.5h.01M593.5 763.5h.01M648.0 802.4h.01M489.7 768.1h.01M474.9 763.0h.01M509.8 757.7h.01M576.8 753.8h.01M633.7 713.9h.01M573.3 703.1h.01M514.6 783.9h.01M591.4 856.0h.01M679.4 756.1h.01M489.1 723.0h.01M670.0 675.5h.01M560.7 715.6h.01M590.7 697.0h.01M554.5 745.7h.01M667.3 657.4h.01M476.4 815.5h.01M598.4 817.6h.01M622.0 668.1h.01M549.7 842.3h.01M566.8 747.1h.01M479.5 769.0h.01M646.2 741.5h.01M549.3 790.4h.01M613.7 829.1h.01M475.1 749.1h.01M595.2 691.9h.01M657.9 657.8h.01M608.3 682.0h.01M605.9 841.4h.01M644.6 731.6h.01M499.0 796.3h.01M503.3 809.9h.01M655.2 821.2h.01M636.2 792.2h.01M508.9 720.5h.01M532.1 712.7h.01M682.1 652.3h.01M565.7 725.7h.01M645.6 842.2h.01M656.2 760.9h.01M622.5 787.8h.01M499.4 731.2h.01M563.4 843.3h.01M550.0 835.9h.01M578.1 784.8h.01M574.4 733.6h.01M513.1 715.8h.01M555.7 770.1h.01M552.4 707.1h.01M661.4 681.2h.01M575.5 762.5h.01M530.4 658.9h.01M495.1 789.1h.01M514.1 801.0h.01M562.5 739.2h.01M563.1 834.1h.01M495.5 655.0h.01M544.3 692.1h.01M523.8 753.2h.01M655.2 797.0h.01M655.3 741.7h.01M504.2 800.3h.01M682.5 687.0h.01M602.2 732.6h.01M680.0 658.4h.01M573.6 726.6h.01M473.1 709.2h.01M475.9 781.0h.01M611.3 846.0h.01M659.2 850.2h.01M528.7 718.1h.01M619.7 724.0h.01M552.1 659.8h.01M490.4 736.8h.01M649.8 651.6h.01M570.3 661.0h.01M474.4 662.0h.01M615.3 665.7h.01M541.7 700.2h.01M669.2 669.7h.01M661.9 654.5h.01M510.4 687.5h.01M531.7 822.2h.01M641.8 827.1h.01M655.3 804.7h.01M646.3 822.8h.01M620.5 850.3h.01M630.2 839.1h.01M577.5 738.3h.01M625.0 705.2h.01M564.8 787.6h.01M677.3 804.5h.01M476.7 732.5h.01M532.7 814.0h.01M613.4 652.1h.01M502.2 672.2h.01M488.0 703.5h.01M502.0 742.1h.01M611.4 744.0h.01M569.9 772.7h.01M676.5 781.2h.01M563.5 858.9h.01M681.3 800.0h.01M673.4 695.2h.01M644.8 766.5h.01M496.8 691.4h.01M504.6 787.8h.01M626.5 652.6h.01M634.2 831.5h.01M530.2 769.0h.01M614.2 658.5h.01M608.5 801.4h.01M610.1 794.5h.01M548.2 851.1h.01M653.3 677.3h.01M682.0 748.6h.01M523.5 782.0h.01M526.2 709.0h.01M644.5 747.3h.01M632.4 691.9h.01M542.9 844.0h.01M631.4 738.5h.01M506.0 792.7h.01M657.1 839.3h.01M506.5 780.0h.01M562.2 772.0h.01M506.3 856.3h.01M589.5 707.2h.01M553.9 686.2h.01M643.4 698.8h.01M601.7 707.1h.01M682.9 723.7h.01M611.5 778.7h.01M673.7 836.4h.01M537.3 839.3h.01M575.3 828.4h.01M609.1 707.4h.01M504.4 682.5h.01M473.5 718.1h.01M574.9 663.5h.01" stroke="#fff" stroke-opacity="0.32" stroke-width="4.0" stroke-linecap="round" fill="none"/><path d="M668.4 768.7h.01M614.7 855.4h.01M666.1 686.3h.01M573.8 849.5h.01M615.5 781.1h.01M562.5 653.1h.01M597.5 811.4h.01M592.7 817.9h.01M480.8 748.5h.01M648.2 854.7h.01M659.3 718.8h.01M488.2 842.0h.01M650.1 814.6h.01M579.3 713.8h.01M476.7 821.1h.01M521.2 853.0h.01M559.3 721.1h.01M679.5 739.1h.01M571.3 825.9h.01M483.4 665.0h.01M551.8 762.9h.01M680.5 790.8h.01M653.7 853.5h.01M482.4 808.5h.01M567.0 655.6h.01M523.2 683.6h.01M533.5 730.6h.01M615.0 773.2h.01M595.0 796.9h.01M530.1 794.0h.01M486.3 671.2h.01M592.2 787.6h.01M531.3 857.5h.01M497.1 821.6h.01M587.5 776.2h.01M562.7 664.5h.01M629.3 823.0h.01M536.5 758.9h.01M561.4 817.6h.01M492.7 661.8h.01M604.3 817.5h.01M673.0 659.0h.01M676.0 850.4h.01M561.3 829.4h.01M526.2 828.2h.01M584.3 807.2h.01M593.7 828.6h.01M654.9 696.2h.01M601.5 676.5h.01M652.8 710.3h.01M557.3 814.5h.01M635.5 839.5h.01M555.8 795.9h.01M518.0 840.9h.01M604.4 850.0h.01M667.0 855.5h.01M615.9 717.0h.01M509.7 696.0h.01M596.2 712.3h.01M633.4 774.4h.01M516.1 849.0h.01M624.7 740.6h.01M683.3 663.6h.01M493.9 805.5h.01M515.8 767.4h.01M659.2 816.0h.01M595.6 838.3h.01M490.2 715.3h.01M480.7 834.0h.01M476.0 691.3h.01M610.0 758.2h.01M517.0 825.1h.01M534.6 706.8h.01M643.6 832.1h.01M473.3 736.3h.01M525.2 659.7h.01M483.7 659.8h.01M612.8 767.4h.01M681.0 764.3h.01M621.2 753.6h.01M591.4 813.0h.01M624.7 757.1h.01M561.9 732.0h.01M587.5 766.7h.01M548.4 685.4h.01M575.9 840.8h.01M543.5 712.0h.01M640.7 807.2h.01M627.4 860.7h.01M483.4 701.0h.01M542.9 755.8h.01M596.6 823.1h.01M578.4 771.9h.01M666.7 837.6h.01M516.9 831.8h.01M682.5 853.0h.01M531.6 695.4h.01M679.0 697.6h.01M616.2 743.8h.01M659.6 671.3h.01M499.8 755.7h.01M635.8 665.3h.01M652.7 784.4h.01M645.2 781.5h.01M672.4 689.3h.01M532.7 798.2h.01M588.7 675.5h.01M599.9 758.0h.01M624.0 770.9h.01M521.8 825.6h.01M584.5 737.6h.01M499.1 722.4h.01M623.0 857.7h.01M682.6 715.2h.01M663.6 726.7h.01M594.0 807.7h.01M654.4 778.6h.01M550.5 804.2h.01M494.3 852.2h.01M492.5 697.4h.01M629.3 712.1h.01M524.0 717.7h.01M489.5 677.1h.01M652.3 765.3h.01M607.2 734.3h.01M601.8 854.2h.01M573.5 742.2h.01M507.4 740.7h.01M620.8 654.8h.01M489.4 728.8h.01M623.6 695.2h.01M575.8 670.0h.01M484.9 773.5h.01M585.1 762.5h.01M528.0 731.9h.01M484.4 734.5h.01M669.0 740.2h.01M633.6 785.3h.01M674.1 854.6h.01M610.5 728.7h.01M609.2 670.3h.01M495.6 685.5h.01M476.2 725.8h.01M493.4 765.1h.01M505.4 706.7h.01M646.8 753.1h.01M582.5 830.3h.01M611.0 788.2h.01M659.1 779.9h.01M568.3 850.3h.01M642.5 774.5h.01M533.9 826.3h.01M682.5 832.8h.01M539.9 708.4h.01M507.8 673.4h.01M636.4 709.3h.01M600.1 841.6h.01M562.3 746.1h.01M476.6 774.1h.01M625.3 796.4h.01M619.6 774.2h.01M675.6 673.6h.01M645.1 703.0h.01M671.1 763.6h.01M634.2 702.5h.01M573.0 652.8h.01M508.6 774.2h.01M681.8 782.1h.01M611.9 859.9h.01M512.7 815.4h.01M580.7 818.2h.01M481.2 828.1h.01M677.5 828.9h.01M597.4 803.4h.01M568.7 760.5h.01M519.4 858.9h.01M543.8 655.8h.01M644.6 721.0h.01M508.3 702.3h.01M516.5 806.0h.01M592.4 845.6h.01M542.2 748.5h.01M663.9 801.3h.01M595.7 723.3h.01M620.7 839.4h.01M654.5 718.5h.01M510.0 709.3h.01M554.0 790.3h.01M663.2 842.3h.01M658.9 824.3h.01M537.5 725.8h.01M604.0 792.1h.01M559.6 691.1h.01M630.1 697.9h.01M580.7 720.1h.01M629.9 674.7h.01M500.4 661.3h.01M547.8 652.6h.01M505.3 690.5h.01M628.0 846.8h.01M516.4 745.9h.01M583.3 655.6h.01M520.7 777.8h.01M609.9 824.5h.01M613.0 678.6h.01M582.0 746.8h.01M587.3 719.4h.01M664.1 849.3h.01M494.4 778.3h.01M539.6 801.2h.01M486.6 744.4h.01M606.2 742.9h.01M629.5 745.3h.01M490.3 848.3h.01M554.5 818.6h.01M600.5 723.4h.01M487.8 656.3h.01M670.6 752.6h.01M640.8 712.1h.01M646.1 685.7h.01M496.2 847.8h.01M588.9 829.0h.01M639.8 725.6h.01M563.7 851.4h.01M600.3 750.2h.01M514.9 725.6h.01M625.2 829.1h.01M530.8 776.3h.01M524.1 845.5h.01M628.8 782.6h.01M615.0 705.2h.01M570.4 816.3h.01M673.5 735.8h.01M523.8 838.1h.01M589.6 749.7h.01M503.6 652.2h.01M601.9 697.6h.01M544.4 668.2h.01M495.2 702.1h.01M648.1 726.6h.01M568.1 839.6h.01M590.0 772.3h.01M500.6 765.9h.01M665.0 666.7h.01M480.6 669.3h.01M605.4 752.4h.01M669.3 729.4h.01M621.2 707.9h.01M524.7 693.0h.01M555.4 693.7h.01M521.0 786.7h.01M519.3 737.6h.01M489.4 820.1h.01M564.8 696.6h.01M623.9 718.9h.01M508.7 809.7h.01M523.3 651.9h.01M595.4 736.5h.01M628.8 666.8h.01M610.4 808.1h.01M672.6 792.4h.01M526.9 786.6h.01M588.4 790.4h.01M635.6 859.9h.01M550.8 696.5h.01M511.1 655.0h.01M666.7 721.9h.01M602.5 833.2h.01M509.9 727.5h.01M584.6 751.1h.01M580.9 701.8h.01M618.4 831.8h.01M558.3 683.5h.01M635.4 818.1h.01M541.1 809.9h.01M525.0 674.3h.01M475.0 701.9h.01M483.0 715.9h.01M630.7 814.5h.01M633.5 753.8h.01M508.0 837.5h.01M505.7 814.2h.01M642.1 675.5h.01M554.1 779.6h.01M561.0 755.5h.01M643.5 855.0h.01M628.2 776.8h.01M627.3 734.5h.01M484.0 705.7h.01M532.2 844.4h.01M648.9 836.7h.01M532.9 849.5h.01M533.4 717.2h.01M672.2 827.8h.01M478.2 811.2h.01M520.7 800.6h.01M525.8 763.5h.01M671.4 707.6h.01M618.9 684.5h.01M615.4 699.7h.01M652.3 669.7h.01M647.1 695.7h.01M499.2 708.6h.01M504.4 698.5h.01M541.4 720.8h.01M484.4 710.6h.01M616.2 694.3h.01M644.5 816.7h.01M516.4 653.7h.01M539.0 764.1h.01M505.7 734.2h.01M575.9 813.3h.01M609.7 749.5h.01M669.2 663.7h.01M516.6 719.0h.01M682.5 847.8h.01M530.0 723.6h.01M656.3 736.9h.01M521.2 747.5h.01M492.6 681.3h.01M575.8 697.7h.01M635.2 811.9h.01M679.2 728.2h.01M662.1 704.8h.01M582.1 676.1h.01M671.5 713.2h.01M599.4 651.6h.01M582.5 824.2h.01M482.8 801.6h.01M498.7 783.9h.01M484.2 721.7h.01M638.3 771.4h.01M508.0 826.4h.01M630.7 720.4h.01M597.8 834.0h.01M618.2 858.5h.01M664.2 672.3h.01M605.7 768.1h.01M551.3 768.2h.01M487.0 853.0h.01M656.4 664.6h.01M654.2 811.7h.01M521.6 833.6h.01M648.6 666.5h.01M668.5 860.5h.01M595.5 684.1h.01M492.7 830.3h.01M554.8 718.9h.01M637.8 740.3h.01M646.7 849.9h.01M666.9 779.9h.01M495.5 666.5h.01M517.3 792.9h.01M486.2 833.8h.01M617.1 673.5h.01M682.2 812.1h.01M529.1 679.4h.01M647.1 786.2h.01M483.4 739.7h.01M565.4 793.4h.01M531.3 752.9h.01M664.2 829.9h.01M656.5 791.2h.01M595.3 753.5h.01M518.2 815.8h.01M527.0 799.5h.01M474.8 696.8h.01M608.0 675.9h.01M601.8 670.6h.01M618.0 766.2h.01M571.2 709.8h.01M487.5 815.6h.01M570.2 857.5h.01M601.4 664.8h.01M492.7 824.6h.01M574.2 683.2h.01M529.5 839.4h.01M624.0 843.9h.01M524.1 815.5h.01M475.1 855.8h.01M614.9 808.7h.01M663.1 742.8h.01M609.8 833.7h.01M538.3 769.0h.01M558.2 801.9h.01M570.3 755.1h.01M533.8 668.0h.01M496.3 859.4h.01M578.6 777.9h.01M608.6 714.4h.01M527.4 756.7h.01M622.0 800.9h.01M591.4 745.3h.01M677.6 774.8h.01M622.8 766.1h.01M611.0 850.7h.01M551.5 812.9h.01M557.7 839.2h.01M510.2 767.4h.01M538.5 752.8h.01M509.3 802.3h.01M668.3 807.5h.01M543.4 780.2h.01M537.4 696.1h.01M573.1 833.2h.01M498.5 681.3h.01M583.6 779.5h.01M621.4 818.2h.01M590.2 669.5h.01M534.5 676.9h.01M603.7 774.6h.01M579.3 729.4h.01M559.6 784.4h.01M571.2 715.2h.01M497.0 745.7h.01M563.7 765.3h.01M595.5 663.1h.01M610.2 819.5h.01M473.2 656.0h.01M620.2 699.1h.01M558.2 760.3h.01M542.9 794.1h.01M631.2 769.7h.01M677.6 713.0h.01M513.9 854.0h.01M644.9 736.3h.01M506.9 715.5h.01M631.6 849.6h.01M534.2 763.4h.01M678.8 840.6h.01M546.0 660.5h.01M540.6 773.5h.01M669.1 832.0h.01M631.5 792.2h.01M658.5 855.4h.01M653.9 705.9h.01M567.0 776.7h.01M599.7 685.9h.01M655.4 746.6h.01M648.7 714.5h.01M682.5 692.6h.01M479.9 759.8h.01M674.4 860.8h.01M640.4 665.5h.01M589.2 653.6h.01M589.1 737.1h.01M618.5 796.2h.01M536.1 853.1h.01M584.4 732.1h.01M560.0 699.7h.01M626.1 678.2h.01M669.5 846.6h.01M525.7 858.8h.01M604.9 727.3h.01M667.6 798.2h.01M578.2 706.7h.01M657.2 830.0h.01M534.9 781.5h.01M642.6 694.1h.01M474.6 679.9h.01M502.5 772.5h.01M512.3 671.2h.01M587.4 850.6h.01M638.2 691.5h.01M585.5 666.2h.01M650.6 737.4h.01M663.5 732.8h.01M504.4 755.5h.01M521.3 710.5h.01M605.1 691.1h.01M581.6 789.7h.01M556.7 764.8h.01M565.6 675.9h.01M571.7 737.5h.01M552.9 753.7h.01M650.9 826.8h.01M567.0 830.8h.01M673.5 723.9h.01M634.7 765.7h.01M478.1 657.3h.01" stroke="#fff" stroke-opacity="0.5" stroke-width="4.4" stroke-linecap="round" fill="none"/><path d="M666.8 704.9h.01M521.0 663.4h.01M513.2 837.2h.01M542.6 837.6h.01M681.0 681.3h.01M568.2 806.6h.01M668.2 681.1h.01M596.8 782.8h.01M501.0 846.9h.01M568.4 703.3h.01M483.4 837.7h.01M582.7 801.3h.01M575.6 855.1h.01M639.3 735.2h.01M503.6 819.6h.01M480.3 779.5h.01M547.7 700.3h.01M498.8 808.5h.01M505.2 832.6h.01M565.5 682.1h.01M474.2 834.7h.01M539.3 820.0h.01M636.0 847.1h.01M496.0 737.6h.01M669.6 653.0h.01M492.0 688.9h.01M620.2 811.1h.01M590.8 838.1h.01M473.1 849.2h.01M585.8 694.4h.01M649.1 706.6h.01M548.3 720.1h.01M665.0 785.6h.01M603.0 799.8h.01M491.9 745.2h.01M681.8 733.3h.01M647.6 759.4h.01M617.5 791.2h.01M529.2 748.6h.01M647.0 770.6h.01M659.8 756.9h.01M658.2 731.8h.01M545.6 814.2h.01M611.2 662.7h.01M595.5 860.0h.01M534.6 803.9h.01M538.7 667.8h.01M554.8 655.6h.01M650.3 720.6h.01M494.1 717.8h.01M674.8 823.8h.01M515.0 665.6h.01M556.3 830.2h.01M592.2 719.0h.01M549.2 780.3h.01M514.6 692.5h.01M682.3 771.7h.01M639.4 750.9h.01M659.1 860.4h.01M639.3 670.3h.01M521.8 759.0h.01M600.8 787.7h.01M555.8 731.2h.01M514.9 700.8h.01M647.4 794.8h.01M500.4 854.2h.01M497.7 773.6h.01M635.6 801.7h.01M473.6 807.1h.01M611.0 738.4h.01M523.7 795.5h.01M515.8 709.0h.01M636.7 721.2h.01M633.7 780.0h.01M647.7 776.4h.01M499.2 676.7h.01M473.2 742.5h.01M546.9 724.7h.01M476.4 826.1h.01M655.0 769.8h.01M633.1 854.2h.01M580.0 734.1h.01M582.2 709.6h.01M645.4 690.2h.01M638.8 778.8h.01M548.8 665.7h.01M489.5 801.0h.01M510.0 666.5h.01M622.8 834.2h.01M627.2 763.8h.01M638.6 761.2h.01M501.9 718.1h.01M552.9 714.4h.01M512.1 682.8h.01M655.0 652.4h.01M517.8 714.4h.01M615.1 729.3h.01M489.4 776.0h.01M478.0 708.2h.01M558.2 852.3h.01M595.3 668.9h.01M620.0 689.5h.01M599.2 828.7h.01M636.1 684.1h.01M501.6 859.8h.01M676.0 652.0h.01M585.9 686.0h.01M543.4 761.0h.01M551.2 679.9h.01M647.3 661.2h.01M473.4 794.0h.01M672.3 777.0h.01M675.7 704.0h.01M526.4 774.6h.01M589.2 713.5h.01M488.9 762.8h.01M645.6 806.4h.01M504.4 728.8h.01M581.2 859.1h.01M544.1 824.1h.01M630.3 680.5h.01M644.9 859.9h.01M587.4 783.4h.01M490.3 651.6h.01M616.5 786.6h.01M511.0 857.6h.01M658.6 834.4h.01M510.0 784.2h.01M545.7 775.0h.01M478.0 804.3h.01M628.8 687.7h.01M650.3 748.7h.01M516.1 678.8h.01M505.3 657.0h.01M523.5 729.8h.01M538.1 845.9h.01M536.1 808.8h.01M541.3 736.2h.01M582.3 843.4h.01M547.1 736.8h.01M631.9 727.6h.01M481.7 689.2h.01M516.2 776.4h.01M605.8 666.4h.01M624.9 805.9h.01M677.8 833.8h.01M501.2 748.4h.01M500.3 777.7h.01M514.5 821.0h.01M612.4 711.3h.01M547.1 746.8h.01M570.3 667.6h.01M568.9 766.3h.01M621.1 713.4h.01M681.5 816.9h.01M479.5 695.0h.01M485.1 726.4h.01M621.9 792.6h.01M528.7 705.0h.01M558.6 806.8h.01M573.2 769.0h.01M486.6 791.0h.01M651.7 792.1h.01M600.0 858.8h.01M610.4 772.2h.01M682.8 837.6h.01M500.6 791.4h.01M606.0 787.7h.01M535.3 663.3h.01M584.4 757.8h.01M522.9 810.1h.01M482.9 654.2h.01M572.4 796.2h.01M597.0 703.8h.01M639.7 843.0h.01M670.3 784.5h.01M626.7 789.6h.01M558.1 774.1h.01M648.0 680.4h.01M664.6 698.2h.01M599.1 728.8h.01M623.6 783.1h.01M571.2 779.2h.01M563.9 760.0h.01M549.8 795.1h.01M550.9 691.6h.01M523.5 740.4h.01M676.2 749.2h.01M569.8 678.5h.01M594.7 772.2h.01M499.7 696.8h.01M619.2 678.5h.01M590.7 661.2h.01M666.7 709.6h.01M590.4 797.6h.01M620.1 729.1h.01M593.4 851.4h.01M639.9 766.5h.01M505.6 760.8h.01M572.2 810.5h.01M553.4 851.4h.01M548.1 759.0h.01M634.3 748.1h.01M664.6 753.1h.01M683.1 743.3h.01M561.1 795.0h.01M555.4 724.4h.01M547.4 784.9h.01M495.0 750.4h.01M628.0 753.7h.01M473.2 786.7h.01M493.7 836.3h.01M505.4 667.3h.01M641.0 802.1h.01M536.3 685.3h.01M536.9 796.5h.01M638.2 730.2h.01M475.6 652.0h.01M594.2 651.7h.01M478.8 721.8h.01M682.7 786.7h.01M659.7 798.8h.01M523.5 790.8h.01M526.9 820.6h.01M590.7 681.2h.01M555.9 678.5h.01M592.3 802.2h.01M537.3 739.9h.01M679.5 719.4h.01M656.4 713.4h.01M473.4 829.8h.01M547.8 860.4h.01M639.2 651.6h.01M567.1 741.2h.01M678.9 795.5h.01M580.1 767.3h.01M658.8 676.1h.01M604.2 812.7h.01M616.0 739.0h.01M542.2 849.6h.01M540.3 716.0h.01M609.1 688.1h.01M676.1 763.0h.01M646.4 828.0h.01M570.3 672.7h.01M604.4 712.6h.01M599.7 763.5h.01M682.7 828.2h.01M625.3 838.3h.01M571.2 845.4h.01M567.8 691.1h.01M482.0 790.8h.01M514.3 810.3h.01M542.0 860.9h.01M681.4 668.8h.01M639.6 717.5h.01M516.4 673.6h.01M641.1 706.6h.01M614.2 721.6h.01M485.1 768.5h.01M478.9 740.7h.01M626.3 671.0h.01M524.9 722.4h.01M636.0 796.8h.01M494.5 723.2h.01M577.4 804.1h.01M601.8 821.3h.01M614.4 823.3h.01M638.7 854.5h.01M499.0 842.5h.01M608.4 651.6h.01M625.2 724.2h.01M482.4 849.3h.01M473.6 770.6h.01M500.6 656.5h.01M670.6 840.5h.01M473.3 685.3h.01M583.1 725.3h.01M595.0 748.9h.01M487.4 681.4h.01M526.8 688.0h.01M658.7 845.5h.01M565.4 660.2h.01M512.4 779.0h.01M645.2 710.0h.01M504.3 722.5h.01M492.0 785.7h.01M629.7 707.3h.01M577.0 823.6h.01M634.2 826.7h.01M631.3 797.5h.01M489.4 810.9h.01M528.8 781.1h.01" stroke="#fff" stroke-opacity="0.7" stroke-width="4.6" stroke-linecap="round" fill="none"/><path d="M661.1 792.0h.01M507.1 678.5h.01M669.0 851.3h.01M578.4 652.2h.01M579.2 679.9h.01M651.8 840.6h.01M650.0 820.0h.01M500.5 687.1h.01M510.1 851.1h.01M517.5 762.9h.01M621.9 672.9h.01M631.7 843.6h.01M520.7 700.7h.01M591.7 833.1h.01M539.7 651.6h.01M581.3 741.7h.01M511.8 746.2h.01M605.4 660.5h.01M605.1 758.2h.01M621.1 761.8h.01M620.8 744.9h.01M638.0 834.4h.01M496.8 671.2h.01M560.0 704.7h.01M551.1 847.2h.01M651.0 743.7h.01M601.4 745.5h.01M682.9 842.8h.01M661.2 747.6h.01M654.2 751.6h.01M531.4 744.0h.01M592.5 792.9h.01M638.9 701.6h.01M664.0 677.0h.01M534.2 771.7h.01M661.7 837.9h.01M658.7 692.8h.01M584.5 713.9h.01M488.3 665.7h.01M534.4 721.8h.01M494.6 710.4h.01M566.1 826.2h.01M629.8 828.0h.01M663.8 860.2h.01M502.9 805.0h.01M565.3 716.5h.01M627.7 818.5h.01M586.8 840.4h.01M537.8 785.9h.01M678.2 845.6h.01M480.2 736.3h.01M666.1 762.9h.01M487.5 698.1h.01M595.1 758.6h.01M562.7 800.1h.01M531.6 759.6h.01M526.0 668.6h.01M545.8 716.3h.01M574.4 757.8h.01M523.9 704.6h.01M547.6 809.6h.01M536.7 712.5h.01M599.9 692.0h.01M625.4 700.3h.01M543.1 678.7h.01M643.4 756.7h.01M497.5 826.4h.01M557.7 651.9h.01M644.0 668.3h.01M670.1 718.6h.01M589.2 808.7h.01M615.1 734.2h.01M644.7 812.0h.01M682.0 776.5h.01M610.2 783.6h.01M608.2 829.3h.01M606.7 697.6h.01M589.6 731.5h.01M485.0 751.2h.01M515.0 860.5h.01" stroke="#fff" stroke-opacity="0.95" stroke-width="4.8" stroke-linecap="round" fill="none"/>
</g></g>
<clipPath id="ca2"><rect x="837" y="650.5" width="215.7" height="214.5"/></clipPath>
<g clip-path="url(#ca2)"><g filter="url(#fa3)"><rect x="807" y="620.5" width="275.7" height="274.5" fill="#595959"/>
<g fill="none" stroke-linecap="round" stroke-linejoin="round">
<g stroke="#858585" stroke-width="12.5"><path d="M867.5 726.2 L879.7 736.0 L891.9 743.4"/><path d="M877.2 748.2 L885.8 744.6 L900.4 748.2 L910.2 754.3"/><path d="M854.1 662.7 L861.4 670.0"/><path d="M997.3 673.7 L1008.3 671.3 L1013.2 667.6"/><path d="M949.7 704.3 L961.9 707.9 L969.2 716.5"/><path d="M998.6 657.8 L1008.3 655.4"/><path d="M866.3 802.7 L878.4 806.4 L888.2 814.9"/><path d="M900.4 828.4 L905.3 818.6"/><path d="M873.6 762.4 L883.3 769.7"/><path d="M905.3 860.1 L915.1 855.2"/><path d="M965.6 822.2 L972.9 830.8"/><path d="M1013.2 852.8 L1020.4 858.9"/><path d="M1022.9 818.6 L1035.1 816.1 L1042.4 821.0"/></g>
<g stroke="#919191" stroke-width="14.5"><path d="M868.8 676.2 L877.2 685.9 L885.8 695.7 L888.2 704.3"/><path d="M844.3 657.8 L845.6 674.9 L841.9 689.6"/><path d="M838.2 696.9 L849.2 701.8"/><path d="M838.2 734.8 L845.6 742.1 L849.2 754.3"/><path d="M895.5 687.2 L907.8 689.6"/><path d="M905.3 662.7 L915.1 660.3"/><path d="M917.5 671.3 L922.4 690.8"/><path d="M932.2 726.2 L927.3 738.5 L924.9 755.5"/><path d="M941.9 655.4 L938.3 666.4"/><path d="M927.3 699.4 L944.4 696.9"/><path d="M949.7 674.9 L959.5 665.2 L972.9 657.8"/><path d="M972.9 672.5 L985.1 678.6 L992.4 689.6 L991.2 699.4"/><path d="M993.7 709.1 L1002.2 699.4 L1010.8 695.7"/><path d="M1035.1 654.2 L1042.4 660.3 L1047.3 670.0"/><path d="M1025.3 662.7 L1032.7 671.3"/><path d="M996.1 728.7 L1010.8 725.0 L1025.3 723.8"/><path d="M1047.3 701.8 L1048.5 718.9"/><path d="M1042.4 684.7 L1049.7 692.0"/><path d="M1030.2 736.0 L1040.0 740.9 L1042.4 748.2"/><path d="M1003.4 755.5 L1013.2 748.2"/><path d="M944.9 750.7 L959.5 751.9 L969.2 755.5"/><path d="M851.7 797.8 L844.3 810.0 L841.9 818.6"/><path d="M920.0 775.8 L929.8 785.6 L934.6 797.8 L934.6 811.3"/><path d="M854.1 833.2 L868.8 825.9 L883.3 825.9 L893.1 830.8"/><path d="M885.8 835.7 L890.7 847.9 L898.0 855.2"/><path d="M861.4 843.0 L859.0 855.2 L851.7 863.8"/><path d="M941.9 767.3 L944.4 781.9"/><path d="M993.7 757.5 L993.7 767.3"/><path d="M1010.8 762.4 L1022.9 772.2 L1037.6 778.3 L1042.4 781.9"/><path d="M1042.4 781.9 L1035.1 789.3 L1024.1 799.0"/><path d="M1049.7 797.8 L1048.5 811.3"/><path d="M968.0 799.0 L975.3 810.0 L979.0 821.0"/><path d="M991.2 805.1 L1003.4 806.4 L1007.1 816.1 L1003.4 825.9"/><path d="M987.6 823.5 L993.7 835.7 L1002.2 846.7 L996.1 855.2"/><path d="M979.0 858.9 L981.5 864.5"/></g>
<g stroke="#969696" stroke-width="15.5"><path d="M885.8 654.2 L877.2 663.9 L868.8 676.2"/><path d="M874.8 709.1 L861.4 718.9 L850.4 728.7"/><path d="M905.3 707.9 L920.0 714.0 L932.2 726.2"/><path d="M977.8 695.7 L980.2 707.9 L982.7 720.1 L975.3 733.6 L972.9 745.8"/><path d="M1015.7 701.8 L1020.4 689.6 L1030.2 679.8 L1040.0 673.7"/><path d="M986.3 733.6 L993.7 743.4 L996.1 748.2 L991.2 756.8"/><path d="M852.9 761.2 L851.7 772.2 L844.3 784.4"/><path d="M890.7 788.0 L895.5 777.0 L907.8 770.9 L920.0 775.8"/><path d="M915.1 825.9 L922.4 835.7 L933.4 843.0 L938.3 857.7"/><path d="M977.8 764.8 L974.1 777.0 L969.2 786.8"/><path d="M948.5 789.3 L949.7 803.9 L952.1 813.7"/><path d="M1049.7 779.5 L1051.0 785.6"/><path d="M1032.7 830.8 L1030.2 840.6 L1035.1 850.4 L1035.1 862.5"/></g>
<g stroke="#969696" stroke-width="7"><path d="M867.5 726.2 L879.7 736.0 L891.9 743.4"/><path d="M877.2 748.2 L885.8 744.6 L900.4 748.2 L910.2 754.3"/><path d="M854.1 662.7 L861.4 670.0"/><path d="M997.3 673.7 L1008.3 671.3 L1013.2 667.6"/><path d="M949.7 704.3 L961.9 707.9 L969.2 716.5"/><path d="M998.6 657.8 L1008.3 655.4"/><path d="M866.3 802.7 L878.4 806.4 L888.2 814.9"/><path d="M900.4 828.4 L905.3 818.6"/><path d="M873.6 762.4 L883.3 769.7"/><path d="M905.3 860.1 L915.1 855.2"/><path d="M965.6 822.2 L972.9 830.8"/><path d="M1013.2 852.8 L1020.4 858.9"/><path d="M1022.9 818.6 L1035.1 816.1 L1042.4 821.0"/></g>
<g stroke="#ababab" stroke-width="9"><path d="M868.8 676.2 L877.2 685.9 L885.8 695.7 L888.2 704.3"/><path d="M844.3 657.8 L845.6 674.9 L841.9 689.6"/><path d="M838.2 696.9 L849.2 701.8"/><path d="M838.2 734.8 L845.6 742.1 L849.2 754.3"/><path d="M895.5 687.2 L907.8 689.6"/><path d="M905.3 662.7 L915.1 660.3"/><path d="M917.5 671.3 L922.4 690.8"/><path d="M932.2 726.2 L927.3 738.5 L924.9 755.5"/><path d="M941.9 655.4 L938.3 666.4"/><path d="M927.3 699.4 L944.4 696.9"/><path d="M949.7 674.9 L959.5 665.2 L972.9 657.8"/><path d="M972.9 672.5 L985.1 678.6 L992.4 689.6 L991.2 699.4"/><path d="M993.7 709.1 L1002.2 699.4 L1010.8 695.7"/><path d="M1035.1 654.2 L1042.4 660.3 L1047.3 670.0"/><path d="M1025.3 662.7 L1032.7 671.3"/><path d="M996.1 728.7 L1010.8 725.0 L1025.3 723.8"/><path d="M1047.3 701.8 L1048.5 718.9"/><path d="M1042.4 684.7 L1049.7 692.0"/><path d="M1030.2 736.0 L1040.0 740.9 L1042.4 748.2"/><path d="M1003.4 755.5 L1013.2 748.2"/><path d="M944.9 750.7 L959.5 751.9 L969.2 755.5"/><path d="M851.7 797.8 L844.3 810.0 L841.9 818.6"/><path d="M920.0 775.8 L929.8 785.6 L934.6 797.8 L934.6 811.3"/><path d="M854.1 833.2 L868.8 825.9 L883.3 825.9 L893.1 830.8"/><path d="M885.8 835.7 L890.7 847.9 L898.0 855.2"/><path d="M861.4 843.0 L859.0 855.2 L851.7 863.8"/><path d="M941.9 767.3 L944.4 781.9"/><path d="M993.7 757.5 L993.7 767.3"/><path d="M1010.8 762.4 L1022.9 772.2 L1037.6 778.3 L1042.4 781.9"/><path d="M1042.4 781.9 L1035.1 789.3 L1024.1 799.0"/><path d="M1049.7 797.8 L1048.5 811.3"/><path d="M968.0 799.0 L975.3 810.0 L979.0 821.0"/><path d="M991.2 805.1 L1003.4 806.4 L1007.1 816.1 L1003.4 825.9"/><path d="M987.6 823.5 L993.7 835.7 L1002.2 846.7 L996.1 855.2"/><path d="M979.0 858.9 L981.5 864.5"/></g>
<g stroke="#b6b6b6" stroke-width="10"><path d="M885.8 654.2 L877.2 663.9 L868.8 676.2"/><path d="M874.8 709.1 L861.4 718.9 L850.4 728.7"/><path d="M905.3 707.9 L920.0 714.0 L932.2 726.2"/><path d="M977.8 695.7 L980.2 707.9 L982.7 720.1 L975.3 733.6 L972.9 745.8"/><path d="M1015.7 701.8 L1020.4 689.6 L1030.2 679.8 L1040.0 673.7"/><path d="M986.3 733.6 L993.7 743.4 L996.1 748.2 L991.2 756.8"/><path d="M852.9 761.2 L851.7 772.2 L844.3 784.4"/><path d="M890.7 788.0 L895.5 777.0 L907.8 770.9 L920.0 775.8"/><path d="M915.1 825.9 L922.4 835.7 L933.4 843.0 L938.3 857.7"/><path d="M977.8 764.8 L974.1 777.0 L969.2 786.8"/><path d="M948.5 789.3 L949.7 803.9 L952.1 813.7"/><path d="M1049.7 779.5 L1051.0 785.6"/><path d="M1032.7 830.8 L1030.2 840.6 L1035.1 850.4 L1035.1 862.5"/></g>
<g stroke="#c9c9c9" stroke-width="5.5"><path d="M885.8 654.2 L877.2 663.9 L868.8 676.2"/><path d="M874.8 709.1 L861.4 718.9 L850.4 728.7"/><path d="M905.3 707.9 L920.0 714.0 L932.2 726.2"/><path d="M977.8 695.7 L980.2 707.9 L982.7 720.1 L975.3 733.6 L972.9 745.8"/><path d="M1015.7 701.8 L1020.4 689.6 L1030.2 679.8 L1040.0 673.7"/><path d="M986.3 733.6 L993.7 743.4 L996.1 748.2 L991.2 756.8"/><path d="M852.9 761.2 L851.7 772.2 L844.3 784.4"/><path d="M890.7 788.0 L895.5 777.0 L907.8 770.9 L920.0 775.8"/><path d="M915.1 825.9 L922.4 835.7 L933.4 843.0 L938.3 857.7"/><path d="M977.8 764.8 L974.1 777.0 L969.2 786.8"/><path d="M948.5 789.3 L949.7 803.9 L952.1 813.7"/><path d="M1049.7 779.5 L1051.0 785.6"/><path d="M1032.7 830.8 L1030.2 840.6 L1035.1 850.4 L1035.1 862.5"/></g>
</g>
<ellipse cx="887.9" cy="754.5" rx="6" ry="4" fill="#424242"/>
<ellipse cx="954.8" cy="712.5" rx="5" ry="4" fill="#424242"/>
<ellipse cx="861.0" cy="708.5" rx="5" ry="4" fill="#424242"/>
<ellipse cx="982.8" cy="805.5" rx="7" ry="5" fill="#424242"/>
<ellipse cx="1044.7" cy="832.5" rx="5" ry="8" fill="#424242"/>
<ellipse cx="1006.8" cy="777.5" rx="6" ry="5" fill="#424242"/>
<ellipse cx="857.0" cy="780.5" rx="5" ry="4" fill="#424242"/>
<ellipse cx="896.9" cy="800.5" rx="5" ry="5" fill="#424242"/>
<ellipse cx="1012.8" cy="826.5" rx="4" ry="4" fill="#424242"/>
<ellipse cx="1047.7" cy="678.5" rx="3" ry="5" fill="#424242"/>
<ellipse cx="838.0" cy="828.5" rx="3" ry="5" fill="#424242"/>
<ellipse cx="994.9" cy="745.8" rx="3.2" ry="3.8" fill="#ededed"/>
<ellipse cx="950.3" cy="810.0" rx="3.5" ry="5" fill="#ededed"/>
<ellipse cx="1050.2" cy="782.5" rx="2.5" ry="4" fill="#ededed"/>
<ellipse cx="1033.2" cy="837.5" rx="3" ry="6" fill="#ededed"/>
<ellipse cx="929.8" cy="723.8" rx="4" ry="3" fill="#ededed"/>
<ellipse cx="881.9" cy="659.5" rx="4" ry="3.5" fill="#ededed"/>
<ellipse cx="977.8" cy="712.5" rx="3" ry="5" fill="#ededed"/>
<ellipse cx="976.8" cy="770.5" rx="3" ry="3" fill="#ededed"/>
</g></g>
<path d="M838.5 857h13M838.5 855.5v3M851.5 855.5v3" stroke="#1a0500" stroke-width="0.8" fill="none"/>
<text class="hs" x="95" y="872.5" style="font-size:11.8px">Height Sensor</text>
<path d="M243.7 862H285" stroke="#111" stroke-width="2.4"/>
<text class="hs" x="246" y="873" style="font-size:12.0px">1.0 um</text>
<text class="hs" x="482" y="874" style="font-size:12.1px">Height Sensor</text>
<path d="M632.5 863.5H674.3" stroke="#111" stroke-width="2.4"/>
<text class="hs" x="635" y="875" style="font-size:12.2px">1.0 um</text>
<text class="hs" x="845.7" y="880" style="font-size:12.4px">Height Sensor</text>
<path d="M1000.7 869.3H1044.5" stroke="#111" stroke-width="2.4"/>
<text class="hs" x="1004" y="881" style="font-size:12.5px">1.0 um</text>
<rect x="322" y="702.5" width="13" height="105" fill="url(#cb)" stroke="#333" stroke-width="1"/>
<rect x="712" y="703" width="13" height="105.5" fill="url(#cb)" stroke="#333" stroke-width="1"/>
<rect x="1083.3" y="702.5" width="13.7" height="110" fill="url(#cb)" stroke="#333" stroke-width="1"/>
</g>
</svg></body></html>
